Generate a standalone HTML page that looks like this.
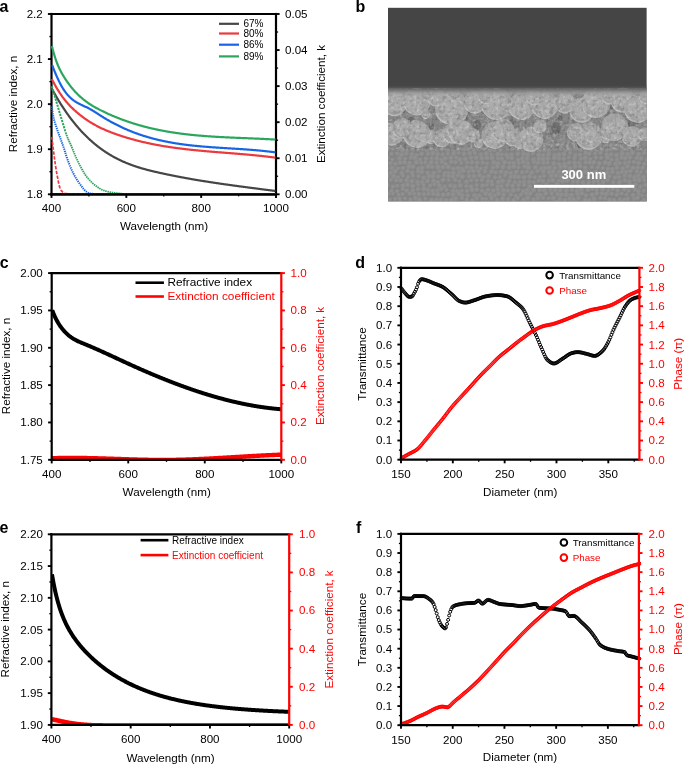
<!DOCTYPE html>
<html><head><meta charset="utf-8"><style>
html,body{margin:0;padding:0;background:#fff;}
svg{display:block;font-family:"Liberation Sans", sans-serif;will-change:transform;}
</style></head><body>
<svg width="685" height="764" viewBox="0 0 685 764">
<rect width="685" height="764" fill="#fff"/>
<line x1="50.4" y1="14" x2="276" y2="14" stroke="#000" stroke-width="2.2"/>
<line x1="50.4" y1="194.3" x2="276" y2="194.3" stroke="#000" stroke-width="2.2"/>
<line x1="51.5" y1="12.9" x2="51.5" y2="195.4" stroke="#000" stroke-width="2.2"/>
<line x1="276" y1="12.9" x2="276" y2="195.4" stroke="#000" stroke-width="2.2"/>
<line x1="51.5" y1="194.3" x2="51.5" y2="197.9" stroke="#000" stroke-width="1.9"/>
<line x1="88.91666666666666" y1="194.3" x2="88.91666666666666" y2="196.4" stroke="#000" stroke-width="1.3"/>
<line x1="126.33333333333333" y1="194.3" x2="126.33333333333333" y2="197.9" stroke="#000" stroke-width="1.9"/>
<line x1="163.75" y1="194.3" x2="163.75" y2="196.4" stroke="#000" stroke-width="1.3"/>
<line x1="201.16666666666666" y1="194.3" x2="201.16666666666666" y2="197.9" stroke="#000" stroke-width="1.9"/>
<line x1="238.58333333333334" y1="194.3" x2="238.58333333333334" y2="196.4" stroke="#000" stroke-width="1.3"/>
<line x1="276.0" y1="194.3" x2="276.0" y2="197.9" stroke="#000" stroke-width="1.9"/>
<line x1="47.9" y1="194.3" x2="51.5" y2="194.3" stroke="#000" stroke-width="1.9"/>
<line x1="49.4" y1="171.7625" x2="51.5" y2="171.7625" stroke="#000" stroke-width="1.3"/>
<line x1="47.9" y1="149.22499999999997" x2="51.5" y2="149.22499999999997" stroke="#000" stroke-width="1.9"/>
<line x1="49.4" y1="126.68749999999994" x2="51.5" y2="126.68749999999994" stroke="#000" stroke-width="1.3"/>
<line x1="47.9" y1="104.15000000000002" x2="51.5" y2="104.15000000000002" stroke="#000" stroke-width="1.9"/>
<line x1="49.4" y1="81.61250000000011" x2="51.5" y2="81.61250000000011" stroke="#000" stroke-width="1.3"/>
<line x1="47.9" y1="59.07499999999999" x2="51.5" y2="59.07499999999999" stroke="#000" stroke-width="1.9"/>
<line x1="49.4" y1="36.53750000000005" x2="51.5" y2="36.53750000000005" stroke="#000" stroke-width="1.3"/>
<line x1="47.9" y1="13.999999999999972" x2="51.5" y2="13.999999999999972" stroke="#000" stroke-width="1.9"/>
<line x1="276" y1="194.3" x2="279.6" y2="194.3" stroke="#000" stroke-width="1.9"/>
<line x1="276" y1="176.27" x2="278.1" y2="176.27" stroke="#000" stroke-width="1.3"/>
<line x1="276" y1="158.24" x2="279.6" y2="158.24" stroke="#000" stroke-width="1.9"/>
<line x1="276" y1="140.21" x2="278.1" y2="140.21" stroke="#000" stroke-width="1.3"/>
<line x1="276" y1="122.18" x2="279.6" y2="122.18" stroke="#000" stroke-width="1.9"/>
<line x1="276" y1="104.15" x2="278.1" y2="104.15" stroke="#000" stroke-width="1.3"/>
<line x1="276" y1="86.12" x2="279.6" y2="86.12" stroke="#000" stroke-width="1.9"/>
<line x1="276" y1="68.08999999999999" x2="278.1" y2="68.08999999999999" stroke="#000" stroke-width="1.3"/>
<line x1="276" y1="50.06" x2="279.6" y2="50.06" stroke="#000" stroke-width="1.9"/>
<line x1="276" y1="32.03000000000003" x2="278.1" y2="32.03000000000003" stroke="#000" stroke-width="1.3"/>
<line x1="276" y1="14.0" x2="279.6" y2="14.0" stroke="#000" stroke-width="1.9"/>
<path d="M51.80,88.62 L52.30,89.54 L52.80,90.46 L53.30,91.36 L53.80,92.26 L54.30,93.15 L54.80,94.03 L55.30,94.91 L55.80,95.77 L56.30,96.63 L56.80,97.49 L57.30,98.33 L57.80,99.17 L58.30,100.00 L58.80,100.83 L59.30,101.64 L59.80,102.45 L60.30,103.25 L60.80,104.05 L61.30,104.84 L61.80,105.62 L62.30,106.40 L62.80,107.16 L63.30,107.93 L63.80,108.68 L64.30,109.43 L64.80,110.17 L65.30,110.90 L65.80,111.63 L66.30,112.35 L66.80,113.07 L67.30,113.78 L67.80,114.48 L68.30,115.17 L68.80,115.86 L69.30,116.55 L69.80,117.22 L70.30,117.90 L70.80,118.56 L71.30,119.22 L71.80,119.87 L72.30,120.52 L72.80,121.16 L73.30,121.79 L73.80,122.42 L74.30,123.04 L74.80,123.66 L75.30,124.27 L75.80,124.87 L76.30,125.47 L76.80,126.07 L77.30,126.65 L77.80,127.24 L78.30,127.81 L78.80,128.39 L79.30,128.95 L79.80,129.51 L80.30,130.07 L80.80,130.62 L81.30,131.16 L81.80,131.70 L82.30,132.23 L82.80,132.76 L83.30,133.28 L83.80,133.80 L84.30,134.32 L84.80,134.82 L85.30,135.33 L85.80,135.83 L86.30,136.32 L86.80,136.81 L87.30,137.29 L87.80,137.77 L88.30,138.24 L88.80,138.71 L89.30,139.18 L89.80,139.64 L90.30,140.09 L90.80,140.54 L91.30,140.99 L91.80,141.43 L92.30,141.87 L92.80,142.30 L93.30,142.73 L93.80,143.16 L94.30,143.58 L94.80,143.99 L95.30,144.40 L95.80,144.81 L96.30,145.22 L96.80,145.62 L97.30,146.01 L97.80,146.40 L98.30,146.79 L98.80,147.17 L99.30,147.55 L99.80,147.93 L100.30,148.30 L100.80,148.67 L101.30,149.03 L101.80,149.39 L102.30,149.75 L102.80,150.10 L103.30,150.45 L103.80,150.79 L104.30,151.13 L104.80,151.47 L105.30,151.80 L105.80,152.13 L106.30,152.46 L106.80,152.78 L107.30,153.10 L107.80,153.42 L108.30,153.73 L108.80,154.04 L109.30,154.35 L109.80,154.65 L110.30,154.95 L110.80,155.24 L111.30,155.54 L111.80,155.83 L112.30,156.11 L112.80,156.40 L113.30,156.68 L113.80,156.95 L114.30,157.23 L114.80,157.50 L115.30,157.76 L115.80,158.03 L116.30,158.29 L116.80,158.55 L117.30,158.80 L117.80,159.06 L118.30,159.30 L118.80,159.55 L119.30,159.80 L119.80,160.04 L120.30,160.28 L120.80,160.51 L121.30,160.74 L121.80,160.97 L122.30,161.20 L122.80,161.43 L123.30,161.65 L123.80,161.87 L124.30,162.09 L124.80,162.30 L125.30,162.51 L125.80,162.72 L126.30,162.93 L126.80,163.14 L127.30,163.34 L127.80,163.54 L128.30,163.74 L128.80,163.93 L129.30,164.13 L129.80,164.32 L130.30,164.51 L130.80,164.70 L131.30,164.88 L131.80,165.06 L132.30,165.24 L132.80,165.42 L133.30,165.60 L133.80,165.78 L134.30,165.95 L134.80,166.12 L135.30,166.29 L135.80,166.46 L136.30,166.62 L136.80,166.78 L137.30,166.95 L137.80,167.11 L138.30,167.26 L138.80,167.42 L139.30,167.58 L139.80,167.73 L140.30,167.88 L140.80,168.03 L141.30,168.18 L141.80,168.33 L142.30,168.47 L142.80,168.61 L143.30,168.76 L143.80,168.90 L144.30,169.04 L144.80,169.18 L145.30,169.31 L145.80,169.45 L146.30,169.58 L146.80,169.72 L147.30,169.85 L147.80,169.98 L148.30,170.11 L148.80,170.24 L149.30,170.37 L149.80,170.49 L150.30,170.62 L150.80,170.74 L151.30,170.87 L151.80,170.99 L152.30,171.11 L152.80,171.23 L153.30,171.35 L153.80,171.47 L154.30,171.59 L154.80,171.71 L155.30,171.82 L155.80,171.94 L156.30,172.05 L156.80,172.17 L157.30,172.28 L157.80,172.40 L158.30,172.51 L158.80,172.62 L159.30,172.73 L159.80,172.84 L160.30,172.96 L160.80,173.07 L161.30,173.18 L161.80,173.29 L162.30,173.39 L162.80,173.50 L163.30,173.61 L163.80,173.72 L164.30,173.83 L164.80,173.93 L165.30,174.04 L165.80,174.15 L166.30,174.25 L166.80,174.36 L167.30,174.46 L167.80,174.57 L168.30,174.67 L168.80,174.77 L169.30,174.88 L169.80,174.98 L170.30,175.08 L170.80,175.18 L171.30,175.29 L171.80,175.39 L172.30,175.49 L172.80,175.59 L173.30,175.69 L173.80,175.79 L174.30,175.89 L174.80,175.98 L175.30,176.08 L175.80,176.18 L176.30,176.28 L176.80,176.38 L177.30,176.47 L177.80,176.57 L178.30,176.67 L178.80,176.76 L179.30,176.86 L179.80,176.95 L180.30,177.05 L180.80,177.14 L181.30,177.24 L181.80,177.33 L182.30,177.42 L182.80,177.52 L183.30,177.61 L183.80,177.70 L184.30,177.79 L184.80,177.88 L185.30,177.97 L185.80,178.07 L186.30,178.16 L186.80,178.25 L187.30,178.34 L187.80,178.43 L188.30,178.52 L188.80,178.60 L189.30,178.69 L189.80,178.78 L190.30,178.87 L190.80,178.96 L191.30,179.04 L191.80,179.13 L192.30,179.22 L192.80,179.30 L193.30,179.39 L193.80,179.48 L194.30,179.56 L194.80,179.65 L195.30,179.73 L195.80,179.82 L196.30,179.90 L196.80,179.98 L197.30,180.07 L197.80,180.15 L198.30,180.23 L198.80,180.32 L199.30,180.40 L199.80,180.48 L200.30,180.56 L200.80,180.65 L201.30,180.73 L201.80,180.81 L202.30,180.89 L202.80,180.97 L203.30,181.05 L203.80,181.13 L204.30,181.21 L204.80,181.29 L205.30,181.37 L205.80,181.45 L206.30,181.53 L206.80,181.61 L207.30,181.68 L207.80,181.76 L208.30,181.84 L208.80,181.92 L209.30,182.00 L209.80,182.07 L210.30,182.15 L210.80,182.23 L211.30,182.30 L211.80,182.38 L212.30,182.46 L212.80,182.53 L213.30,182.61 L213.80,182.68 L214.30,182.76 L214.80,182.83 L215.30,182.91 L215.80,182.98 L216.30,183.06 L216.80,183.13 L217.30,183.20 L217.80,183.28 L218.30,183.35 L218.80,183.42 L219.30,183.50 L219.80,183.57 L220.30,183.64 L220.80,183.72 L221.30,183.79 L221.80,183.86 L222.30,183.93 L222.80,184.00 L223.30,184.08 L223.80,184.15 L224.30,184.22 L224.80,184.29 L225.30,184.36 L225.80,184.43 L226.30,184.50 L226.80,184.57 L227.30,184.64 L227.80,184.71 L228.30,184.78 L228.80,184.85 L229.30,184.92 L229.80,184.99 L230.30,185.06 L230.80,185.13 L231.30,185.20 L231.80,185.27 L232.30,185.34 L232.80,185.41 L233.30,185.47 L233.80,185.54 L234.30,185.61 L234.80,185.68 L235.30,185.75 L235.80,185.82 L236.30,185.88 L236.80,185.95 L237.30,186.02 L237.80,186.09 L238.30,186.15 L238.80,186.22 L239.30,186.29 L239.80,186.35 L240.30,186.42 L240.80,186.49 L241.30,186.56 L241.80,186.62 L242.30,186.69 L242.80,186.75 L243.30,186.82 L243.80,186.89 L244.30,186.95 L244.80,187.02 L245.30,187.09 L245.80,187.15 L246.30,187.22 L246.80,187.28 L247.30,187.35 L247.80,187.41 L248.30,187.48 L248.80,187.54 L249.30,187.61 L249.80,187.68 L250.30,187.74 L250.80,187.81 L251.30,187.87 L251.80,187.94 L252.30,188.00 L252.80,188.07 L253.30,188.13 L253.80,188.20 L254.30,188.26 L254.80,188.33 L255.30,188.39 L255.80,188.46 L256.30,188.52 L256.80,188.58 L257.30,188.65 L257.80,188.71 L258.30,188.78 L258.80,188.84 L259.30,188.91 L259.80,188.97 L260.30,189.04 L260.80,189.10 L261.30,189.17 L261.80,189.23 L262.30,189.29 L262.80,189.36 L263.30,189.42 L263.80,189.49 L264.30,189.55 L264.80,189.62 L265.30,189.68 L265.80,189.74 L266.30,189.81 L266.80,189.87 L267.30,189.94 L267.80,190.00 L268.30,190.07 L268.80,190.13 L269.30,190.20 L269.80,190.26 L270.30,190.32 L270.80,190.39 L271.30,190.45 L271.80,190.52 L272.30,190.58 L272.80,190.65 L273.30,190.71 L273.80,190.78 L274.30,190.84 L274.80,190.91 L275.30,190.97 L275.50,191.00" fill="none" stroke="#464646" stroke-width="2.2" stroke-linejoin="round" stroke-linecap="butt" />
<path d="M51.80,78.89 L52.30,79.90 L52.80,80.89 L53.30,81.87 L53.80,82.82 L54.30,83.76 L54.80,84.68 L55.30,85.59 L55.80,86.47 L56.30,87.35 L56.80,88.20 L57.30,89.04 L57.80,89.86 L58.30,90.67 L58.80,91.46 L59.30,92.24 L59.80,93.00 L60.30,93.75 L60.80,94.49 L61.30,95.21 L61.80,95.92 L62.30,96.61 L62.80,97.29 L63.30,97.96 L63.80,98.62 L64.30,99.26 L64.80,99.90 L65.30,100.52 L65.80,101.13 L66.30,101.73 L66.80,102.32 L67.30,102.89 L67.80,103.46 L68.30,104.02 L68.80,104.57 L69.30,105.11 L69.80,105.64 L70.30,106.16 L70.80,106.67 L71.30,107.18 L71.80,107.67 L72.30,108.16 L72.80,108.65 L73.30,109.12 L73.80,109.59 L74.30,110.05 L74.80,110.51 L75.30,110.95 L75.80,111.40 L76.30,111.84 L76.80,112.27 L77.30,112.70 L77.80,113.12 L78.30,113.54 L78.80,113.95 L79.30,114.36 L79.80,114.76 L80.30,115.16 L80.80,115.55 L81.30,115.94 L81.80,116.33 L82.30,116.71 L82.80,117.08 L83.30,117.45 L83.80,117.82 L84.30,118.18 L84.80,118.53 L85.30,118.89 L85.80,119.24 L86.30,119.58 L86.80,119.92 L87.30,120.26 L87.80,120.59 L88.30,120.91 L88.80,121.24 L89.30,121.56 L89.80,121.87 L90.30,122.19 L90.80,122.49 L91.30,122.80 L91.80,123.10 L92.30,123.40 L92.80,123.69 L93.30,123.98 L93.80,124.26 L94.30,124.55 L94.80,124.83 L95.30,125.10 L95.80,125.37 L96.30,125.64 L96.80,125.91 L97.30,126.17 L97.80,126.43 L98.30,126.69 L98.80,126.94 L99.30,127.19 L99.80,127.44 L100.30,127.68 L100.80,127.93 L101.30,128.16 L101.80,128.40 L102.30,128.63 L102.80,128.86 L103.30,129.09 L103.80,129.32 L104.30,129.54 L104.80,129.76 L105.30,129.98 L105.80,130.20 L106.30,130.41 L106.80,130.62 L107.30,130.83 L107.80,131.03 L108.30,131.24 L108.80,131.44 L109.30,131.64 L109.80,131.84 L110.30,132.04 L110.80,132.23 L111.30,132.42 L111.80,132.61 L112.30,132.80 L112.80,132.99 L113.30,133.18 L113.80,133.36 L114.30,133.54 L114.80,133.72 L115.30,133.90 L115.80,134.08 L116.30,134.26 L116.80,134.43 L117.30,134.60 L117.80,134.78 L118.30,134.95 L118.80,135.12 L119.30,135.29 L119.80,135.45 L120.30,135.62 L120.80,135.79 L121.30,135.95 L121.80,136.11 L122.30,136.27 L122.80,136.43 L123.30,136.59 L123.80,136.75 L124.30,136.91 L124.80,137.07 L125.30,137.22 L125.80,137.37 L126.30,137.53 L126.80,137.68 L127.30,137.83 L127.80,137.98 L128.30,138.12 L128.80,138.27 L129.30,138.42 L129.80,138.56 L130.30,138.70 L130.80,138.85 L131.30,138.99 L131.80,139.13 L132.30,139.27 L132.80,139.41 L133.30,139.54 L133.80,139.68 L134.30,139.81 L134.80,139.95 L135.30,140.08 L135.80,140.21 L136.30,140.34 L136.80,140.47 L137.30,140.60 L137.80,140.73 L138.30,140.86 L138.80,140.98 L139.30,141.11 L139.80,141.23 L140.30,141.35 L140.80,141.48 L141.30,141.60 L141.80,141.72 L142.30,141.84 L142.80,141.95 L143.30,142.07 L143.80,142.19 L144.30,142.30 L144.80,142.42 L145.30,142.53 L145.80,142.64 L146.30,142.76 L146.80,142.87 L147.30,142.98 L147.80,143.08 L148.30,143.19 L148.80,143.30 L149.30,143.41 L149.80,143.51 L150.30,143.62 L150.80,143.72 L151.30,143.82 L151.80,143.92 L152.30,144.03 L152.80,144.13 L153.30,144.23 L153.80,144.32 L154.30,144.42 L154.80,144.52 L155.30,144.62 L155.80,144.71 L156.30,144.81 L156.80,144.90 L157.30,144.99 L157.80,145.08 L158.30,145.18 L158.80,145.27 L159.30,145.36 L159.80,145.45 L160.30,145.53 L160.80,145.62 L161.30,145.71 L161.80,145.80 L162.30,145.88 L162.80,145.97 L163.30,146.05 L163.80,146.13 L164.30,146.22 L164.80,146.30 L165.30,146.38 L165.80,146.46 L166.30,146.54 L166.80,146.62 L167.30,146.70 L167.80,146.78 L168.30,146.85 L168.80,146.93 L169.30,147.01 L169.80,147.08 L170.30,147.16 L170.80,147.23 L171.30,147.30 L171.80,147.38 L172.30,147.45 L172.80,147.52 L173.30,147.59 L173.80,147.66 L174.30,147.73 L174.80,147.80 L175.30,147.87 L175.80,147.94 L176.30,148.00 L176.80,148.07 L177.30,148.14 L177.80,148.20 L178.30,148.27 L178.80,148.33 L179.30,148.40 L179.80,148.46 L180.30,148.52 L180.80,148.59 L181.30,148.65 L181.80,148.71 L182.30,148.77 L182.80,148.83 L183.30,148.89 L183.80,148.95 L184.30,149.01 L184.80,149.07 L185.30,149.13 L185.80,149.19 L186.30,149.24 L186.80,149.30 L187.30,149.36 L187.80,149.41 L188.30,149.47 L188.80,149.52 L189.30,149.58 L189.80,149.63 L190.30,149.69 L190.80,149.74 L191.30,149.79 L191.80,149.85 L192.30,149.90 L192.80,149.95 L193.30,150.00 L193.80,150.05 L194.30,150.10 L194.80,150.15 L195.30,150.20 L195.80,150.25 L196.30,150.30 L196.80,150.35 L197.30,150.40 L197.80,150.45 L198.30,150.50 L198.80,150.55 L199.30,150.59 L199.80,150.64 L200.30,150.69 L200.80,150.73 L201.30,150.78 L201.80,150.83 L202.30,150.87 L202.80,150.92 L203.30,150.96 L203.80,151.01 L204.30,151.05 L204.80,151.10 L205.30,151.14 L205.80,151.18 L206.30,151.23 L206.80,151.27 L207.30,151.32 L207.80,151.36 L208.30,151.40 L208.80,151.44 L209.30,151.49 L209.80,151.53 L210.30,151.57 L210.80,151.61 L211.30,151.66 L211.80,151.70 L212.30,151.74 L212.80,151.78 L213.30,151.82 L213.80,151.86 L214.30,151.90 L214.80,151.94 L215.30,151.99 L215.80,152.03 L216.30,152.07 L216.80,152.11 L217.30,152.15 L217.80,152.19 L218.30,152.23 L218.80,152.27 L219.30,152.31 L219.80,152.35 L220.30,152.39 L220.80,152.43 L221.30,152.47 L221.80,152.51 L222.30,152.55 L222.80,152.58 L223.30,152.62 L223.80,152.66 L224.30,152.70 L224.80,152.74 L225.30,152.78 L225.80,152.82 L226.30,152.86 L226.80,152.90 L227.30,152.94 L227.80,152.98 L228.30,153.02 L228.80,153.06 L229.30,153.10 L229.80,153.14 L230.30,153.18 L230.80,153.22 L231.30,153.26 L231.80,153.30 L232.30,153.34 L232.80,153.38 L233.30,153.42 L233.80,153.46 L234.30,153.50 L234.80,153.54 L235.30,153.58 L235.80,153.62 L236.30,153.66 L236.80,153.70 L237.30,153.74 L237.80,153.78 L238.30,153.82 L238.80,153.86 L239.30,153.90 L239.80,153.95 L240.30,153.99 L240.80,154.03 L241.30,154.07 L241.80,154.11 L242.30,154.16 L242.80,154.20 L243.30,154.24 L243.80,154.29 L244.30,154.33 L244.80,154.37 L245.30,154.42 L245.80,154.46 L246.30,154.50 L246.80,154.55 L247.30,154.59 L247.80,154.64 L248.30,154.68 L248.80,154.73 L249.30,154.77 L249.80,154.82 L250.30,154.87 L250.80,154.91 L251.30,154.96 L251.80,155.01 L252.30,155.05 L252.80,155.10 L253.30,155.15 L253.80,155.20 L254.30,155.24 L254.80,155.29 L255.30,155.34 L255.80,155.39 L256.30,155.44 L256.80,155.49 L257.30,155.54 L257.80,155.59 L258.30,155.65 L258.80,155.70 L259.30,155.75 L259.80,155.80 L260.30,155.85 L260.80,155.91 L261.30,155.96 L261.80,156.01 L262.30,156.07 L262.80,156.12 L263.30,156.18 L263.80,156.23 L264.30,156.29 L264.80,156.35 L265.30,156.40 L265.80,156.46 L266.30,156.52 L266.80,156.58 L267.30,156.64 L267.80,156.70 L268.30,156.76 L268.80,156.82 L269.30,156.88 L269.80,156.94 L270.30,157.00 L270.80,157.06 L271.30,157.12 L271.80,157.19 L272.30,157.25 L272.80,157.32 L273.30,157.38 L273.80,157.45 L274.30,157.51 L274.80,157.58 L275.30,157.65 L275.50,157.67" fill="none" stroke="#ec393e" stroke-width="2.2" stroke-linejoin="round" stroke-linecap="butt" />
<path d="M52.20,65.14 L52.70,66.47 L53.20,67.77 L53.70,69.06 L54.20,70.32 L54.70,71.56 L55.20,72.78 L55.70,73.97 L56.20,75.14 L56.70,76.28 L57.20,77.40 L57.70,78.50 L58.20,79.57 L58.70,80.61 L59.20,81.63 L59.70,82.63 L60.20,83.59 L60.70,84.53 L61.20,85.45 L61.70,86.34 L62.20,87.20 L62.70,88.03 L63.20,88.84 L63.70,89.62 L64.20,90.37 L64.70,91.09 L65.20,91.79 L65.70,92.47 L66.20,93.12 L66.70,93.74 L67.20,94.35 L67.70,94.93 L68.20,95.49 L68.70,96.03 L69.20,96.55 L69.70,97.05 L70.20,97.53 L70.70,97.99 L71.20,98.44 L71.70,98.87 L72.20,99.28 L72.70,99.68 L73.20,100.06 L73.70,100.43 L74.20,100.79 L74.70,101.13 L75.20,101.47 L75.70,101.79 L76.20,102.10 L76.70,102.40 L77.20,102.69 L77.70,102.98 L78.20,103.25 L78.70,103.52 L79.20,103.79 L79.70,104.04 L80.20,104.30 L80.70,104.54 L81.20,104.79 L81.70,105.02 L82.20,105.26 L82.70,105.50 L83.20,105.73 L83.70,105.96 L84.20,106.19 L84.70,106.42 L85.20,106.65 L85.70,106.89 L86.20,107.12 L86.70,107.36 L87.20,107.60 L87.70,107.85 L88.20,108.10 L88.70,108.35 L89.20,108.61 L89.70,108.88 L90.20,109.15 L90.70,109.43 L91.20,109.72 L91.70,110.01 L92.20,110.30 L92.70,110.60 L93.20,110.91 L93.70,111.21 L94.20,111.52 L94.70,111.84 L95.20,112.15 L95.70,112.47 L96.20,112.79 L96.70,113.12 L97.20,113.44 L97.70,113.76 L98.20,114.09 L98.70,114.41 L99.20,114.74 L99.70,115.06 L100.20,115.38 L100.70,115.70 L101.20,116.02 L101.70,116.34 L102.20,116.65 L102.70,116.97 L103.20,117.28 L103.70,117.59 L104.20,117.89 L104.70,118.20 L105.20,118.50 L105.70,118.80 L106.20,119.09 L106.70,119.39 L107.20,119.68 L107.70,119.97 L108.20,120.26 L108.70,120.55 L109.20,120.83 L109.70,121.11 L110.20,121.39 L110.70,121.67 L111.20,121.95 L111.70,122.22 L112.20,122.49 L112.70,122.76 L113.20,123.03 L113.70,123.30 L114.20,123.56 L114.70,123.82 L115.20,124.08 L115.70,124.34 L116.20,124.60 L116.70,124.85 L117.20,125.10 L117.70,125.35 L118.20,125.60 L118.70,125.84 L119.20,126.09 L119.70,126.33 L120.20,126.57 L120.70,126.81 L121.20,127.04 L121.70,127.28 L122.20,127.51 L122.70,127.74 L123.20,127.97 L123.70,128.20 L124.20,128.42 L124.70,128.65 L125.20,128.87 L125.70,129.09 L126.20,129.30 L126.70,129.52 L127.20,129.73 L127.70,129.95 L128.20,130.16 L128.70,130.36 L129.20,130.57 L129.70,130.78 L130.20,130.98 L130.70,131.18 L131.20,131.38 L131.70,131.58 L132.20,131.78 L132.70,131.97 L133.20,132.16 L133.70,132.36 L134.20,132.54 L134.70,132.73 L135.20,132.92 L135.70,133.10 L136.20,133.29 L136.70,133.47 L137.20,133.65 L137.70,133.83 L138.20,134.00 L138.70,134.18 L139.20,134.35 L139.70,134.52 L140.20,134.69 L140.70,134.86 L141.20,135.03 L141.70,135.19 L142.20,135.36 L142.70,135.52 L143.20,135.68 L143.70,135.84 L144.20,136.00 L144.70,136.16 L145.20,136.31 L145.70,136.46 L146.20,136.62 L146.70,136.77 L147.20,136.92 L147.70,137.06 L148.20,137.21 L148.70,137.36 L149.20,137.50 L149.70,137.64 L150.20,137.78 L150.70,137.92 L151.20,138.06 L151.70,138.19 L152.20,138.33 L152.70,138.46 L153.20,138.60 L153.70,138.73 L154.20,138.86 L154.70,138.99 L155.20,139.11 L155.70,139.24 L156.20,139.36 L156.70,139.49 L157.20,139.61 L157.70,139.73 L158.20,139.85 L158.70,139.97 L159.20,140.08 L159.70,140.20 L160.20,140.31 L160.70,140.43 L161.20,140.54 L161.70,140.65 L162.20,140.76 L162.70,140.87 L163.20,140.98 L163.70,141.08 L164.20,141.19 L164.70,141.29 L165.20,141.39 L165.70,141.50 L166.20,141.60 L166.70,141.70 L167.20,141.79 L167.70,141.89 L168.20,141.99 L168.70,142.08 L169.20,142.18 L169.70,142.27 L170.20,142.36 L170.70,142.45 L171.20,142.54 L171.70,142.63 L172.20,142.72 L172.70,142.81 L173.20,142.89 L173.70,142.98 L174.20,143.06 L174.70,143.14 L175.20,143.23 L175.70,143.31 L176.20,143.39 L176.70,143.47 L177.20,143.54 L177.70,143.62 L178.20,143.70 L178.70,143.77 L179.20,143.85 L179.70,143.92 L180.20,144.00 L180.70,144.07 L181.20,144.14 L181.70,144.21 L182.20,144.28 L182.70,144.35 L183.20,144.42 L183.70,144.48 L184.20,144.55 L184.70,144.61 L185.20,144.68 L185.70,144.74 L186.20,144.81 L186.70,144.87 L187.20,144.93 L187.70,144.99 L188.20,145.05 L188.70,145.11 L189.20,145.17 L189.70,145.23 L190.20,145.29 L190.70,145.34 L191.20,145.40 L191.70,145.45 L192.20,145.51 L192.70,145.56 L193.20,145.62 L193.70,145.67 L194.20,145.72 L194.70,145.77 L195.20,145.82 L195.70,145.88 L196.20,145.93 L196.70,145.97 L197.20,146.02 L197.70,146.07 L198.20,146.12 L198.70,146.17 L199.20,146.21 L199.70,146.26 L200.20,146.30 L200.70,146.35 L201.20,146.39 L201.70,146.44 L202.20,146.48 L202.70,146.52 L203.20,146.57 L203.70,146.61 L204.20,146.65 L204.70,146.69 L205.20,146.73 L205.70,146.77 L206.20,146.81 L206.70,146.85 L207.20,146.89 L207.70,146.93 L208.20,146.97 L208.70,147.01 L209.20,147.04 L209.70,147.08 L210.20,147.12 L210.70,147.16 L211.20,147.19 L211.70,147.23 L212.20,147.26 L212.70,147.30 L213.20,147.33 L213.70,147.37 L214.20,147.40 L214.70,147.44 L215.20,147.47 L215.70,147.51 L216.20,147.54 L216.70,147.57 L217.20,147.61 L217.70,147.64 L218.20,147.67 L218.70,147.70 L219.20,147.74 L219.70,147.77 L220.20,147.80 L220.70,147.83 L221.20,147.87 L221.70,147.90 L222.20,147.93 L222.70,147.96 L223.20,147.99 L223.70,148.02 L224.20,148.05 L224.70,148.08 L225.20,148.12 L225.70,148.15 L226.20,148.18 L226.70,148.21 L227.20,148.24 L227.70,148.27 L228.20,148.30 L228.70,148.33 L229.20,148.36 L229.70,148.39 L230.20,148.42 L230.70,148.45 L231.20,148.48 L231.70,148.52 L232.20,148.55 L232.70,148.58 L233.20,148.61 L233.70,148.64 L234.20,148.67 L234.70,148.70 L235.20,148.73 L235.70,148.76 L236.20,148.80 L236.70,148.83 L237.20,148.86 L237.70,148.89 L238.20,148.92 L238.70,148.96 L239.20,148.99 L239.70,149.02 L240.20,149.05 L240.70,149.09 L241.20,149.12 L241.70,149.15 L242.20,149.19 L242.70,149.22 L243.20,149.26 L243.70,149.29 L244.20,149.32 L244.70,149.36 L245.20,149.39 L245.70,149.43 L246.20,149.47 L246.70,149.50 L247.20,149.54 L247.70,149.57 L248.20,149.61 L248.70,149.65 L249.20,149.69 L249.70,149.73 L250.20,149.76 L250.70,149.80 L251.20,149.84 L251.70,149.88 L252.20,149.92 L252.70,149.96 L253.20,150.00 L253.70,150.04 L254.20,150.09 L254.70,150.13 L255.20,150.17 L255.70,150.21 L256.20,150.26 L256.70,150.30 L257.20,150.35 L257.70,150.39 L258.20,150.44 L258.70,150.48 L259.20,150.53 L259.70,150.58 L260.20,150.62 L260.70,150.67 L261.20,150.72 L261.70,150.77 L262.20,150.82 L262.70,150.87 L263.20,150.92 L263.70,150.97 L264.20,151.03 L264.70,151.08 L265.20,151.13 L265.70,151.19 L266.20,151.24 L266.70,151.30 L267.20,151.35 L267.70,151.41 L268.20,151.47 L268.70,151.53 L269.20,151.58 L269.70,151.64 L270.20,151.70 L270.70,151.77 L271.20,151.83 L271.70,151.89 L272.20,151.95 L272.70,152.02 L273.20,152.08 L273.70,152.15 L274.20,152.21 L274.70,152.28 L275.20,152.35 L275.50,152.39" fill="none" stroke="#1765e6" stroke-width="2.2" stroke-linejoin="round" stroke-linecap="butt" />
<path d="M51.90,45.90 L52.40,47.96 L52.90,49.94 L53.40,51.82 L53.90,53.61 L54.40,55.31 L54.90,56.94 L55.40,58.49 L55.90,59.97 L56.40,61.38 L56.90,62.72 L57.40,64.00 L57.90,65.22 L58.40,66.39 L58.90,67.51 L59.40,68.58 L59.90,69.61 L60.40,70.59 L60.90,71.55 L61.40,72.47 L61.90,73.36 L62.40,74.23 L62.90,75.08 L63.40,75.91 L63.90,76.73 L64.40,77.53 L64.90,78.32 L65.40,79.10 L65.90,79.86 L66.40,80.60 L66.90,81.34 L67.40,82.06 L67.90,82.76 L68.40,83.46 L68.90,84.14 L69.40,84.80 L69.90,85.46 L70.40,86.11 L70.90,86.74 L71.40,87.36 L71.90,87.97 L72.40,88.57 L72.90,89.16 L73.40,89.74 L73.90,90.30 L74.40,90.86 L74.90,91.41 L75.40,91.95 L75.90,92.48 L76.40,93.00 L76.90,93.51 L77.40,94.01 L77.90,94.51 L78.40,94.99 L78.90,95.47 L79.40,95.94 L79.90,96.40 L80.40,96.85 L80.90,97.30 L81.40,97.74 L81.90,98.17 L82.40,98.59 L82.90,99.01 L83.40,99.42 L83.90,99.82 L84.40,100.21 L84.90,100.60 L85.40,100.99 L85.90,101.36 L86.40,101.73 L86.90,102.09 L87.40,102.45 L87.90,102.80 L88.40,103.15 L88.90,103.49 L89.40,103.83 L89.90,104.16 L90.40,104.48 L90.90,104.80 L91.40,105.12 L91.90,105.43 L92.40,105.73 L92.90,106.04 L93.40,106.33 L93.90,106.63 L94.40,106.92 L94.90,107.20 L95.40,107.48 L95.90,107.76 L96.40,108.04 L96.90,108.31 L97.40,108.58 L97.90,108.84 L98.40,109.10 L98.90,109.36 L99.40,109.62 L99.90,109.88 L100.40,110.13 L100.90,110.38 L101.40,110.63 L101.90,110.87 L102.40,111.12 L102.90,111.36 L103.40,111.60 L103.90,111.84 L104.40,112.08 L104.90,112.32 L105.40,112.55 L105.90,112.79 L106.40,113.02 L106.90,113.25 L107.40,113.48 L107.90,113.70 L108.40,113.93 L108.90,114.15 L109.40,114.38 L109.90,114.60 L110.40,114.82 L110.90,115.04 L111.40,115.26 L111.90,115.47 L112.40,115.68 L112.90,115.90 L113.40,116.11 L113.90,116.32 L114.40,116.53 L114.90,116.73 L115.40,116.94 L115.90,117.14 L116.40,117.35 L116.90,117.55 L117.40,117.75 L117.90,117.95 L118.40,118.14 L118.90,118.34 L119.40,118.53 L119.90,118.73 L120.40,118.92 L120.90,119.11 L121.40,119.30 L121.90,119.48 L122.40,119.67 L122.90,119.85 L123.40,120.04 L123.90,120.22 L124.40,120.40 L124.90,120.58 L125.40,120.76 L125.90,120.94 L126.40,121.11 L126.90,121.28 L127.40,121.46 L127.90,121.63 L128.40,121.80 L128.90,121.97 L129.40,122.14 L129.90,122.30 L130.40,122.47 L130.90,122.63 L131.40,122.79 L131.90,122.96 L132.40,123.12 L132.90,123.28 L133.40,123.43 L133.90,123.59 L134.40,123.74 L134.90,123.90 L135.40,124.05 L135.90,124.20 L136.40,124.35 L136.90,124.50 L137.40,124.65 L137.90,124.80 L138.40,124.94 L138.90,125.09 L139.40,125.23 L139.90,125.37 L140.40,125.51 L140.90,125.65 L141.40,125.79 L141.90,125.93 L142.40,126.07 L142.90,126.20 L143.40,126.34 L143.90,126.47 L144.40,126.60 L144.90,126.73 L145.40,126.86 L145.90,126.99 L146.40,127.12 L146.90,127.25 L147.40,127.37 L147.90,127.50 L148.40,127.62 L148.90,127.74 L149.40,127.86 L149.90,127.98 L150.40,128.10 L150.90,128.22 L151.40,128.34 L151.90,128.45 L152.40,128.57 L152.90,128.68 L153.40,128.80 L153.90,128.91 L154.40,129.02 L154.90,129.13 L155.40,129.24 L155.90,129.35 L156.40,129.45 L156.90,129.56 L157.40,129.66 L157.90,129.77 L158.40,129.87 L158.90,129.97 L159.40,130.07 L159.90,130.17 L160.40,130.27 L160.90,130.37 L161.40,130.47 L161.90,130.57 L162.40,130.66 L162.90,130.76 L163.40,130.85 L163.90,130.94 L164.40,131.04 L164.90,131.13 L165.40,131.22 L165.90,131.31 L166.40,131.40 L166.90,131.48 L167.40,131.57 L167.90,131.66 L168.40,131.74 L168.90,131.83 L169.40,131.91 L169.90,131.99 L170.40,132.07 L170.90,132.16 L171.40,132.24 L171.90,132.31 L172.40,132.39 L172.90,132.47 L173.40,132.55 L173.90,132.62 L174.40,132.70 L174.90,132.77 L175.40,132.85 L175.90,132.92 L176.40,132.99 L176.90,133.07 L177.40,133.14 L177.90,133.21 L178.40,133.28 L178.90,133.34 L179.40,133.41 L179.90,133.48 L180.40,133.55 L180.90,133.61 L181.40,133.68 L181.90,133.74 L182.40,133.81 L182.90,133.87 L183.40,133.93 L183.90,133.99 L184.40,134.05 L184.90,134.11 L185.40,134.17 L185.90,134.23 L186.40,134.29 L186.90,134.35 L187.40,134.41 L187.90,134.46 L188.40,134.52 L188.90,134.57 L189.40,134.63 L189.90,134.68 L190.40,134.73 L190.90,134.79 L191.40,134.84 L191.90,134.89 L192.40,134.94 L192.90,134.99 L193.40,135.04 L193.90,135.09 L194.40,135.14 L194.90,135.19 L195.40,135.24 L195.90,135.28 L196.40,135.33 L196.90,135.38 L197.40,135.42 L197.90,135.47 L198.40,135.51 L198.90,135.55 L199.40,135.60 L199.90,135.64 L200.40,135.68 L200.90,135.72 L201.40,135.77 L201.90,135.81 L202.40,135.85 L202.90,135.89 L203.40,135.93 L203.90,135.97 L204.40,136.01 L204.90,136.04 L205.40,136.08 L205.90,136.12 L206.40,136.16 L206.90,136.19 L207.40,136.23 L207.90,136.26 L208.40,136.30 L208.90,136.33 L209.40,136.37 L209.90,136.40 L210.40,136.44 L210.90,136.47 L211.40,136.50 L211.90,136.53 L212.40,136.57 L212.90,136.60 L213.40,136.63 L213.90,136.66 L214.40,136.69 L214.90,136.72 L215.40,136.75 L215.90,136.78 L216.40,136.81 L216.90,136.84 L217.40,136.87 L217.90,136.90 L218.40,136.93 L218.90,136.95 L219.40,136.98 L219.90,137.01 L220.40,137.04 L220.90,137.06 L221.40,137.09 L221.90,137.12 L222.40,137.14 L222.90,137.17 L223.40,137.19 L223.90,137.22 L224.40,137.24 L224.90,137.27 L225.40,137.29 L225.90,137.32 L226.40,137.34 L226.90,137.36 L227.40,137.39 L227.90,137.41 L228.40,137.44 L228.90,137.46 L229.40,137.48 L229.90,137.50 L230.40,137.53 L230.90,137.55 L231.40,137.57 L231.90,137.59 L232.40,137.62 L232.90,137.64 L233.40,137.66 L233.90,137.68 L234.40,137.70 L234.90,137.73 L235.40,137.75 L235.90,137.77 L236.40,137.79 L236.90,137.81 L237.40,137.83 L237.90,137.85 L238.40,137.87 L238.90,137.89 L239.40,137.91 L239.90,137.93 L240.40,137.95 L240.90,137.98 L241.40,138.00 L241.90,138.02 L242.40,138.04 L242.90,138.06 L243.40,138.08 L243.90,138.10 L244.40,138.12 L244.90,138.14 L245.40,138.16 L245.90,138.18 L246.40,138.20 L246.90,138.22 L247.40,138.24 L247.90,138.26 L248.40,138.28 L248.90,138.30 L249.40,138.32 L249.90,138.34 L250.40,138.36 L250.90,138.38 L251.40,138.40 L251.90,138.42 L252.40,138.44 L252.90,138.47 L253.40,138.49 L253.90,138.51 L254.40,138.53 L254.90,138.55 L255.40,138.57 L255.90,138.59 L256.40,138.61 L256.90,138.64 L257.40,138.66 L257.90,138.68 L258.40,138.70 L258.90,138.72 L259.40,138.75 L259.90,138.77 L260.40,138.79 L260.90,138.82 L261.40,138.84 L261.90,138.86 L262.40,138.89 L262.90,138.91 L263.40,138.93 L263.90,138.96 L264.40,138.98 L264.90,139.01 L265.40,139.03 L265.90,139.06 L266.40,139.08 L266.90,139.11 L267.40,139.13 L267.90,139.16 L268.40,139.18 L268.90,139.21 L269.40,139.24 L269.90,139.26 L270.40,139.29 L270.90,139.32 L271.40,139.35 L271.90,139.37 L272.40,139.40 L272.90,139.43 L273.40,139.46 L273.90,139.49 L274.40,139.52 L274.90,139.55 L275.40,139.58 L275.50,139.59" fill="none" stroke="#2aa75e" stroke-width="2.2" stroke-linejoin="round" stroke-linecap="butt" />
<path d="M51.80,136.80 L52.30,141.27 L52.80,145.41 L53.30,149.26 L53.80,153.15 L54.30,157.00 L54.80,160.67 L55.30,164.20 L55.80,167.50 L56.30,170.54 L56.80,173.40 L57.30,176.12 L57.80,178.76 L58.30,181.47 L58.80,183.97 L59.30,185.90 L59.80,187.35 L60.30,188.63 L60.80,189.72 L61.30,190.59 L61.80,191.21 L62.30,191.72 L62.80,192.18 L63.30,192.59 L63.80,192.94 L64.30,193.21 L64.80,193.41 L65.30,193.52 L65.80,193.59 L66.30,193.65 L66.80,193.71 L67.30,193.77 L67.80,193.81 L68.30,193.85 L68.80,193.87 L69.30,193.89 L69.80,193.90 L70.30,193.90 L70.80,193.90 L71.30,193.90 L71.80,193.90 L72.30,193.90 L72.80,193.90 L73.30,193.90 L73.80,193.90 L74.30,193.90 L74.80,193.90 L75.30,193.90 L75.80,193.90 L76.30,193.90 L76.80,193.90 L77.30,193.90 L77.80,193.90 L78.30,193.90 L78.80,193.90 L79.30,193.90 L79.80,193.90 L80.30,193.90 L80.80,193.90 L81.30,193.90 L81.80,193.90 L82.30,193.90 L82.80,193.90 L83.30,193.90 L83.80,193.90 L84.30,193.90 L84.80,193.90 L85.30,193.90 L85.80,193.90 L86.30,193.90 L86.80,193.90 L87.30,193.90 L87.80,193.90 L88.30,193.90 L88.80,193.90 L89.30,193.90 L89.80,193.90 L90.30,193.90 L90.80,193.90 L91.30,193.90 L91.80,193.90 L92.30,193.90 L92.80,193.90 L93.30,193.90 L93.80,193.90 L94.30,193.90 L94.80,193.90 L95.30,193.90 L95.80,193.90 L96.30,193.90 L96.80,193.90 L97.30,193.90 L97.80,193.90 L98.30,193.90 L98.80,193.90 L99.30,193.90 L99.80,193.90 L100.30,193.90 L100.80,193.90 L101.30,193.90 L101.80,193.90 L102.30,193.90 L102.80,193.90 L103.30,193.90 L103.80,193.90 L104.30,193.90 L104.80,193.90 L105.30,193.90 L105.80,193.90 L106.30,193.90 L106.80,193.90 L107.30,193.90 L107.80,193.90 L108.30,193.90 L108.80,193.90 L109.30,193.90 L109.80,193.90 L110.30,193.90 L110.80,193.90 L111.30,193.90 L111.80,193.90 L112.30,193.90 L112.80,193.90 L113.30,193.90 L113.80,193.90 L114.30,193.90 L114.80,193.90 L115.30,193.90 L115.80,193.90 L116.30,193.90 L116.80,193.90 L117.30,193.90 L117.80,193.90 L118.30,193.90 L118.80,193.90 L119.30,193.90 L119.80,193.90 L120.30,193.90 L120.80,193.90 L121.30,193.90 L121.80,193.90 L122.30,193.90 L122.80,193.90 L123.30,193.90 L123.80,193.90 L124.30,193.90 L124.80,193.90 L125.30,193.90 L125.80,193.90 L126.30,193.90 L126.80,193.90 L127.30,193.90 L127.80,193.90 L128.30,193.90 L128.80,193.90 L129.30,193.90 L129.80,193.90 L130.30,193.90 L130.80,193.90 L131.30,193.90 L131.80,193.90 L132.30,193.90 L132.80,193.90 L133.30,193.90 L133.80,193.90 L134.30,193.90 L134.80,193.90 L135.30,193.90 L135.80,193.90 L136.30,193.90 L136.80,193.90 L137.30,193.90 L137.80,193.90 L138.30,193.90 L138.80,193.90 L139.30,193.90 L139.80,193.90 L140.30,193.90 L140.80,193.90 L141.30,193.90 L141.80,193.90 L142.30,193.90 L142.80,193.90 L143.30,193.90 L143.80,193.90 L144.30,193.90 L144.80,193.90 L145.30,193.90 L145.80,193.90 L146.30,193.90 L146.80,193.90 L147.30,193.90 L147.80,193.90 L148.30,193.90 L148.80,193.90 L149.30,193.90 L149.80,193.90 L150.30,193.90 L150.80,193.90 L151.30,193.90 L151.80,193.90 L152.30,193.90 L152.80,193.90 L153.30,193.90 L153.80,193.90 L154.30,193.90 L154.80,193.90 L155.30,193.90 L155.80,193.90 L156.30,193.90 L156.80,193.90 L157.30,193.90 L157.80,193.90 L158.30,193.90 L158.80,193.90 L159.30,193.90 L159.80,193.90 L160.30,193.90 L160.80,193.90 L161.30,193.90 L161.80,193.90 L162.30,193.90 L162.80,193.90 L163.30,193.90 L163.80,193.90 L164.30,193.90 L164.80,193.90 L165.30,193.90 L165.80,193.90 L166.30,193.90 L166.80,193.90 L167.30,193.90 L167.80,193.90 L168.30,193.90 L168.80,193.90 L169.30,193.90 L169.80,193.90 L170.30,193.90 L170.80,193.90 L171.30,193.90 L171.80,193.90 L172.30,193.90 L172.80,193.90 L173.30,193.90 L173.80,193.90 L174.30,193.90 L174.80,193.90 L175.30,193.90 L175.80,193.90 L176.30,193.90 L176.80,193.90 L177.30,193.90 L177.80,193.90 L178.30,193.90 L178.80,193.90 L179.30,193.90 L179.80,193.90 L180.30,193.90 L180.80,193.90 L181.30,193.90 L181.80,193.90 L182.30,193.90 L182.80,193.90 L183.30,193.90 L183.80,193.90 L184.30,193.90 L184.80,193.90 L185.30,193.90 L185.80,193.90 L186.30,193.90 L186.80,193.90 L187.30,193.90 L187.80,193.90 L188.30,193.90 L188.80,193.90 L189.30,193.90 L189.80,193.90 L190.30,193.90 L190.80,193.90 L191.30,193.90 L191.80,193.90 L192.30,193.90 L192.80,193.90 L193.30,193.90 L193.80,193.90 L194.30,193.90 L194.80,193.90 L195.30,193.90 L195.80,193.90 L196.30,193.90 L196.80,193.90 L197.30,193.90 L197.80,193.90 L198.30,193.90 L198.80,193.90 L199.30,193.90 L199.80,193.90 L200.30,193.90 L200.80,193.90 L201.30,193.90 L201.80,193.90 L202.30,193.90 L202.80,193.90 L203.30,193.90 L203.80,193.90 L204.30,193.90 L204.80,193.90 L205.30,193.90 L205.80,193.90 L206.30,193.90 L206.80,193.90 L207.30,193.90 L207.80,193.90 L208.30,193.90 L208.80,193.90 L209.30,193.90 L209.80,193.90 L210.30,193.90 L210.80,193.90 L211.30,193.90 L211.80,193.90 L212.30,193.90 L212.80,193.90 L213.30,193.90 L213.80,193.90 L214.30,193.90 L214.80,193.90 L215.30,193.90 L215.80,193.90 L216.30,193.90 L216.80,193.90 L217.30,193.90 L217.80,193.90 L218.30,193.90 L218.80,193.90 L219.30,193.90 L219.80,193.90 L220.30,193.90 L220.80,193.90 L221.30,193.90 L221.80,193.90 L222.30,193.90 L222.80,193.90 L223.30,193.90 L223.80,193.90 L224.30,193.90 L224.80,193.90 L225.30,193.90 L225.80,193.90 L226.30,193.90 L226.80,193.90 L227.30,193.90 L227.80,193.90 L228.30,193.90 L228.80,193.90 L229.30,193.90 L229.80,193.90 L230.30,193.90 L230.80,193.90 L231.30,193.90 L231.80,193.90 L232.30,193.90 L232.80,193.90 L233.30,193.90 L233.80,193.90 L234.30,193.90 L234.80,193.90 L235.30,193.90 L235.80,193.90 L236.30,193.90 L236.80,193.90 L237.30,193.90 L237.80,193.90 L238.30,193.90 L238.80,193.90 L239.30,193.90 L239.80,193.90 L240.30,193.90 L240.80,193.90 L241.30,193.90 L241.80,193.90 L242.30,193.90 L242.80,193.90 L243.30,193.90 L243.80,193.90 L244.30,193.90 L244.80,193.90 L245.30,193.90 L245.80,193.90 L246.30,193.90 L246.80,193.90 L247.30,193.90 L247.80,193.90 L248.30,193.90 L248.80,193.90 L249.30,193.90 L249.80,193.90 L250.30,193.90 L250.80,193.90 L251.30,193.90 L251.80,193.90 L252.30,193.90 L252.80,193.90 L253.30,193.90 L253.80,193.90 L254.30,193.90 L254.80,193.90 L255.30,193.90 L255.80,193.90 L256.30,193.90 L256.80,193.90 L257.30,193.90 L257.80,193.90 L258.30,193.90 L258.80,193.90 L259.30,193.90 L259.80,193.90 L260.30,193.90 L260.80,193.90 L261.30,193.90 L261.80,193.90 L262.30,193.90 L262.80,193.90 L263.30,193.90 L263.80,193.90 L264.30,193.90 L264.80,193.90 L265.30,193.90 L265.80,193.90 L266.30,193.90 L266.80,193.90 L267.30,193.90 L267.80,193.90 L268.30,193.90 L268.80,193.90 L269.30,193.90 L269.80,193.90 L270.30,193.90 L270.80,193.90 L271.30,193.90 L271.80,193.90 L272.30,193.90 L272.80,193.90 L273.30,193.90 L273.80,193.90 L274.30,193.90 L274.80,193.90 L275.30,193.90 L275.80,193.90 L276.00,193.90" fill="none" stroke="#ec393e" stroke-width="1.7" stroke-linejoin="round" stroke-linecap="butt" stroke-dasharray="3.4,1.5"/>
<path d="M51.80,106.50 L52.30,110.24 L52.80,113.64 L53.30,116.53 L53.80,118.79 L54.30,120.69 L54.80,122.36 L55.30,123.88 L55.80,125.38 L56.30,126.92 L56.80,128.45 L57.30,129.93 L57.80,131.37 L58.30,132.79 L58.80,134.20 L59.30,135.58 L59.80,136.92 L60.30,138.25 L60.80,139.58 L61.30,140.93 L61.80,142.30 L62.30,143.67 L62.80,145.05 L63.30,146.46 L63.80,147.91 L64.30,149.42 L64.80,151.04 L65.30,152.70 L65.80,154.34 L66.30,155.90 L66.80,157.37 L67.30,158.80 L67.80,160.22 L68.30,161.60 L68.80,162.95 L69.30,164.26 L69.80,165.53 L70.30,166.76 L70.80,167.94 L71.30,169.07 L71.80,170.17 L72.30,171.24 L72.80,172.28 L73.30,173.28 L73.80,174.26 L74.30,175.21 L74.80,176.12 L75.30,177.01 L75.80,177.87 L76.30,178.70 L76.80,179.50 L77.30,180.27 L77.80,181.03 L78.30,181.76 L78.80,182.48 L79.30,183.18 L79.80,183.88 L80.30,184.56 L80.80,185.25 L81.30,185.95 L81.80,186.66 L82.30,187.35 L82.80,188.03 L83.30,188.68 L83.80,189.28 L84.30,189.83 L84.80,190.32 L85.30,190.76 L85.80,191.18 L86.30,191.60 L86.80,192.01 L87.30,192.38 L87.80,192.72 L88.30,193.01 L88.80,193.25 L89.30,193.42 L89.80,193.51 L90.30,193.58 L90.80,193.64 L91.30,193.69 L91.80,193.74 L92.30,193.79 L92.80,193.82 L93.30,193.85 L93.80,193.88 L94.30,193.89 L94.80,193.90 L95.30,193.90 L95.80,193.90 L96.30,193.90 L96.80,193.90 L97.30,193.90 L97.80,193.90 L98.30,193.90 L98.80,193.90 L99.30,193.90 L99.80,193.90 L100.30,193.90 L100.80,193.90 L101.30,193.90 L101.80,193.90 L102.30,193.90 L102.80,193.90 L103.30,193.90 L103.80,193.90 L104.30,193.90 L104.80,193.90 L105.30,193.90 L105.80,193.90 L106.30,193.90 L106.80,193.90 L107.30,193.90 L107.80,193.90 L108.30,193.90 L108.80,193.90 L109.30,193.90 L109.80,193.90 L110.30,193.90 L110.80,193.90 L111.30,193.90 L111.80,193.90 L112.30,193.90 L112.80,193.90 L113.30,193.90 L113.80,193.90 L114.30,193.90 L114.80,193.90 L115.30,193.90 L115.80,193.90 L116.30,193.90 L116.80,193.90 L117.30,193.90 L117.80,193.90 L118.30,193.90 L118.80,193.90 L119.30,193.90 L119.80,193.90 L120.30,193.90 L120.80,193.90 L121.30,193.90 L121.80,193.90 L122.30,193.90 L122.80,193.90 L123.30,193.90 L123.80,193.90 L124.30,193.90 L124.80,193.90 L125.30,193.90 L125.80,193.90 L126.30,193.90 L126.80,193.90 L127.30,193.90 L127.80,193.90 L128.30,193.90 L128.80,193.90 L129.30,193.90 L129.80,193.90 L130.30,193.90 L130.80,193.90 L131.30,193.90 L131.80,193.90 L132.30,193.90 L132.80,193.90 L133.30,193.90 L133.80,193.90 L134.30,193.90 L134.80,193.90 L135.30,193.90 L135.80,193.90 L136.30,193.90 L136.80,193.90 L137.30,193.90 L137.80,193.90 L138.30,193.90 L138.80,193.90 L139.30,193.90 L139.80,193.90 L140.30,193.90 L140.80,193.90 L141.30,193.90 L141.80,193.90 L142.30,193.90 L142.80,193.90 L143.30,193.90 L143.80,193.90 L144.30,193.90 L144.80,193.90 L145.30,193.90 L145.80,193.90 L146.30,193.90 L146.80,193.90 L147.30,193.90 L147.80,193.90 L148.30,193.90 L148.80,193.90 L149.30,193.90 L149.80,193.90 L150.30,193.90 L150.80,193.90 L151.30,193.90 L151.80,193.90 L152.30,193.90 L152.80,193.90 L153.30,193.90 L153.80,193.90 L154.30,193.90 L154.80,193.90 L155.30,193.90 L155.80,193.90 L156.30,193.90 L156.80,193.90 L157.30,193.90 L157.80,193.90 L158.30,193.90 L158.80,193.90 L159.30,193.90 L159.80,193.90 L160.30,193.90 L160.80,193.90 L161.30,193.90 L161.80,193.90 L162.30,193.90 L162.80,193.90 L163.30,193.90 L163.80,193.90 L164.30,193.90 L164.80,193.90 L165.30,193.90 L165.80,193.90 L166.30,193.90 L166.80,193.90 L167.30,193.90 L167.80,193.90 L168.30,193.90 L168.80,193.90 L169.30,193.90 L169.80,193.90 L170.30,193.90 L170.80,193.90 L171.30,193.90 L171.80,193.90 L172.30,193.90 L172.80,193.90 L173.30,193.90 L173.80,193.90 L174.30,193.90 L174.80,193.90 L175.30,193.90 L175.80,193.90 L176.30,193.90 L176.80,193.90 L177.30,193.90 L177.80,193.90 L178.30,193.90 L178.80,193.90 L179.30,193.90 L179.80,193.90 L180.30,193.90 L180.80,193.90 L181.30,193.90 L181.80,193.90 L182.30,193.90 L182.80,193.90 L183.30,193.90 L183.80,193.90 L184.30,193.90 L184.80,193.90 L185.30,193.90 L185.80,193.90 L186.30,193.90 L186.80,193.90 L187.30,193.90 L187.80,193.90 L188.30,193.90 L188.80,193.90 L189.30,193.90 L189.80,193.90 L190.30,193.90 L190.80,193.90 L191.30,193.90 L191.80,193.90 L192.30,193.90 L192.80,193.90 L193.30,193.90 L193.80,193.90 L194.30,193.90 L194.80,193.90 L195.30,193.90 L195.80,193.90 L196.30,193.90 L196.80,193.90 L197.30,193.90 L197.80,193.90 L198.30,193.90 L198.80,193.90 L199.30,193.90 L199.80,193.90 L200.30,193.90 L200.80,193.90 L201.30,193.90 L201.80,193.90 L202.30,193.90 L202.80,193.90 L203.30,193.90 L203.80,193.90 L204.30,193.90 L204.80,193.90 L205.30,193.90 L205.80,193.90 L206.30,193.90 L206.80,193.90 L207.30,193.90 L207.80,193.90 L208.30,193.90 L208.80,193.90 L209.30,193.90 L209.80,193.90 L210.30,193.90 L210.80,193.90 L211.30,193.90 L211.80,193.90 L212.30,193.90 L212.80,193.90 L213.30,193.90 L213.80,193.90 L214.30,193.90 L214.80,193.90 L215.30,193.90 L215.80,193.90 L216.30,193.90 L216.80,193.90 L217.30,193.90 L217.80,193.90 L218.30,193.90 L218.80,193.90 L219.30,193.90 L219.80,193.90 L220.30,193.90 L220.80,193.90 L221.30,193.90 L221.80,193.90 L222.30,193.90 L222.80,193.90 L223.30,193.90 L223.80,193.90 L224.30,193.90 L224.80,193.90 L225.30,193.90 L225.80,193.90 L226.30,193.90 L226.80,193.90 L227.30,193.90 L227.80,193.90 L228.30,193.90 L228.80,193.90 L229.30,193.90 L229.80,193.90 L230.30,193.90 L230.80,193.90 L231.30,193.90 L231.80,193.90 L232.30,193.90 L232.80,193.90 L233.30,193.90 L233.80,193.90 L234.30,193.90 L234.80,193.90 L235.30,193.90 L235.80,193.90 L236.30,193.90 L236.80,193.90 L237.30,193.90 L237.80,193.90 L238.30,193.90 L238.80,193.90 L239.30,193.90 L239.80,193.90 L240.30,193.90 L240.80,193.90 L241.30,193.90 L241.80,193.90 L242.30,193.90 L242.80,193.90 L243.30,193.90 L243.80,193.90 L244.30,193.90 L244.80,193.90 L245.30,193.90 L245.80,193.90 L246.30,193.90 L246.80,193.90 L247.30,193.90 L247.80,193.90 L248.30,193.90 L248.80,193.90 L249.30,193.90 L249.80,193.90 L250.30,193.90 L250.80,193.90 L251.30,193.90 L251.80,193.90 L252.30,193.90 L252.80,193.90 L253.30,193.90 L253.80,193.90 L254.30,193.90 L254.80,193.90 L255.30,193.90 L255.80,193.90 L256.30,193.90 L256.80,193.90 L257.30,193.90 L257.80,193.90 L258.30,193.90 L258.80,193.90 L259.30,193.90 L259.80,193.90 L260.30,193.90 L260.80,193.90 L261.30,193.90 L261.80,193.90 L262.30,193.90 L262.80,193.90 L263.30,193.90 L263.80,193.90 L264.30,193.90 L264.80,193.90 L265.30,193.90 L265.80,193.90 L266.30,193.90 L266.80,193.90 L267.30,193.90 L267.80,193.90 L268.30,193.90 L268.80,193.90 L269.30,193.90 L269.80,193.90 L270.30,193.90 L270.80,193.90 L271.30,193.90 L271.80,193.90 L272.30,193.90 L272.80,193.90 L273.30,193.90 L273.80,193.90 L274.30,193.90 L274.80,193.90 L275.30,193.90 L275.80,193.90 L276.00,193.90" fill="none" stroke="#1765e6" stroke-width="2.0" stroke-linejoin="round" stroke-linecap="butt" stroke-dasharray="1.3,0.9"/>
<path d="M51.80,86.30 L52.30,87.97 L52.80,89.63 L53.30,91.31 L53.80,92.98 L54.30,94.66 L54.80,96.35 L55.30,98.04 L55.80,99.73 L56.30,101.43 L56.80,103.12 L57.30,104.82 L57.80,106.52 L58.30,108.21 L58.80,109.91 L59.30,111.60 L59.80,113.27 L60.30,114.93 L60.80,116.58 L61.30,118.22 L61.80,119.86 L62.30,121.50 L62.80,123.15 L63.30,124.82 L63.80,126.48 L64.30,128.11 L64.80,129.69 L65.30,131.22 L65.80,132.74" fill="none" stroke="#2aa75e" stroke-width="2.0" stroke-dasharray="2.2,1.0"/>
<path d="M65.80,132.74 L66.30,134.22 L66.80,135.64 L67.30,136.99 L67.80,138.24 L68.30,139.39 L68.80,140.49 L69.30,141.54 L69.80,142.59 L70.30,143.65 L70.80,144.74 L71.30,145.90 L71.80,147.11 L72.30,148.35 L72.80,149.61 L73.30,150.88 L73.80,152.14 L74.30,153.39 L74.80,154.61 L75.30,155.79 L75.80,156.92 L76.30,158.02 L76.80,159.11 L77.30,160.18 L77.80,161.23 L78.30,162.26 L78.80,163.28 L79.30,164.28 L79.80,165.25 L80.30,166.21 L80.80,167.14 L81.30,168.04 L81.80,168.93 L82.30,169.81 L82.80,170.68 L83.30,171.54 L83.80,172.38 L84.30,173.20 L84.80,174.01 L85.30,174.78 L85.80,175.53 L86.30,176.25 L86.80,176.93 L87.30,177.58 L87.80,178.19 L88.30,178.78 L88.80,179.35 L89.30,179.91 L89.80,180.45 L90.30,180.98 L90.80,181.49 L91.30,181.98 L91.80,182.46 L92.30,182.92 L92.80,183.37 L93.30,183.80 L93.80,184.22 L94.30,184.62 L94.80,185.02 L95.30,185.41 L95.80,185.79 L96.30,186.17 L96.80,186.55 L97.30,186.92 L97.80,187.27 L98.30,187.62 L98.80,187.96 L99.30,188.28 L99.80,188.59 L100.30,188.88 L100.80,189.16 L101.30,189.42 L101.80,189.66 L102.30,189.88 L102.80,190.08 L103.30,190.27 L103.80,190.45 L104.30,190.63 L104.80,190.79 L105.30,190.96 L105.80,191.11 L106.30,191.26 L106.80,191.40 L107.30,191.54 L107.80,191.66 L108.30,191.79 L108.80,191.90 L109.30,192.02 L109.80,192.12 L110.30,192.22 L110.80,192.32 L111.30,192.41 L111.80,192.50 L112.30,192.58 L112.80,192.66 L113.30,192.74 L113.80,192.82 L114.30,192.89 L114.80,192.96 L115.30,193.02 L115.80,193.08 L116.30,193.14 L116.80,193.20 L117.30,193.26 L117.80,193.31 L118.30,193.36 L118.80,193.42 L119.30,193.48 L119.80,193.53 L120.30,193.59 L120.80,193.64 L121.30,193.69 L121.80,193.74 L122.30,193.78 L122.80,193.82 L123.30,193.85 L123.80,193.87 L124.30,193.89 L124.80,193.90 L125.30,193.90 L125.80,193.90 L126.30,193.90 L126.80,193.90 L127.30,193.90 L127.80,193.90 L128.30,193.90 L128.80,193.90 L129.30,193.90 L129.80,193.90 L130.30,193.90 L130.80,193.90 L131.30,193.90 L131.80,193.90 L132.30,193.90 L132.80,193.90 L133.30,193.90 L133.80,193.90 L134.30,193.90 L134.80,193.90 L135.30,193.90 L135.80,193.90 L136.30,193.90 L136.80,193.90 L137.30,193.90 L137.80,193.90 L138.30,193.90 L138.80,193.90 L139.30,193.90 L139.80,193.90 L140.30,193.90 L140.80,193.90 L141.30,193.90 L141.80,193.90 L142.30,193.90 L142.80,193.90 L143.30,193.90 L143.80,193.90 L144.30,193.90 L144.80,193.90 L145.30,193.90 L145.80,193.90 L146.30,193.90 L146.80,193.90 L147.30,193.90 L147.80,193.90 L148.30,193.90 L148.80,193.90 L149.30,193.90 L149.80,193.90 L150.30,193.90 L150.80,193.90 L151.30,193.90 L151.80,193.90 L152.30,193.90 L152.80,193.90 L153.30,193.90 L153.80,193.90 L154.30,193.90 L154.80,193.90 L155.30,193.90 L155.80,193.90 L156.30,193.90 L156.80,193.90 L157.30,193.90 L157.80,193.90 L158.30,193.90 L158.80,193.90 L159.30,193.90 L159.80,193.90 L160.30,193.90 L160.80,193.90 L161.30,193.90 L161.80,193.90 L162.30,193.90 L162.80,193.90 L163.30,193.90 L163.80,193.90 L164.30,193.90 L164.80,193.90 L165.30,193.90 L165.80,193.90 L166.30,193.90 L166.80,193.90 L167.30,193.90 L167.80,193.90 L168.30,193.90 L168.80,193.90 L169.30,193.90 L169.80,193.90 L170.30,193.90 L170.80,193.90 L171.30,193.90 L171.80,193.90 L172.30,193.90 L172.80,193.90 L173.30,193.90 L173.80,193.90 L174.30,193.90 L174.80,193.90 L175.30,193.90 L175.80,193.90 L176.30,193.90 L176.80,193.90 L177.30,193.90 L177.80,193.90 L178.30,193.90 L178.80,193.90 L179.30,193.90 L179.80,193.90 L180.30,193.90 L180.80,193.90 L181.30,193.90 L181.80,193.90 L182.30,193.90 L182.80,193.90 L183.30,193.90 L183.80,193.90 L184.30,193.90 L184.80,193.90 L185.30,193.90 L185.80,193.90 L186.30,193.90 L186.80,193.90 L187.30,193.90 L187.80,193.90 L188.30,193.90 L188.80,193.90 L189.30,193.90 L189.80,193.90 L190.30,193.90 L190.80,193.90 L191.30,193.90 L191.80,193.90 L192.30,193.90 L192.80,193.90 L193.30,193.90 L193.80,193.90 L194.30,193.90 L194.80,193.90 L195.30,193.90 L195.80,193.90 L196.30,193.90 L196.80,193.90 L197.30,193.90 L197.80,193.90 L198.30,193.90 L198.80,193.90 L199.30,193.90 L199.80,193.90 L200.30,193.90 L200.80,193.90 L201.30,193.90 L201.80,193.90 L202.30,193.90 L202.80,193.90 L203.30,193.90 L203.80,193.90 L204.30,193.90 L204.80,193.90 L205.30,193.90 L205.80,193.90 L206.30,193.90 L206.80,193.90 L207.30,193.90 L207.80,193.90 L208.30,193.90 L208.80,193.90 L209.30,193.90 L209.80,193.90 L210.30,193.90 L210.80,193.90 L211.30,193.90 L211.80,193.90 L212.30,193.90 L212.80,193.90 L213.30,193.90 L213.80,193.90 L214.30,193.90 L214.80,193.90 L215.30,193.90 L215.80,193.90 L216.30,193.90 L216.80,193.90 L217.30,193.90 L217.80,193.90 L218.30,193.90 L218.80,193.90 L219.30,193.90 L219.80,193.90 L220.30,193.90 L220.80,193.90 L221.30,193.90 L221.80,193.90 L222.30,193.90 L222.80,193.90 L223.30,193.90 L223.80,193.90 L224.30,193.90 L224.80,193.90 L225.30,193.90 L225.80,193.90 L226.30,193.90 L226.80,193.90 L227.30,193.90 L227.80,193.90 L228.30,193.90 L228.80,193.90 L229.30,193.90 L229.80,193.90 L230.30,193.90 L230.80,193.90 L231.30,193.90 L231.80,193.90 L232.30,193.90 L232.80,193.90 L233.30,193.90 L233.80,193.90 L234.30,193.90 L234.80,193.90 L235.30,193.90 L235.80,193.90 L236.30,193.90 L236.80,193.90 L237.30,193.90 L237.80,193.90 L238.30,193.90 L238.80,193.90 L239.30,193.90 L239.80,193.90 L240.30,193.90 L240.80,193.90 L241.30,193.90 L241.80,193.90 L242.30,193.90 L242.80,193.90 L243.30,193.90 L243.80,193.90 L244.30,193.90 L244.80,193.90 L245.30,193.90 L245.80,193.90 L246.30,193.90 L246.80,193.90 L247.30,193.90 L247.80,193.90 L248.30,193.90 L248.80,193.90 L249.30,193.90 L249.80,193.90 L250.30,193.90 L250.80,193.90 L251.30,193.90 L251.80,193.90 L252.30,193.90 L252.80,193.90 L253.30,193.90 L253.80,193.90 L254.30,193.90 L254.80,193.90 L255.30,193.90 L255.80,193.90 L256.30,193.90 L256.80,193.90 L257.30,193.90 L257.80,193.90 L258.30,193.90 L258.80,193.90 L259.30,193.90 L259.80,193.90 L260.30,193.90 L260.80,193.90 L261.30,193.90 L261.80,193.90 L262.30,193.90 L262.80,193.90 L263.30,193.90 L263.80,193.90 L264.30,193.90 L264.80,193.90 L265.30,193.90 L265.80,193.90 L266.30,193.90 L266.80,193.90 L267.30,193.90 L267.80,193.90 L268.30,193.90 L268.80,193.90 L269.30,193.90 L269.80,193.90 L270.30,193.90 L270.80,193.90 L271.30,193.90 L271.80,193.90 L272.30,193.90 L272.80,193.90 L273.30,193.90 L273.80,193.90 L274.30,193.90 L274.80,193.90 L275.30,193.90 L275.80,193.90 L276.00,193.90" fill="none" stroke="#2aa75e" stroke-width="1.8" stroke-dasharray="1.5,0.7"/>
<line x1="50.4" y1="194.3" x2="276" y2="194.3" stroke="#000" stroke-width="2.2"/>
<text x="51.5" y="212.3" font-size="11.6" fill="#000" text-anchor="middle" font-weight="normal" >400</text>
<text x="126.3" y="212.3" font-size="11.6" fill="#000" text-anchor="middle" font-weight="normal" >600</text>
<text x="201.2" y="212.3" font-size="11.6" fill="#000" text-anchor="middle" font-weight="normal" >800</text>
<text x="276.0" y="212.3" font-size="11.6" fill="#000" text-anchor="middle" font-weight="normal" >1000</text>
<text x="42.8" y="198.2" font-size="11.6" fill="#000" text-anchor="end" font-weight="normal" >1.8</text>
<text x="42.8" y="153.1" font-size="11.6" fill="#000" text-anchor="end" font-weight="normal" >1.9</text>
<text x="42.8" y="108.1" font-size="11.6" fill="#000" text-anchor="end" font-weight="normal" >2.0</text>
<text x="42.8" y="63.0" font-size="11.6" fill="#000" text-anchor="end" font-weight="normal" >2.1</text>
<text x="42.8" y="17.9" font-size="11.6" fill="#000" text-anchor="end" font-weight="normal" >2.2</text>
<text x="285" y="198.2" font-size="11.6" fill="#000" text-anchor="start" font-weight="normal" >0.00</text>
<text x="285" y="162.1" font-size="11.6" fill="#000" text-anchor="start" font-weight="normal" >0.01</text>
<text x="285" y="126.1" font-size="11.6" fill="#000" text-anchor="start" font-weight="normal" >0.02</text>
<text x="285" y="90.0" font-size="11.6" fill="#000" text-anchor="start" font-weight="normal" >0.03</text>
<text x="285" y="54.0" font-size="11.6" fill="#000" text-anchor="start" font-weight="normal" >0.04</text>
<text x="285" y="17.9" font-size="11.6" fill="#000" text-anchor="start" font-weight="normal" >0.05</text>
<text x="16.8" y="104" font-size="11.65" fill="#000" text-anchor="middle" font-weight="normal" transform="rotate(-90 16.8 104)" >Refractive index, n</text>
<text x="325.1" y="104" font-size="11.65" fill="#000" text-anchor="middle" font-weight="normal" transform="rotate(-90 325.1 104)" >Extinction coefficient, k</text>
<text x="164" y="230" font-size="11.65" fill="#000" text-anchor="middle" font-weight="normal" >Wavelength (nm)</text>
<line x1="219" y1="23.8" x2="239" y2="23.8" stroke="#464646" stroke-width="2.2"/>
<text x="243.5" y="27.4" font-size="10" fill="#000" text-anchor="start" font-weight="normal" >67%</text>
<line x1="219" y1="33.5" x2="239" y2="33.5" stroke="#ec393e" stroke-width="2.2"/>
<text x="243.5" y="37.1" font-size="10" fill="#000" text-anchor="start" font-weight="normal" >80%</text>
<line x1="219" y1="44.7" x2="239" y2="44.7" stroke="#1765e6" stroke-width="2.2"/>
<text x="243.5" y="48.3" font-size="10" fill="#000" text-anchor="start" font-weight="normal" >86%</text>
<line x1="219" y1="56.4" x2="239" y2="56.4" stroke="#2aa75e" stroke-width="2.2"/>
<text x="243.5" y="60.0" font-size="10" fill="#000" text-anchor="start" font-weight="normal" >89%</text>
<text x="-0.5" y="11.7" font-size="16" fill="#000" text-anchor="start" font-weight="bold" >a</text>
<defs><clipPath id="semclip"><rect x="388" y="7.6" width="258.8" height="193.9"/></clipPath><filter id="semblur" x="-5%" y="-5%" width="110%" height="110%"><feGaussianBlur stdDeviation="0.7"/></filter><filter id="semblur2" x="-5%" y="-5%" width="110%" height="110%"><feGaussianBlur stdDeviation="0.6"/></filter><radialGradient id="grain" cx="0.42" cy="0.38" r="0.62"><stop offset="0" stop-color="#939393"/><stop offset="0.7" stop-color="#8a8a8a"/><stop offset="1" stop-color="#7c7c7c"/></radialGradient><radialGradient id="blob" cx="0.5" cy="0.45" r="0.55"><stop offset="0" stop-color="#a6a6a6"/><stop offset="0.85" stop-color="#a0a0a0"/><stop offset="1" stop-color="#b8b8b8"/></radialGradient><radialGradient id="sub" cx="0.4" cy="0.4" r="0.6"><stop offset="0" stop-color="#bcbcbc"/><stop offset="0.6" stop-color="#adadad"/><stop offset="1" stop-color="#9a9a9a" stop-opacity="0.6"/></radialGradient><linearGradient id="haze" x1="0" y1="0" x2="0" y2="1"><stop offset="0" stop-color="#454545" stop-opacity="0"/><stop offset="0.4" stop-color="#6a6a6a" stop-opacity="0.9"/><stop offset="0.75" stop-color="#9c9c9c" stop-opacity="0.7"/><stop offset="1" stop-color="#a0a0a0" stop-opacity="0.0"/></linearGradient></defs>
<g clip-path="url(#semclip)">
<rect x="388" y="7.6" width="258.8" height="193.9" fill="#454545"/>
<g filter="url(#semblur2)">
<rect x="386" y="136" width="262.8" height="70" fill="#858585"/>
<circle cx="386.1" cy="136.4" r="2.8" fill="url(#grain)"/>
<circle cx="390.2" cy="136.5" r="2.8" fill="url(#grain)"/>
<circle cx="395.4" cy="136.0" r="3.0" fill="url(#grain)"/>
<circle cx="400.9" cy="135.4" r="3.0" fill="url(#grain)"/>
<circle cx="406.8" cy="136.8" r="3.1" fill="url(#grain)"/>
<circle cx="411.3" cy="135.4" r="2.4" fill="url(#grain)"/>
<circle cx="415.2" cy="136.4" r="2.6" fill="url(#grain)"/>
<circle cx="421.1" cy="136.8" r="3.0" fill="url(#grain)"/>
<circle cx="426.2" cy="136.0" r="2.9" fill="url(#grain)"/>
<circle cx="432.8" cy="137.0" r="3.1" fill="url(#grain)"/>
<circle cx="436.8" cy="135.5" r="2.6" fill="url(#grain)"/>
<circle cx="443.3" cy="136.2" r="2.7" fill="url(#grain)"/>
<circle cx="447.9" cy="135.8" r="3.0" fill="url(#grain)"/>
<circle cx="455.3" cy="136.3" r="2.7" fill="url(#grain)"/>
<circle cx="459.5" cy="135.9" r="2.8" fill="url(#grain)"/>
<circle cx="464.4" cy="137.1" r="2.6" fill="url(#grain)"/>
<circle cx="467.6" cy="135.4" r="2.6" fill="url(#grain)"/>
<circle cx="474.0" cy="136.4" r="2.5" fill="url(#grain)"/>
<circle cx="478.0" cy="136.8" r="2.9" fill="url(#grain)"/>
<circle cx="482.7" cy="135.9" r="2.7" fill="url(#grain)"/>
<circle cx="488.8" cy="137.4" r="3.0" fill="url(#grain)"/>
<circle cx="494.4" cy="136.8" r="2.7" fill="url(#grain)"/>
<circle cx="498.0" cy="135.9" r="3.1" fill="url(#grain)"/>
<circle cx="503.7" cy="135.5" r="2.6" fill="url(#grain)"/>
<circle cx="508.2" cy="136.7" r="2.8" fill="url(#grain)"/>
<circle cx="514.3" cy="136.5" r="2.7" fill="url(#grain)"/>
<circle cx="518.4" cy="135.7" r="3.0" fill="url(#grain)"/>
<circle cx="524.4" cy="135.8" r="3.0" fill="url(#grain)"/>
<circle cx="529.9" cy="137.6" r="3.1" fill="url(#grain)"/>
<circle cx="536.0" cy="135.5" r="2.8" fill="url(#grain)"/>
<circle cx="540.2" cy="137.0" r="3.1" fill="url(#grain)"/>
<circle cx="545.6" cy="136.0" r="3.0" fill="url(#grain)"/>
<circle cx="549.4" cy="135.8" r="2.9" fill="url(#grain)"/>
<circle cx="555.6" cy="136.0" r="3.0" fill="url(#grain)"/>
<circle cx="560.5" cy="135.9" r="2.5" fill="url(#grain)"/>
<circle cx="565.9" cy="136.2" r="2.4" fill="url(#grain)"/>
<circle cx="571.5" cy="137.4" r="2.5" fill="url(#grain)"/>
<circle cx="578.0" cy="136.7" r="2.9" fill="url(#grain)"/>
<circle cx="581.5" cy="137.5" r="2.4" fill="url(#grain)"/>
<circle cx="587.1" cy="136.8" r="3.1" fill="url(#grain)"/>
<circle cx="592.7" cy="137.7" r="2.9" fill="url(#grain)"/>
<circle cx="597.9" cy="137.5" r="2.8" fill="url(#grain)"/>
<circle cx="603.6" cy="137.5" r="2.9" fill="url(#grain)"/>
<circle cx="608.7" cy="137.4" r="2.9" fill="url(#grain)"/>
<circle cx="613.7" cy="136.7" r="3.0" fill="url(#grain)"/>
<circle cx="618.7" cy="136.8" r="2.7" fill="url(#grain)"/>
<circle cx="623.9" cy="137.4" r="2.8" fill="url(#grain)"/>
<circle cx="629.0" cy="136.7" r="2.7" fill="url(#grain)"/>
<circle cx="633.1" cy="137.1" r="3.0" fill="url(#grain)"/>
<circle cx="638.1" cy="135.9" r="2.8" fill="url(#grain)"/>
<circle cx="643.9" cy="137.5" r="2.7" fill="url(#grain)"/>
<circle cx="648.2" cy="136.9" r="2.4" fill="url(#grain)"/>
<circle cx="388.0" cy="140.9" r="3.0" fill="url(#grain)"/>
<circle cx="393.9" cy="140.3" r="2.6" fill="url(#grain)"/>
<circle cx="399.3" cy="141.9" r="3.0" fill="url(#grain)"/>
<circle cx="403.4" cy="140.1" r="2.8" fill="url(#grain)"/>
<circle cx="409.5" cy="141.5" r="3.0" fill="url(#grain)"/>
<circle cx="414.3" cy="140.9" r="2.6" fill="url(#grain)"/>
<circle cx="419.5" cy="141.3" r="2.5" fill="url(#grain)"/>
<circle cx="425.4" cy="142.2" r="2.6" fill="url(#grain)"/>
<circle cx="429.2" cy="141.9" r="2.5" fill="url(#grain)"/>
<circle cx="434.5" cy="140.5" r="2.9" fill="url(#grain)"/>
<circle cx="439.5" cy="140.9" r="2.4" fill="url(#grain)"/>
<circle cx="444.1" cy="140.1" r="3.0" fill="url(#grain)"/>
<circle cx="448.9" cy="141.3" r="2.8" fill="url(#grain)"/>
<circle cx="455.2" cy="141.4" r="3.0" fill="url(#grain)"/>
<circle cx="458.7" cy="139.8" r="2.7" fill="url(#grain)"/>
<circle cx="463.8" cy="140.5" r="2.9" fill="url(#grain)"/>
<circle cx="469.3" cy="141.3" r="2.9" fill="url(#grain)"/>
<circle cx="475.4" cy="142.0" r="2.7" fill="url(#grain)"/>
<circle cx="479.8" cy="140.1" r="3.1" fill="url(#grain)"/>
<circle cx="485.2" cy="140.7" r="2.8" fill="url(#grain)"/>
<circle cx="490.4" cy="142.1" r="3.0" fill="url(#grain)"/>
<circle cx="494.5" cy="141.5" r="2.9" fill="url(#grain)"/>
<circle cx="501.1" cy="140.3" r="2.8" fill="url(#grain)"/>
<circle cx="507.3" cy="141.1" r="3.1" fill="url(#grain)"/>
<circle cx="512.9" cy="141.9" r="2.6" fill="url(#grain)"/>
<circle cx="517.1" cy="141.1" r="2.5" fill="url(#grain)"/>
<circle cx="522.1" cy="141.7" r="2.7" fill="url(#grain)"/>
<circle cx="526.8" cy="140.6" r="3.0" fill="url(#grain)"/>
<circle cx="532.4" cy="141.0" r="2.5" fill="url(#grain)"/>
<circle cx="538.8" cy="142.1" r="3.0" fill="url(#grain)"/>
<circle cx="543.1" cy="140.3" r="3.1" fill="url(#grain)"/>
<circle cx="549.3" cy="141.3" r="2.6" fill="url(#grain)"/>
<circle cx="554.3" cy="140.5" r="3.0" fill="url(#grain)"/>
<circle cx="559.9" cy="140.3" r="3.0" fill="url(#grain)"/>
<circle cx="565.0" cy="141.2" r="3.1" fill="url(#grain)"/>
<circle cx="569.7" cy="141.3" r="2.8" fill="url(#grain)"/>
<circle cx="574.2" cy="140.8" r="3.1" fill="url(#grain)"/>
<circle cx="579.8" cy="141.5" r="2.8" fill="url(#grain)"/>
<circle cx="584.2" cy="142.1" r="2.8" fill="url(#grain)"/>
<circle cx="590.2" cy="140.1" r="2.6" fill="url(#grain)"/>
<circle cx="595.9" cy="140.9" r="3.0" fill="url(#grain)"/>
<circle cx="600.4" cy="142.0" r="2.5" fill="url(#grain)"/>
<circle cx="604.1" cy="140.3" r="2.9" fill="url(#grain)"/>
<circle cx="609.3" cy="140.7" r="2.9" fill="url(#grain)"/>
<circle cx="615.3" cy="140.1" r="2.5" fill="url(#grain)"/>
<circle cx="619.7" cy="141.1" r="2.6" fill="url(#grain)"/>
<circle cx="625.2" cy="141.1" r="2.7" fill="url(#grain)"/>
<circle cx="630.2" cy="141.3" r="2.5" fill="url(#grain)"/>
<circle cx="635.4" cy="141.9" r="3.0" fill="url(#grain)"/>
<circle cx="640.5" cy="142.0" r="2.9" fill="url(#grain)"/>
<circle cx="645.5" cy="140.3" r="2.6" fill="url(#grain)"/>
<circle cx="385.5" cy="146.0" r="2.5" fill="url(#grain)"/>
<circle cx="391.2" cy="145.3" r="2.5" fill="url(#grain)"/>
<circle cx="396.2" cy="145.9" r="2.5" fill="url(#grain)"/>
<circle cx="401.1" cy="146.5" r="2.5" fill="url(#grain)"/>
<circle cx="406.8" cy="146.1" r="2.5" fill="url(#grain)"/>
<circle cx="411.5" cy="144.5" r="2.9" fill="url(#grain)"/>
<circle cx="416.6" cy="145.5" r="2.4" fill="url(#grain)"/>
<circle cx="421.3" cy="144.8" r="2.5" fill="url(#grain)"/>
<circle cx="428.3" cy="144.5" r="3.1" fill="url(#grain)"/>
<circle cx="432.0" cy="146.1" r="3.1" fill="url(#grain)"/>
<circle cx="437.0" cy="145.3" r="2.7" fill="url(#grain)"/>
<circle cx="442.7" cy="146.3" r="2.4" fill="url(#grain)"/>
<circle cx="447.4" cy="145.3" r="2.7" fill="url(#grain)"/>
<circle cx="451.8" cy="144.3" r="2.5" fill="url(#grain)"/>
<circle cx="457.9" cy="146.4" r="3.0" fill="url(#grain)"/>
<circle cx="463.2" cy="145.5" r="2.7" fill="url(#grain)"/>
<circle cx="468.6" cy="146.5" r="3.0" fill="url(#grain)"/>
<circle cx="475.1" cy="145.3" r="2.9" fill="url(#grain)"/>
<circle cx="480.7" cy="146.1" r="3.0" fill="url(#grain)"/>
<circle cx="486.4" cy="144.5" r="2.7" fill="url(#grain)"/>
<circle cx="490.2" cy="145.2" r="2.7" fill="url(#grain)"/>
<circle cx="496.0" cy="146.6" r="2.8" fill="url(#grain)"/>
<circle cx="502.1" cy="145.7" r="2.6" fill="url(#grain)"/>
<circle cx="507.9" cy="145.8" r="2.7" fill="url(#grain)"/>
<circle cx="513.4" cy="144.4" r="2.9" fill="url(#grain)"/>
<circle cx="517.6" cy="145.3" r="2.9" fill="url(#grain)"/>
<circle cx="522.3" cy="144.5" r="2.5" fill="url(#grain)"/>
<circle cx="527.4" cy="145.5" r="3.0" fill="url(#grain)"/>
<circle cx="534.0" cy="145.8" r="2.8" fill="url(#grain)"/>
<circle cx="539.1" cy="146.1" r="2.5" fill="url(#grain)"/>
<circle cx="542.9" cy="145.4" r="3.1" fill="url(#grain)"/>
<circle cx="548.3" cy="144.4" r="2.7" fill="url(#grain)"/>
<circle cx="554.0" cy="145.7" r="2.7" fill="url(#grain)"/>
<circle cx="559.2" cy="145.6" r="2.6" fill="url(#grain)"/>
<circle cx="563.5" cy="144.3" r="2.9" fill="url(#grain)"/>
<circle cx="568.1" cy="146.1" r="2.4" fill="url(#grain)"/>
<circle cx="574.0" cy="144.4" r="3.0" fill="url(#grain)"/>
<circle cx="578.9" cy="146.5" r="3.1" fill="url(#grain)"/>
<circle cx="585.5" cy="144.9" r="2.7" fill="url(#grain)"/>
<circle cx="590.3" cy="145.4" r="3.1" fill="url(#grain)"/>
<circle cx="596.1" cy="144.6" r="3.0" fill="url(#grain)"/>
<circle cx="600.8" cy="144.4" r="2.7" fill="url(#grain)"/>
<circle cx="606.5" cy="145.9" r="2.5" fill="url(#grain)"/>
<circle cx="611.8" cy="145.3" r="2.6" fill="url(#grain)"/>
<circle cx="618.1" cy="146.6" r="2.8" fill="url(#grain)"/>
<circle cx="622.3" cy="146.4" r="2.6" fill="url(#grain)"/>
<circle cx="628.3" cy="145.0" r="2.8" fill="url(#grain)"/>
<circle cx="634.2" cy="145.8" r="2.8" fill="url(#grain)"/>
<circle cx="639.3" cy="146.7" r="2.5" fill="url(#grain)"/>
<circle cx="644.8" cy="144.4" r="3.0" fill="url(#grain)"/>
<circle cx="650.6" cy="144.5" r="2.7" fill="url(#grain)"/>
<circle cx="388.0" cy="150.1" r="2.5" fill="url(#grain)"/>
<circle cx="393.0" cy="149.3" r="2.7" fill="url(#grain)"/>
<circle cx="398.6" cy="149.0" r="2.9" fill="url(#grain)"/>
<circle cx="402.8" cy="150.6" r="3.0" fill="url(#grain)"/>
<circle cx="407.0" cy="150.7" r="2.7" fill="url(#grain)"/>
<circle cx="413.1" cy="149.6" r="2.9" fill="url(#grain)"/>
<circle cx="418.3" cy="149.8" r="2.9" fill="url(#grain)"/>
<circle cx="423.2" cy="149.0" r="2.5" fill="url(#grain)"/>
<circle cx="427.1" cy="150.4" r="2.8" fill="url(#grain)"/>
<circle cx="431.4" cy="149.3" r="2.9" fill="url(#grain)"/>
<circle cx="437.2" cy="150.5" r="2.5" fill="url(#grain)"/>
<circle cx="442.4" cy="149.7" r="2.6" fill="url(#grain)"/>
<circle cx="448.0" cy="150.5" r="2.7" fill="url(#grain)"/>
<circle cx="454.6" cy="151.0" r="3.0" fill="url(#grain)"/>
<circle cx="458.7" cy="149.6" r="3.0" fill="url(#grain)"/>
<circle cx="464.6" cy="149.4" r="3.1" fill="url(#grain)"/>
<circle cx="468.8" cy="149.7" r="2.7" fill="url(#grain)"/>
<circle cx="474.1" cy="150.7" r="2.5" fill="url(#grain)"/>
<circle cx="479.4" cy="149.2" r="3.0" fill="url(#grain)"/>
<circle cx="484.5" cy="148.9" r="3.0" fill="url(#grain)"/>
<circle cx="490.2" cy="151.1" r="2.8" fill="url(#grain)"/>
<circle cx="494.9" cy="150.1" r="3.0" fill="url(#grain)"/>
<circle cx="500.6" cy="150.6" r="2.5" fill="url(#grain)"/>
<circle cx="507.3" cy="149.1" r="2.5" fill="url(#grain)"/>
<circle cx="512.2" cy="149.3" r="2.9" fill="url(#grain)"/>
<circle cx="518.7" cy="149.7" r="2.8" fill="url(#grain)"/>
<circle cx="523.5" cy="150.0" r="3.1" fill="url(#grain)"/>
<circle cx="528.8" cy="151.0" r="2.9" fill="url(#grain)"/>
<circle cx="533.8" cy="150.8" r="3.0" fill="url(#grain)"/>
<circle cx="539.8" cy="151.1" r="3.0" fill="url(#grain)"/>
<circle cx="545.0" cy="150.7" r="2.8" fill="url(#grain)"/>
<circle cx="549.2" cy="150.6" r="2.7" fill="url(#grain)"/>
<circle cx="555.2" cy="149.3" r="2.7" fill="url(#grain)"/>
<circle cx="561.5" cy="148.9" r="2.6" fill="url(#grain)"/>
<circle cx="565.9" cy="150.7" r="2.5" fill="url(#grain)"/>
<circle cx="570.3" cy="150.2" r="2.4" fill="url(#grain)"/>
<circle cx="575.6" cy="149.2" r="2.4" fill="url(#grain)"/>
<circle cx="581.3" cy="150.2" r="2.6" fill="url(#grain)"/>
<circle cx="585.4" cy="149.2" r="2.5" fill="url(#grain)"/>
<circle cx="591.4" cy="150.8" r="2.6" fill="url(#grain)"/>
<circle cx="597.1" cy="151.0" r="2.6" fill="url(#grain)"/>
<circle cx="602.2" cy="150.0" r="2.8" fill="url(#grain)"/>
<circle cx="606.9" cy="150.7" r="2.4" fill="url(#grain)"/>
<circle cx="611.3" cy="149.5" r="2.8" fill="url(#grain)"/>
<circle cx="616.8" cy="148.8" r="2.9" fill="url(#grain)"/>
<circle cx="622.8" cy="150.5" r="2.7" fill="url(#grain)"/>
<circle cx="627.2" cy="149.6" r="2.5" fill="url(#grain)"/>
<circle cx="632.6" cy="150.3" r="3.0" fill="url(#grain)"/>
<circle cx="638.6" cy="149.2" r="2.6" fill="url(#grain)"/>
<circle cx="644.7" cy="150.8" r="2.4" fill="url(#grain)"/>
<circle cx="649.5" cy="150.5" r="2.5" fill="url(#grain)"/>
<circle cx="386.2" cy="154.7" r="2.7" fill="url(#grain)"/>
<circle cx="391.7" cy="154.3" r="2.6" fill="url(#grain)"/>
<circle cx="397.6" cy="153.8" r="2.5" fill="url(#grain)"/>
<circle cx="401.8" cy="155.3" r="2.8" fill="url(#grain)"/>
<circle cx="406.6" cy="154.0" r="2.6" fill="url(#grain)"/>
<circle cx="412.2" cy="154.9" r="2.9" fill="url(#grain)"/>
<circle cx="416.9" cy="155.6" r="2.7" fill="url(#grain)"/>
<circle cx="422.0" cy="154.2" r="2.9" fill="url(#grain)"/>
<circle cx="428.4" cy="154.4" r="2.6" fill="url(#grain)"/>
<circle cx="433.2" cy="153.8" r="3.1" fill="url(#grain)"/>
<circle cx="437.9" cy="154.6" r="2.6" fill="url(#grain)"/>
<circle cx="442.8" cy="154.9" r="2.6" fill="url(#grain)"/>
<circle cx="448.1" cy="154.1" r="2.5" fill="url(#grain)"/>
<circle cx="454.0" cy="154.1" r="2.8" fill="url(#grain)"/>
<circle cx="458.8" cy="153.5" r="2.5" fill="url(#grain)"/>
<circle cx="464.4" cy="154.3" r="2.9" fill="url(#grain)"/>
<circle cx="470.0" cy="153.8" r="2.8" fill="url(#grain)"/>
<circle cx="475.1" cy="153.5" r="2.5" fill="url(#grain)"/>
<circle cx="481.2" cy="154.9" r="2.7" fill="url(#grain)"/>
<circle cx="486.6" cy="154.1" r="3.0" fill="url(#grain)"/>
<circle cx="491.7" cy="155.0" r="2.4" fill="url(#grain)"/>
<circle cx="498.1" cy="154.8" r="3.0" fill="url(#grain)"/>
<circle cx="502.0" cy="154.9" r="2.6" fill="url(#grain)"/>
<circle cx="506.8" cy="155.2" r="2.7" fill="url(#grain)"/>
<circle cx="512.0" cy="155.1" r="2.8" fill="url(#grain)"/>
<circle cx="518.1" cy="154.5" r="2.8" fill="url(#grain)"/>
<circle cx="523.8" cy="154.5" r="2.9" fill="url(#grain)"/>
<circle cx="528.0" cy="155.6" r="3.0" fill="url(#grain)"/>
<circle cx="533.3" cy="153.9" r="2.5" fill="url(#grain)"/>
<circle cx="539.0" cy="155.5" r="2.9" fill="url(#grain)"/>
<circle cx="543.6" cy="155.6" r="2.7" fill="url(#grain)"/>
<circle cx="548.9" cy="154.6" r="3.0" fill="url(#grain)"/>
<circle cx="554.8" cy="155.7" r="2.6" fill="url(#grain)"/>
<circle cx="559.3" cy="155.3" r="2.8" fill="url(#grain)"/>
<circle cx="564.3" cy="154.7" r="3.0" fill="url(#grain)"/>
<circle cx="570.5" cy="153.5" r="2.5" fill="url(#grain)"/>
<circle cx="575.7" cy="155.6" r="2.5" fill="url(#grain)"/>
<circle cx="580.6" cy="155.1" r="2.6" fill="url(#grain)"/>
<circle cx="585.9" cy="153.3" r="2.8" fill="url(#grain)"/>
<circle cx="589.5" cy="154.2" r="2.7" fill="url(#grain)"/>
<circle cx="595.4" cy="153.9" r="2.5" fill="url(#grain)"/>
<circle cx="600.9" cy="153.4" r="2.6" fill="url(#grain)"/>
<circle cx="606.9" cy="154.7" r="2.5" fill="url(#grain)"/>
<circle cx="611.5" cy="155.0" r="2.7" fill="url(#grain)"/>
<circle cx="616.9" cy="155.7" r="2.9" fill="url(#grain)"/>
<circle cx="622.5" cy="154.3" r="3.0" fill="url(#grain)"/>
<circle cx="628.0" cy="154.6" r="3.0" fill="url(#grain)"/>
<circle cx="632.8" cy="153.4" r="3.0" fill="url(#grain)"/>
<circle cx="639.0" cy="154.7" r="3.0" fill="url(#grain)"/>
<circle cx="644.4" cy="153.5" r="2.6" fill="url(#grain)"/>
<circle cx="648.8" cy="154.3" r="2.7" fill="url(#grain)"/>
<circle cx="387.9" cy="158.5" r="2.8" fill="url(#grain)"/>
<circle cx="392.6" cy="160.0" r="2.6" fill="url(#grain)"/>
<circle cx="399.9" cy="158.8" r="2.9" fill="url(#grain)"/>
<circle cx="405.4" cy="159.2" r="2.6" fill="url(#grain)"/>
<circle cx="411.3" cy="158.1" r="2.5" fill="url(#grain)"/>
<circle cx="415.3" cy="158.4" r="3.1" fill="url(#grain)"/>
<circle cx="420.2" cy="159.9" r="2.6" fill="url(#grain)"/>
<circle cx="426.4" cy="159.2" r="2.7" fill="url(#grain)"/>
<circle cx="431.8" cy="158.5" r="2.4" fill="url(#grain)"/>
<circle cx="437.1" cy="158.9" r="3.1" fill="url(#grain)"/>
<circle cx="441.7" cy="160.0" r="2.6" fill="url(#grain)"/>
<circle cx="445.5" cy="158.9" r="3.0" fill="url(#grain)"/>
<circle cx="451.2" cy="158.3" r="3.0" fill="url(#grain)"/>
<circle cx="456.5" cy="157.9" r="2.5" fill="url(#grain)"/>
<circle cx="460.1" cy="160.0" r="2.9" fill="url(#grain)"/>
<circle cx="465.6" cy="159.5" r="2.9" fill="url(#grain)"/>
<circle cx="471.4" cy="158.3" r="2.7" fill="url(#grain)"/>
<circle cx="476.5" cy="158.2" r="2.9" fill="url(#grain)"/>
<circle cx="482.2" cy="158.7" r="2.9" fill="url(#grain)"/>
<circle cx="487.4" cy="158.3" r="3.0" fill="url(#grain)"/>
<circle cx="492.4" cy="158.5" r="3.0" fill="url(#grain)"/>
<circle cx="498.3" cy="158.9" r="2.5" fill="url(#grain)"/>
<circle cx="502.1" cy="159.2" r="2.8" fill="url(#grain)"/>
<circle cx="508.1" cy="158.0" r="2.6" fill="url(#grain)"/>
<circle cx="512.1" cy="158.5" r="2.9" fill="url(#grain)"/>
<circle cx="518.4" cy="160.2" r="2.5" fill="url(#grain)"/>
<circle cx="522.6" cy="158.7" r="2.7" fill="url(#grain)"/>
<circle cx="527.6" cy="159.1" r="2.7" fill="url(#grain)"/>
<circle cx="533.8" cy="159.7" r="2.7" fill="url(#grain)"/>
<circle cx="539.3" cy="159.4" r="2.8" fill="url(#grain)"/>
<circle cx="543.5" cy="159.7" r="3.1" fill="url(#grain)"/>
<circle cx="548.3" cy="158.9" r="2.8" fill="url(#grain)"/>
<circle cx="554.8" cy="158.4" r="3.0" fill="url(#grain)"/>
<circle cx="559.6" cy="159.0" r="2.6" fill="url(#grain)"/>
<circle cx="564.3" cy="159.2" r="2.8" fill="url(#grain)"/>
<circle cx="569.2" cy="157.8" r="2.5" fill="url(#grain)"/>
<circle cx="574.9" cy="158.4" r="2.7" fill="url(#grain)"/>
<circle cx="581.3" cy="159.2" r="2.5" fill="url(#grain)"/>
<circle cx="585.5" cy="158.2" r="3.0" fill="url(#grain)"/>
<circle cx="590.5" cy="159.3" r="2.4" fill="url(#grain)"/>
<circle cx="596.2" cy="158.0" r="2.6" fill="url(#grain)"/>
<circle cx="601.3" cy="158.2" r="2.5" fill="url(#grain)"/>
<circle cx="607.7" cy="157.9" r="3.0" fill="url(#grain)"/>
<circle cx="611.8" cy="160.1" r="2.7" fill="url(#grain)"/>
<circle cx="617.2" cy="160.2" r="2.7" fill="url(#grain)"/>
<circle cx="621.8" cy="157.9" r="2.7" fill="url(#grain)"/>
<circle cx="625.6" cy="158.7" r="3.0" fill="url(#grain)"/>
<circle cx="630.4" cy="157.9" r="2.7" fill="url(#grain)"/>
<circle cx="637.4" cy="158.4" r="2.9" fill="url(#grain)"/>
<circle cx="641.4" cy="158.9" r="2.8" fill="url(#grain)"/>
<circle cx="647.5" cy="160.2" r="2.7" fill="url(#grain)"/>
<circle cx="385.3" cy="162.4" r="2.7" fill="url(#grain)"/>
<circle cx="390.6" cy="163.7" r="2.9" fill="url(#grain)"/>
<circle cx="395.6" cy="164.3" r="2.7" fill="url(#grain)"/>
<circle cx="400.4" cy="163.1" r="2.9" fill="url(#grain)"/>
<circle cx="405.0" cy="162.8" r="2.8" fill="url(#grain)"/>
<circle cx="409.9" cy="163.4" r="2.7" fill="url(#grain)"/>
<circle cx="416.8" cy="162.8" r="2.9" fill="url(#grain)"/>
<circle cx="421.6" cy="163.2" r="2.5" fill="url(#grain)"/>
<circle cx="425.6" cy="162.9" r="2.4" fill="url(#grain)"/>
<circle cx="431.5" cy="162.9" r="3.0" fill="url(#grain)"/>
<circle cx="436.8" cy="163.2" r="2.5" fill="url(#grain)"/>
<circle cx="442.4" cy="162.3" r="2.9" fill="url(#grain)"/>
<circle cx="446.0" cy="164.4" r="2.7" fill="url(#grain)"/>
<circle cx="451.6" cy="162.4" r="2.9" fill="url(#grain)"/>
<circle cx="455.9" cy="162.7" r="2.6" fill="url(#grain)"/>
<circle cx="461.6" cy="163.3" r="2.4" fill="url(#grain)"/>
<circle cx="467.5" cy="162.9" r="2.5" fill="url(#grain)"/>
<circle cx="472.2" cy="162.8" r="2.9" fill="url(#grain)"/>
<circle cx="477.5" cy="163.2" r="2.9" fill="url(#grain)"/>
<circle cx="483.1" cy="163.1" r="2.6" fill="url(#grain)"/>
<circle cx="487.4" cy="163.8" r="2.4" fill="url(#grain)"/>
<circle cx="494.2" cy="163.0" r="3.0" fill="url(#grain)"/>
<circle cx="498.5" cy="164.0" r="3.0" fill="url(#grain)"/>
<circle cx="505.0" cy="162.9" r="3.1" fill="url(#grain)"/>
<circle cx="509.7" cy="163.2" r="2.5" fill="url(#grain)"/>
<circle cx="514.0" cy="163.5" r="2.7" fill="url(#grain)"/>
<circle cx="519.0" cy="163.4" r="2.5" fill="url(#grain)"/>
<circle cx="523.4" cy="162.5" r="2.9" fill="url(#grain)"/>
<circle cx="528.2" cy="163.7" r="2.7" fill="url(#grain)"/>
<circle cx="534.6" cy="162.4" r="2.8" fill="url(#grain)"/>
<circle cx="538.6" cy="163.3" r="2.7" fill="url(#grain)"/>
<circle cx="543.9" cy="163.4" r="2.7" fill="url(#grain)"/>
<circle cx="548.0" cy="163.1" r="2.6" fill="url(#grain)"/>
<circle cx="554.2" cy="163.9" r="2.8" fill="url(#grain)"/>
<circle cx="559.4" cy="164.6" r="2.7" fill="url(#grain)"/>
<circle cx="564.9" cy="164.2" r="2.8" fill="url(#grain)"/>
<circle cx="569.5" cy="163.3" r="2.8" fill="url(#grain)"/>
<circle cx="575.1" cy="163.2" r="3.0" fill="url(#grain)"/>
<circle cx="579.7" cy="163.5" r="2.4" fill="url(#grain)"/>
<circle cx="586.0" cy="162.7" r="2.7" fill="url(#grain)"/>
<circle cx="590.2" cy="162.9" r="2.6" fill="url(#grain)"/>
<circle cx="594.2" cy="162.9" r="2.8" fill="url(#grain)"/>
<circle cx="599.6" cy="163.8" r="2.9" fill="url(#grain)"/>
<circle cx="605.6" cy="163.1" r="3.0" fill="url(#grain)"/>
<circle cx="609.5" cy="164.0" r="3.0" fill="url(#grain)"/>
<circle cx="616.0" cy="164.3" r="2.9" fill="url(#grain)"/>
<circle cx="619.9" cy="163.7" r="2.8" fill="url(#grain)"/>
<circle cx="625.3" cy="163.6" r="2.6" fill="url(#grain)"/>
<circle cx="629.4" cy="162.7" r="2.6" fill="url(#grain)"/>
<circle cx="634.2" cy="162.5" r="2.5" fill="url(#grain)"/>
<circle cx="638.9" cy="163.4" r="2.9" fill="url(#grain)"/>
<circle cx="644.6" cy="164.4" r="2.7" fill="url(#grain)"/>
<circle cx="387.7" cy="168.7" r="2.6" fill="url(#grain)"/>
<circle cx="392.3" cy="168.5" r="2.9" fill="url(#grain)"/>
<circle cx="398.0" cy="168.8" r="2.6" fill="url(#grain)"/>
<circle cx="403.2" cy="168.5" r="2.8" fill="url(#grain)"/>
<circle cx="409.2" cy="167.1" r="3.0" fill="url(#grain)"/>
<circle cx="413.3" cy="167.2" r="2.9" fill="url(#grain)"/>
<circle cx="418.9" cy="169.1" r="2.8" fill="url(#grain)"/>
<circle cx="422.6" cy="168.3" r="2.9" fill="url(#grain)"/>
<circle cx="428.6" cy="166.9" r="3.1" fill="url(#grain)"/>
<circle cx="432.6" cy="167.5" r="2.5" fill="url(#grain)"/>
<circle cx="438.3" cy="167.6" r="3.1" fill="url(#grain)"/>
<circle cx="443.3" cy="167.7" r="2.8" fill="url(#grain)"/>
<circle cx="448.8" cy="167.5" r="3.0" fill="url(#grain)"/>
<circle cx="453.7" cy="169.2" r="2.8" fill="url(#grain)"/>
<circle cx="458.4" cy="168.7" r="2.9" fill="url(#grain)"/>
<circle cx="462.3" cy="169.0" r="2.5" fill="url(#grain)"/>
<circle cx="467.1" cy="167.6" r="2.7" fill="url(#grain)"/>
<circle cx="471.6" cy="168.3" r="2.8" fill="url(#grain)"/>
<circle cx="477.0" cy="167.7" r="2.6" fill="url(#grain)"/>
<circle cx="481.1" cy="168.9" r="2.4" fill="url(#grain)"/>
<circle cx="486.2" cy="168.0" r="2.5" fill="url(#grain)"/>
<circle cx="493.3" cy="168.0" r="2.5" fill="url(#grain)"/>
<circle cx="497.6" cy="166.9" r="3.0" fill="url(#grain)"/>
<circle cx="503.3" cy="167.5" r="2.9" fill="url(#grain)"/>
<circle cx="509.7" cy="167.9" r="3.0" fill="url(#grain)"/>
<circle cx="514.2" cy="166.9" r="2.9" fill="url(#grain)"/>
<circle cx="518.7" cy="167.7" r="2.5" fill="url(#grain)"/>
<circle cx="525.0" cy="166.8" r="2.6" fill="url(#grain)"/>
<circle cx="528.9" cy="168.1" r="3.1" fill="url(#grain)"/>
<circle cx="535.8" cy="167.8" r="3.0" fill="url(#grain)"/>
<circle cx="541.5" cy="169.2" r="3.0" fill="url(#grain)"/>
<circle cx="545.5" cy="168.5" r="3.1" fill="url(#grain)"/>
<circle cx="549.7" cy="168.2" r="3.0" fill="url(#grain)"/>
<circle cx="555.0" cy="168.4" r="2.7" fill="url(#grain)"/>
<circle cx="561.1" cy="167.6" r="2.7" fill="url(#grain)"/>
<circle cx="565.5" cy="167.0" r="3.0" fill="url(#grain)"/>
<circle cx="570.2" cy="168.6" r="2.9" fill="url(#grain)"/>
<circle cx="575.4" cy="167.1" r="2.9" fill="url(#grain)"/>
<circle cx="580.5" cy="166.8" r="2.6" fill="url(#grain)"/>
<circle cx="585.5" cy="168.1" r="2.7" fill="url(#grain)"/>
<circle cx="592.3" cy="167.6" r="2.5" fill="url(#grain)"/>
<circle cx="598.1" cy="167.8" r="2.5" fill="url(#grain)"/>
<circle cx="603.1" cy="168.5" r="2.6" fill="url(#grain)"/>
<circle cx="608.2" cy="169.1" r="2.6" fill="url(#grain)"/>
<circle cx="612.6" cy="169.2" r="2.5" fill="url(#grain)"/>
<circle cx="617.3" cy="168.3" r="2.8" fill="url(#grain)"/>
<circle cx="622.9" cy="168.9" r="2.8" fill="url(#grain)"/>
<circle cx="627.8" cy="167.1" r="2.8" fill="url(#grain)"/>
<circle cx="633.3" cy="168.4" r="2.9" fill="url(#grain)"/>
<circle cx="638.0" cy="168.2" r="2.7" fill="url(#grain)"/>
<circle cx="643.0" cy="168.3" r="2.8" fill="url(#grain)"/>
<circle cx="649.0" cy="169.0" r="2.8" fill="url(#grain)"/>
<circle cx="385.8" cy="172.1" r="3.1" fill="url(#grain)"/>
<circle cx="390.9" cy="173.4" r="3.1" fill="url(#grain)"/>
<circle cx="395.6" cy="171.9" r="3.1" fill="url(#grain)"/>
<circle cx="402.1" cy="173.3" r="2.9" fill="url(#grain)"/>
<circle cx="407.9" cy="171.5" r="2.8" fill="url(#grain)"/>
<circle cx="412.5" cy="173.2" r="2.9" fill="url(#grain)"/>
<circle cx="418.6" cy="171.8" r="2.8" fill="url(#grain)"/>
<circle cx="422.2" cy="172.6" r="2.9" fill="url(#grain)"/>
<circle cx="428.1" cy="173.2" r="2.7" fill="url(#grain)"/>
<circle cx="434.3" cy="173.5" r="2.9" fill="url(#grain)"/>
<circle cx="439.7" cy="171.5" r="2.5" fill="url(#grain)"/>
<circle cx="445.0" cy="173.3" r="2.6" fill="url(#grain)"/>
<circle cx="448.8" cy="173.3" r="2.5" fill="url(#grain)"/>
<circle cx="453.7" cy="173.7" r="3.0" fill="url(#grain)"/>
<circle cx="459.7" cy="173.0" r="2.8" fill="url(#grain)"/>
<circle cx="463.7" cy="171.3" r="2.9" fill="url(#grain)"/>
<circle cx="469.0" cy="172.0" r="2.6" fill="url(#grain)"/>
<circle cx="473.6" cy="171.6" r="2.9" fill="url(#grain)"/>
<circle cx="479.0" cy="171.6" r="2.7" fill="url(#grain)"/>
<circle cx="485.3" cy="171.8" r="2.8" fill="url(#grain)"/>
<circle cx="491.9" cy="172.2" r="2.9" fill="url(#grain)"/>
<circle cx="495.9" cy="172.8" r="2.7" fill="url(#grain)"/>
<circle cx="501.4" cy="172.4" r="3.0" fill="url(#grain)"/>
<circle cx="506.5" cy="173.0" r="3.1" fill="url(#grain)"/>
<circle cx="511.2" cy="173.4" r="2.8" fill="url(#grain)"/>
<circle cx="516.6" cy="172.4" r="3.0" fill="url(#grain)"/>
<circle cx="522.6" cy="172.7" r="2.7" fill="url(#grain)"/>
<circle cx="527.2" cy="172.0" r="2.4" fill="url(#grain)"/>
<circle cx="532.1" cy="173.0" r="3.1" fill="url(#grain)"/>
<circle cx="537.8" cy="171.6" r="2.6" fill="url(#grain)"/>
<circle cx="543.7" cy="172.1" r="2.6" fill="url(#grain)"/>
<circle cx="549.6" cy="172.6" r="3.0" fill="url(#grain)"/>
<circle cx="553.4" cy="172.2" r="3.0" fill="url(#grain)"/>
<circle cx="559.3" cy="172.1" r="2.9" fill="url(#grain)"/>
<circle cx="564.1" cy="172.8" r="3.1" fill="url(#grain)"/>
<circle cx="570.0" cy="172.1" r="2.7" fill="url(#grain)"/>
<circle cx="576.3" cy="173.6" r="2.8" fill="url(#grain)"/>
<circle cx="582.0" cy="172.9" r="2.7" fill="url(#grain)"/>
<circle cx="586.3" cy="172.4" r="3.1" fill="url(#grain)"/>
<circle cx="591.6" cy="173.7" r="2.9" fill="url(#grain)"/>
<circle cx="596.2" cy="172.2" r="2.7" fill="url(#grain)"/>
<circle cx="601.9" cy="172.9" r="2.5" fill="url(#grain)"/>
<circle cx="607.4" cy="173.2" r="2.9" fill="url(#grain)"/>
<circle cx="612.7" cy="172.4" r="2.9" fill="url(#grain)"/>
<circle cx="618.5" cy="173.4" r="3.0" fill="url(#grain)"/>
<circle cx="622.3" cy="172.6" r="2.6" fill="url(#grain)"/>
<circle cx="626.5" cy="172.5" r="3.0" fill="url(#grain)"/>
<circle cx="630.8" cy="171.5" r="2.8" fill="url(#grain)"/>
<circle cx="637.1" cy="171.9" r="2.6" fill="url(#grain)"/>
<circle cx="641.2" cy="172.4" r="2.4" fill="url(#grain)"/>
<circle cx="647.5" cy="171.6" r="2.7" fill="url(#grain)"/>
<circle cx="387.8" cy="176.8" r="3.1" fill="url(#grain)"/>
<circle cx="393.9" cy="176.8" r="3.0" fill="url(#grain)"/>
<circle cx="398.1" cy="177.6" r="2.5" fill="url(#grain)"/>
<circle cx="403.1" cy="175.9" r="2.5" fill="url(#grain)"/>
<circle cx="408.4" cy="177.3" r="2.6" fill="url(#grain)"/>
<circle cx="413.3" cy="176.0" r="2.4" fill="url(#grain)"/>
<circle cx="418.9" cy="176.6" r="2.5" fill="url(#grain)"/>
<circle cx="424.0" cy="178.1" r="2.9" fill="url(#grain)"/>
<circle cx="429.4" cy="176.7" r="2.8" fill="url(#grain)"/>
<circle cx="433.2" cy="176.7" r="2.9" fill="url(#grain)"/>
<circle cx="438.5" cy="176.8" r="2.7" fill="url(#grain)"/>
<circle cx="444.4" cy="175.9" r="2.4" fill="url(#grain)"/>
<circle cx="448.9" cy="176.3" r="2.8" fill="url(#grain)"/>
<circle cx="453.3" cy="177.0" r="2.7" fill="url(#grain)"/>
<circle cx="458.4" cy="175.8" r="2.9" fill="url(#grain)"/>
<circle cx="462.7" cy="177.2" r="3.1" fill="url(#grain)"/>
<circle cx="469.5" cy="176.7" r="2.7" fill="url(#grain)"/>
<circle cx="474.4" cy="176.6" r="2.8" fill="url(#grain)"/>
<circle cx="479.9" cy="175.9" r="2.8" fill="url(#grain)"/>
<circle cx="483.6" cy="177.7" r="2.6" fill="url(#grain)"/>
<circle cx="488.9" cy="176.5" r="3.0" fill="url(#grain)"/>
<circle cx="495.3" cy="177.8" r="2.5" fill="url(#grain)"/>
<circle cx="500.0" cy="177.7" r="2.6" fill="url(#grain)"/>
<circle cx="505.3" cy="175.9" r="2.4" fill="url(#grain)"/>
<circle cx="511.0" cy="177.3" r="2.8" fill="url(#grain)"/>
<circle cx="515.2" cy="177.2" r="3.1" fill="url(#grain)"/>
<circle cx="519.0" cy="177.4" r="2.9" fill="url(#grain)"/>
<circle cx="524.5" cy="177.7" r="3.0" fill="url(#grain)"/>
<circle cx="530.1" cy="176.9" r="2.9" fill="url(#grain)"/>
<circle cx="535.1" cy="177.6" r="2.5" fill="url(#grain)"/>
<circle cx="540.4" cy="177.4" r="2.5" fill="url(#grain)"/>
<circle cx="544.5" cy="176.5" r="2.5" fill="url(#grain)"/>
<circle cx="551.7" cy="176.3" r="2.8" fill="url(#grain)"/>
<circle cx="556.7" cy="176.1" r="2.8" fill="url(#grain)"/>
<circle cx="561.2" cy="176.8" r="2.7" fill="url(#grain)"/>
<circle cx="567.6" cy="177.0" r="2.9" fill="url(#grain)"/>
<circle cx="572.9" cy="176.1" r="2.7" fill="url(#grain)"/>
<circle cx="578.2" cy="176.3" r="2.5" fill="url(#grain)"/>
<circle cx="582.7" cy="177.2" r="2.5" fill="url(#grain)"/>
<circle cx="588.3" cy="177.8" r="2.7" fill="url(#grain)"/>
<circle cx="593.2" cy="178.2" r="2.8" fill="url(#grain)"/>
<circle cx="597.7" cy="176.4" r="2.9" fill="url(#grain)"/>
<circle cx="603.3" cy="176.0" r="2.8" fill="url(#grain)"/>
<circle cx="609.7" cy="176.8" r="2.7" fill="url(#grain)"/>
<circle cx="615.5" cy="178.0" r="2.8" fill="url(#grain)"/>
<circle cx="619.5" cy="177.6" r="2.7" fill="url(#grain)"/>
<circle cx="625.0" cy="175.9" r="2.6" fill="url(#grain)"/>
<circle cx="630.1" cy="176.6" r="2.8" fill="url(#grain)"/>
<circle cx="635.1" cy="177.7" r="3.1" fill="url(#grain)"/>
<circle cx="638.7" cy="176.3" r="2.9" fill="url(#grain)"/>
<circle cx="643.8" cy="177.6" r="2.8" fill="url(#grain)"/>
<circle cx="650.5" cy="177.5" r="3.0" fill="url(#grain)"/>
<circle cx="385.6" cy="182.4" r="2.9" fill="url(#grain)"/>
<circle cx="391.1" cy="180.3" r="2.6" fill="url(#grain)"/>
<circle cx="396.4" cy="180.9" r="2.6" fill="url(#grain)"/>
<circle cx="401.0" cy="181.0" r="2.7" fill="url(#grain)"/>
<circle cx="406.8" cy="180.7" r="2.8" fill="url(#grain)"/>
<circle cx="412.2" cy="181.6" r="3.0" fill="url(#grain)"/>
<circle cx="417.8" cy="182.5" r="2.8" fill="url(#grain)"/>
<circle cx="422.5" cy="182.5" r="2.6" fill="url(#grain)"/>
<circle cx="427.8" cy="181.4" r="3.0" fill="url(#grain)"/>
<circle cx="433.9" cy="181.5" r="2.9" fill="url(#grain)"/>
<circle cx="438.1" cy="182.6" r="2.6" fill="url(#grain)"/>
<circle cx="443.3" cy="180.5" r="3.1" fill="url(#grain)"/>
<circle cx="449.0" cy="180.6" r="2.5" fill="url(#grain)"/>
<circle cx="455.5" cy="180.4" r="2.6" fill="url(#grain)"/>
<circle cx="459.6" cy="181.7" r="2.4" fill="url(#grain)"/>
<circle cx="466.9" cy="182.2" r="2.9" fill="url(#grain)"/>
<circle cx="471.6" cy="180.7" r="2.5" fill="url(#grain)"/>
<circle cx="476.8" cy="180.8" r="2.6" fill="url(#grain)"/>
<circle cx="482.3" cy="180.5" r="2.7" fill="url(#grain)"/>
<circle cx="488.3" cy="181.6" r="2.8" fill="url(#grain)"/>
<circle cx="491.9" cy="182.0" r="2.6" fill="url(#grain)"/>
<circle cx="498.8" cy="182.5" r="3.1" fill="url(#grain)"/>
<circle cx="503.0" cy="181.5" r="3.1" fill="url(#grain)"/>
<circle cx="509.3" cy="181.8" r="2.9" fill="url(#grain)"/>
<circle cx="515.1" cy="182.6" r="2.5" fill="url(#grain)"/>
<circle cx="520.1" cy="182.6" r="2.5" fill="url(#grain)"/>
<circle cx="524.5" cy="182.0" r="2.4" fill="url(#grain)"/>
<circle cx="529.6" cy="182.2" r="2.8" fill="url(#grain)"/>
<circle cx="534.0" cy="182.6" r="2.4" fill="url(#grain)"/>
<circle cx="539.0" cy="181.1" r="2.7" fill="url(#grain)"/>
<circle cx="543.3" cy="181.7" r="2.9" fill="url(#grain)"/>
<circle cx="549.3" cy="181.4" r="2.6" fill="url(#grain)"/>
<circle cx="553.2" cy="180.7" r="3.0" fill="url(#grain)"/>
<circle cx="559.0" cy="181.1" r="2.7" fill="url(#grain)"/>
<circle cx="563.0" cy="181.6" r="2.9" fill="url(#grain)"/>
<circle cx="567.6" cy="180.9" r="3.0" fill="url(#grain)"/>
<circle cx="573.4" cy="181.9" r="2.6" fill="url(#grain)"/>
<circle cx="578.0" cy="182.1" r="2.8" fill="url(#grain)"/>
<circle cx="583.3" cy="182.7" r="2.6" fill="url(#grain)"/>
<circle cx="589.1" cy="182.7" r="2.6" fill="url(#grain)"/>
<circle cx="594.0" cy="182.2" r="2.5" fill="url(#grain)"/>
<circle cx="598.2" cy="181.0" r="3.0" fill="url(#grain)"/>
<circle cx="603.7" cy="182.3" r="2.9" fill="url(#grain)"/>
<circle cx="608.0" cy="180.5" r="2.7" fill="url(#grain)"/>
<circle cx="613.6" cy="182.4" r="2.5" fill="url(#grain)"/>
<circle cx="619.8" cy="182.5" r="3.1" fill="url(#grain)"/>
<circle cx="625.3" cy="180.8" r="2.9" fill="url(#grain)"/>
<circle cx="629.9" cy="182.0" r="2.9" fill="url(#grain)"/>
<circle cx="635.0" cy="180.6" r="2.7" fill="url(#grain)"/>
<circle cx="639.3" cy="180.7" r="3.1" fill="url(#grain)"/>
<circle cx="644.7" cy="180.7" r="2.4" fill="url(#grain)"/>
<circle cx="649.6" cy="181.7" r="2.8" fill="url(#grain)"/>
<circle cx="387.5" cy="185.3" r="3.1" fill="url(#grain)"/>
<circle cx="393.1" cy="187.0" r="2.6" fill="url(#grain)"/>
<circle cx="397.6" cy="186.2" r="2.5" fill="url(#grain)"/>
<circle cx="403.5" cy="185.9" r="3.0" fill="url(#grain)"/>
<circle cx="408.0" cy="185.3" r="3.0" fill="url(#grain)"/>
<circle cx="413.2" cy="186.6" r="3.1" fill="url(#grain)"/>
<circle cx="418.5" cy="185.2" r="2.4" fill="url(#grain)"/>
<circle cx="423.9" cy="185.3" r="2.5" fill="url(#grain)"/>
<circle cx="430.5" cy="185.9" r="2.7" fill="url(#grain)"/>
<circle cx="434.7" cy="184.9" r="2.4" fill="url(#grain)"/>
<circle cx="439.6" cy="185.9" r="2.8" fill="url(#grain)"/>
<circle cx="445.0" cy="186.9" r="2.6" fill="url(#grain)"/>
<circle cx="450.6" cy="185.9" r="2.7" fill="url(#grain)"/>
<circle cx="455.0" cy="187.0" r="3.0" fill="url(#grain)"/>
<circle cx="460.7" cy="186.0" r="3.0" fill="url(#grain)"/>
<circle cx="466.7" cy="186.5" r="2.6" fill="url(#grain)"/>
<circle cx="471.4" cy="187.1" r="2.8" fill="url(#grain)"/>
<circle cx="477.1" cy="185.6" r="2.5" fill="url(#grain)"/>
<circle cx="482.8" cy="186.0" r="2.7" fill="url(#grain)"/>
<circle cx="487.1" cy="185.4" r="2.4" fill="url(#grain)"/>
<circle cx="492.4" cy="185.0" r="2.8" fill="url(#grain)"/>
<circle cx="497.9" cy="187.1" r="2.7" fill="url(#grain)"/>
<circle cx="501.8" cy="186.7" r="2.7" fill="url(#grain)"/>
<circle cx="507.8" cy="185.4" r="3.0" fill="url(#grain)"/>
<circle cx="513.0" cy="186.1" r="2.8" fill="url(#grain)"/>
<circle cx="519.0" cy="185.5" r="2.7" fill="url(#grain)"/>
<circle cx="524.5" cy="185.3" r="2.8" fill="url(#grain)"/>
<circle cx="530.0" cy="187.1" r="3.0" fill="url(#grain)"/>
<circle cx="535.9" cy="186.5" r="2.9" fill="url(#grain)"/>
<circle cx="540.6" cy="186.8" r="3.0" fill="url(#grain)"/>
<circle cx="546.6" cy="184.9" r="2.6" fill="url(#grain)"/>
<circle cx="551.7" cy="186.3" r="2.6" fill="url(#grain)"/>
<circle cx="557.3" cy="185.0" r="3.1" fill="url(#grain)"/>
<circle cx="563.3" cy="186.9" r="2.5" fill="url(#grain)"/>
<circle cx="567.7" cy="186.6" r="2.5" fill="url(#grain)"/>
<circle cx="572.8" cy="186.5" r="2.8" fill="url(#grain)"/>
<circle cx="578.3" cy="186.7" r="3.0" fill="url(#grain)"/>
<circle cx="584.4" cy="186.3" r="2.8" fill="url(#grain)"/>
<circle cx="588.6" cy="184.9" r="2.7" fill="url(#grain)"/>
<circle cx="593.1" cy="186.4" r="3.0" fill="url(#grain)"/>
<circle cx="599.2" cy="185.6" r="2.9" fill="url(#grain)"/>
<circle cx="604.2" cy="186.4" r="2.5" fill="url(#grain)"/>
<circle cx="610.6" cy="187.0" r="2.6" fill="url(#grain)"/>
<circle cx="615.0" cy="187.1" r="3.1" fill="url(#grain)"/>
<circle cx="620.1" cy="186.1" r="2.6" fill="url(#grain)"/>
<circle cx="626.2" cy="186.1" r="2.4" fill="url(#grain)"/>
<circle cx="630.4" cy="185.3" r="2.9" fill="url(#grain)"/>
<circle cx="635.8" cy="185.0" r="2.6" fill="url(#grain)"/>
<circle cx="640.6" cy="187.1" r="2.6" fill="url(#grain)"/>
<circle cx="645.8" cy="185.4" r="2.7" fill="url(#grain)"/>
<circle cx="385.9" cy="190.9" r="2.5" fill="url(#grain)"/>
<circle cx="391.8" cy="191.6" r="2.8" fill="url(#grain)"/>
<circle cx="397.5" cy="191.7" r="2.6" fill="url(#grain)"/>
<circle cx="403.1" cy="189.4" r="2.5" fill="url(#grain)"/>
<circle cx="406.9" cy="191.0" r="2.8" fill="url(#grain)"/>
<circle cx="413.3" cy="190.9" r="2.6" fill="url(#grain)"/>
<circle cx="418.3" cy="189.6" r="2.7" fill="url(#grain)"/>
<circle cx="424.2" cy="189.4" r="3.1" fill="url(#grain)"/>
<circle cx="428.4" cy="190.4" r="2.6" fill="url(#grain)"/>
<circle cx="432.8" cy="191.1" r="2.7" fill="url(#grain)"/>
<circle cx="438.0" cy="190.8" r="2.9" fill="url(#grain)"/>
<circle cx="441.6" cy="189.4" r="2.9" fill="url(#grain)"/>
<circle cx="446.7" cy="190.2" r="2.4" fill="url(#grain)"/>
<circle cx="453.2" cy="191.3" r="2.5" fill="url(#grain)"/>
<circle cx="457.4" cy="191.7" r="2.8" fill="url(#grain)"/>
<circle cx="461.8" cy="191.4" r="2.6" fill="url(#grain)"/>
<circle cx="467.3" cy="191.4" r="2.7" fill="url(#grain)"/>
<circle cx="472.6" cy="190.4" r="3.0" fill="url(#grain)"/>
<circle cx="477.2" cy="190.1" r="2.7" fill="url(#grain)"/>
<circle cx="482.4" cy="191.2" r="2.7" fill="url(#grain)"/>
<circle cx="488.4" cy="190.4" r="2.7" fill="url(#grain)"/>
<circle cx="493.6" cy="191.2" r="3.0" fill="url(#grain)"/>
<circle cx="498.2" cy="190.0" r="2.9" fill="url(#grain)"/>
<circle cx="503.7" cy="190.9" r="3.1" fill="url(#grain)"/>
<circle cx="508.1" cy="191.1" r="2.9" fill="url(#grain)"/>
<circle cx="513.5" cy="191.0" r="3.1" fill="url(#grain)"/>
<circle cx="518.6" cy="189.9" r="2.7" fill="url(#grain)"/>
<circle cx="523.4" cy="191.7" r="2.6" fill="url(#grain)"/>
<circle cx="527.6" cy="190.7" r="3.0" fill="url(#grain)"/>
<circle cx="533.8" cy="190.7" r="3.0" fill="url(#grain)"/>
<circle cx="539.9" cy="190.7" r="2.9" fill="url(#grain)"/>
<circle cx="544.5" cy="190.6" r="2.9" fill="url(#grain)"/>
<circle cx="550.8" cy="190.1" r="2.5" fill="url(#grain)"/>
<circle cx="555.5" cy="190.7" r="3.1" fill="url(#grain)"/>
<circle cx="560.6" cy="190.8" r="2.7" fill="url(#grain)"/>
<circle cx="566.6" cy="191.2" r="2.9" fill="url(#grain)"/>
<circle cx="572.2" cy="190.4" r="2.5" fill="url(#grain)"/>
<circle cx="577.4" cy="191.6" r="3.1" fill="url(#grain)"/>
<circle cx="581.6" cy="190.0" r="2.9" fill="url(#grain)"/>
<circle cx="588.3" cy="190.2" r="2.9" fill="url(#grain)"/>
<circle cx="592.7" cy="189.4" r="2.7" fill="url(#grain)"/>
<circle cx="597.0" cy="190.0" r="2.9" fill="url(#grain)"/>
<circle cx="603.0" cy="189.7" r="3.1" fill="url(#grain)"/>
<circle cx="608.5" cy="191.1" r="2.5" fill="url(#grain)"/>
<circle cx="613.1" cy="189.4" r="2.7" fill="url(#grain)"/>
<circle cx="618.1" cy="191.0" r="3.0" fill="url(#grain)"/>
<circle cx="624.6" cy="189.8" r="2.6" fill="url(#grain)"/>
<circle cx="629.1" cy="191.2" r="2.6" fill="url(#grain)"/>
<circle cx="635.3" cy="189.8" r="2.8" fill="url(#grain)"/>
<circle cx="638.7" cy="191.6" r="2.8" fill="url(#grain)"/>
<circle cx="644.1" cy="191.3" r="2.7" fill="url(#grain)"/>
<circle cx="649.5" cy="190.2" r="2.9" fill="url(#grain)"/>
<circle cx="388.4" cy="194.3" r="3.0" fill="url(#grain)"/>
<circle cx="393.1" cy="193.9" r="2.6" fill="url(#grain)"/>
<circle cx="398.9" cy="195.1" r="2.4" fill="url(#grain)"/>
<circle cx="402.9" cy="194.6" r="2.5" fill="url(#grain)"/>
<circle cx="410.2" cy="194.0" r="2.8" fill="url(#grain)"/>
<circle cx="414.5" cy="194.2" r="2.4" fill="url(#grain)"/>
<circle cx="419.3" cy="194.6" r="2.9" fill="url(#grain)"/>
<circle cx="424.3" cy="194.7" r="2.6" fill="url(#grain)"/>
<circle cx="428.8" cy="194.4" r="2.6" fill="url(#grain)"/>
<circle cx="433.7" cy="194.4" r="2.6" fill="url(#grain)"/>
<circle cx="438.1" cy="195.0" r="3.0" fill="url(#grain)"/>
<circle cx="443.5" cy="195.3" r="3.0" fill="url(#grain)"/>
<circle cx="448.5" cy="194.8" r="2.9" fill="url(#grain)"/>
<circle cx="453.5" cy="195.1" r="2.8" fill="url(#grain)"/>
<circle cx="459.4" cy="194.3" r="3.0" fill="url(#grain)"/>
<circle cx="462.5" cy="195.7" r="2.6" fill="url(#grain)"/>
<circle cx="468.1" cy="195.9" r="2.6" fill="url(#grain)"/>
<circle cx="474.7" cy="195.6" r="2.9" fill="url(#grain)"/>
<circle cx="479.6" cy="195.9" r="2.7" fill="url(#grain)"/>
<circle cx="486.0" cy="194.0" r="3.0" fill="url(#grain)"/>
<circle cx="490.3" cy="195.0" r="3.1" fill="url(#grain)"/>
<circle cx="495.2" cy="196.2" r="3.0" fill="url(#grain)"/>
<circle cx="498.9" cy="194.2" r="3.1" fill="url(#grain)"/>
<circle cx="504.1" cy="195.1" r="2.8" fill="url(#grain)"/>
<circle cx="511.0" cy="195.2" r="2.7" fill="url(#grain)"/>
<circle cx="515.9" cy="196.0" r="2.5" fill="url(#grain)"/>
<circle cx="521.3" cy="195.1" r="2.6" fill="url(#grain)"/>
<circle cx="526.6" cy="193.8" r="2.8" fill="url(#grain)"/>
<circle cx="530.6" cy="194.0" r="2.9" fill="url(#grain)"/>
<circle cx="537.5" cy="195.1" r="2.6" fill="url(#grain)"/>
<circle cx="540.9" cy="195.8" r="2.8" fill="url(#grain)"/>
<circle cx="546.1" cy="193.9" r="2.9" fill="url(#grain)"/>
<circle cx="552.0" cy="193.9" r="2.5" fill="url(#grain)"/>
<circle cx="557.9" cy="194.6" r="2.7" fill="url(#grain)"/>
<circle cx="561.5" cy="195.3" r="3.0" fill="url(#grain)"/>
<circle cx="566.6" cy="195.2" r="3.1" fill="url(#grain)"/>
<circle cx="572.0" cy="195.5" r="3.0" fill="url(#grain)"/>
<circle cx="577.8" cy="194.4" r="2.7" fill="url(#grain)"/>
<circle cx="582.2" cy="194.0" r="3.0" fill="url(#grain)"/>
<circle cx="586.3" cy="195.8" r="2.6" fill="url(#grain)"/>
<circle cx="592.4" cy="195.3" r="3.1" fill="url(#grain)"/>
<circle cx="597.2" cy="193.9" r="2.9" fill="url(#grain)"/>
<circle cx="602.4" cy="193.9" r="2.7" fill="url(#grain)"/>
<circle cx="606.6" cy="194.6" r="3.1" fill="url(#grain)"/>
<circle cx="612.1" cy="194.2" r="2.8" fill="url(#grain)"/>
<circle cx="617.1" cy="195.2" r="2.7" fill="url(#grain)"/>
<circle cx="621.8" cy="194.0" r="2.5" fill="url(#grain)"/>
<circle cx="626.7" cy="194.9" r="2.4" fill="url(#grain)"/>
<circle cx="633.3" cy="195.6" r="2.8" fill="url(#grain)"/>
<circle cx="639.0" cy="194.2" r="2.4" fill="url(#grain)"/>
<circle cx="642.4" cy="195.9" r="2.4" fill="url(#grain)"/>
<circle cx="647.5" cy="195.8" r="2.5" fill="url(#grain)"/>
<circle cx="385.3" cy="199.0" r="2.4" fill="url(#grain)"/>
<circle cx="390.1" cy="199.8" r="2.5" fill="url(#grain)"/>
<circle cx="395.3" cy="199.2" r="2.5" fill="url(#grain)"/>
<circle cx="399.9" cy="199.2" r="2.8" fill="url(#grain)"/>
<circle cx="405.3" cy="198.8" r="2.4" fill="url(#grain)"/>
<circle cx="410.6" cy="199.7" r="2.4" fill="url(#grain)"/>
<circle cx="415.8" cy="198.6" r="2.8" fill="url(#grain)"/>
<circle cx="419.9" cy="200.0" r="2.9" fill="url(#grain)"/>
<circle cx="425.6" cy="199.0" r="2.4" fill="url(#grain)"/>
<circle cx="431.8" cy="200.5" r="2.9" fill="url(#grain)"/>
<circle cx="436.8" cy="200.1" r="2.7" fill="url(#grain)"/>
<circle cx="441.2" cy="200.4" r="3.1" fill="url(#grain)"/>
<circle cx="446.5" cy="200.5" r="2.8" fill="url(#grain)"/>
<circle cx="451.9" cy="200.3" r="3.0" fill="url(#grain)"/>
<circle cx="456.0" cy="199.3" r="3.1" fill="url(#grain)"/>
<circle cx="462.3" cy="198.4" r="2.5" fill="url(#grain)"/>
<circle cx="467.0" cy="199.8" r="2.6" fill="url(#grain)"/>
<circle cx="472.5" cy="200.7" r="2.7" fill="url(#grain)"/>
<circle cx="477.1" cy="198.8" r="2.7" fill="url(#grain)"/>
<circle cx="482.6" cy="199.1" r="2.5" fill="url(#grain)"/>
<circle cx="486.1" cy="199.1" r="2.4" fill="url(#grain)"/>
<circle cx="492.0" cy="198.5" r="3.1" fill="url(#grain)"/>
<circle cx="497.3" cy="200.0" r="2.6" fill="url(#grain)"/>
<circle cx="503.0" cy="199.1" r="3.1" fill="url(#grain)"/>
<circle cx="508.5" cy="199.4" r="2.6" fill="url(#grain)"/>
<circle cx="514.1" cy="200.6" r="2.5" fill="url(#grain)"/>
<circle cx="517.8" cy="198.4" r="2.8" fill="url(#grain)"/>
<circle cx="523.8" cy="199.7" r="2.5" fill="url(#grain)"/>
<circle cx="528.2" cy="198.5" r="3.1" fill="url(#grain)"/>
<circle cx="533.9" cy="199.9" r="2.7" fill="url(#grain)"/>
<circle cx="538.4" cy="198.6" r="3.0" fill="url(#grain)"/>
<circle cx="543.6" cy="198.4" r="2.4" fill="url(#grain)"/>
<circle cx="548.8" cy="198.6" r="2.4" fill="url(#grain)"/>
<circle cx="553.8" cy="198.6" r="3.0" fill="url(#grain)"/>
<circle cx="560.2" cy="199.6" r="2.9" fill="url(#grain)"/>
<circle cx="565.2" cy="200.6" r="3.0" fill="url(#grain)"/>
<circle cx="570.0" cy="199.4" r="2.9" fill="url(#grain)"/>
<circle cx="573.8" cy="199.7" r="2.7" fill="url(#grain)"/>
<circle cx="578.7" cy="198.6" r="2.8" fill="url(#grain)"/>
<circle cx="585.5" cy="200.2" r="2.9" fill="url(#grain)"/>
<circle cx="589.6" cy="200.2" r="2.7" fill="url(#grain)"/>
<circle cx="594.6" cy="199.3" r="3.0" fill="url(#grain)"/>
<circle cx="600.6" cy="198.4" r="2.7" fill="url(#grain)"/>
<circle cx="605.1" cy="198.7" r="2.5" fill="url(#grain)"/>
<circle cx="609.7" cy="200.1" r="2.7" fill="url(#grain)"/>
<circle cx="614.4" cy="200.4" r="2.6" fill="url(#grain)"/>
<circle cx="620.0" cy="199.5" r="2.4" fill="url(#grain)"/>
<circle cx="624.6" cy="200.1" r="2.5" fill="url(#grain)"/>
<circle cx="628.0" cy="199.4" r="2.9" fill="url(#grain)"/>
<circle cx="634.5" cy="199.1" r="2.4" fill="url(#grain)"/>
<circle cx="637.8" cy="198.4" r="2.9" fill="url(#grain)"/>
<circle cx="644.5" cy="200.2" r="2.7" fill="url(#grain)"/>
<circle cx="648.8" cy="199.4" r="2.4" fill="url(#grain)"/>
<circle cx="388.7" cy="203.0" r="2.5" fill="url(#grain)"/>
<circle cx="394.6" cy="203.6" r="3.1" fill="url(#grain)"/>
<circle cx="400.4" cy="202.9" r="3.0" fill="url(#grain)"/>
<circle cx="405.2" cy="205.1" r="2.5" fill="url(#grain)"/>
<circle cx="411.0" cy="203.6" r="2.6" fill="url(#grain)"/>
<circle cx="416.0" cy="203.6" r="2.9" fill="url(#grain)"/>
<circle cx="421.0" cy="203.9" r="2.9" fill="url(#grain)"/>
<circle cx="424.7" cy="204.8" r="2.5" fill="url(#grain)"/>
<circle cx="430.3" cy="203.7" r="2.9" fill="url(#grain)"/>
<circle cx="435.3" cy="203.1" r="3.1" fill="url(#grain)"/>
<circle cx="440.9" cy="204.6" r="2.8" fill="url(#grain)"/>
<circle cx="446.8" cy="203.8" r="3.0" fill="url(#grain)"/>
<circle cx="451.3" cy="203.7" r="2.7" fill="url(#grain)"/>
<circle cx="456.7" cy="204.8" r="2.6" fill="url(#grain)"/>
<circle cx="463.2" cy="203.7" r="2.9" fill="url(#grain)"/>
<circle cx="467.7" cy="203.0" r="2.6" fill="url(#grain)"/>
<circle cx="473.4" cy="203.7" r="3.0" fill="url(#grain)"/>
<circle cx="478.5" cy="204.9" r="2.5" fill="url(#grain)"/>
<circle cx="483.2" cy="203.3" r="2.6" fill="url(#grain)"/>
<circle cx="488.6" cy="203.3" r="2.6" fill="url(#grain)"/>
<circle cx="493.1" cy="204.5" r="2.7" fill="url(#grain)"/>
<circle cx="498.4" cy="203.6" r="2.8" fill="url(#grain)"/>
<circle cx="502.0" cy="204.7" r="2.5" fill="url(#grain)"/>
<circle cx="507.9" cy="204.2" r="2.4" fill="url(#grain)"/>
<circle cx="512.8" cy="203.6" r="2.4" fill="url(#grain)"/>
<circle cx="519.6" cy="204.9" r="2.7" fill="url(#grain)"/>
<circle cx="524.7" cy="203.0" r="2.5" fill="url(#grain)"/>
<circle cx="528.8" cy="203.8" r="2.5" fill="url(#grain)"/>
<circle cx="534.3" cy="205.0" r="3.1" fill="url(#grain)"/>
<circle cx="540.3" cy="203.9" r="2.9" fill="url(#grain)"/>
<circle cx="545.2" cy="204.1" r="2.9" fill="url(#grain)"/>
<circle cx="551.1" cy="204.5" r="2.8" fill="url(#grain)"/>
<circle cx="556.6" cy="203.0" r="3.0" fill="url(#grain)"/>
<circle cx="560.2" cy="205.1" r="2.4" fill="url(#grain)"/>
<circle cx="565.6" cy="204.2" r="2.7" fill="url(#grain)"/>
<circle cx="570.2" cy="204.8" r="2.9" fill="url(#grain)"/>
<circle cx="576.2" cy="203.0" r="2.4" fill="url(#grain)"/>
<circle cx="581.6" cy="204.6" r="2.4" fill="url(#grain)"/>
<circle cx="587.2" cy="204.0" r="2.9" fill="url(#grain)"/>
<circle cx="591.6" cy="204.4" r="2.7" fill="url(#grain)"/>
<circle cx="596.1" cy="204.1" r="2.5" fill="url(#grain)"/>
<circle cx="602.7" cy="204.8" r="2.4" fill="url(#grain)"/>
<circle cx="607.5" cy="205.1" r="2.5" fill="url(#grain)"/>
<circle cx="612.1" cy="205.0" r="2.9" fill="url(#grain)"/>
<circle cx="615.8" cy="203.4" r="2.5" fill="url(#grain)"/>
<circle cx="622.2" cy="203.1" r="3.0" fill="url(#grain)"/>
<circle cx="627.4" cy="204.5" r="2.6" fill="url(#grain)"/>
<circle cx="632.7" cy="203.9" r="2.7" fill="url(#grain)"/>
<circle cx="638.1" cy="204.5" r="2.7" fill="url(#grain)"/>
<circle cx="642.2" cy="202.9" r="2.8" fill="url(#grain)"/>
<circle cx="647.0" cy="203.0" r="2.7" fill="url(#grain)"/>
</g>
<g filter="url(#semblur)">
<polygon points="388,88.5 648,88.5 648,145 625,142 600,141 590,145 575,140 560,139 546,141 540,149 515,149 470,147.5 440,147 410,147.5 388,147" fill="#858585"/>
<ellipse cx="403" cy="110" rx="2.4" ry="3.0" fill="#6c6c6c"/>
<ellipse cx="411" cy="121" rx="3.2" ry="4.0" fill="#6c6c6c"/>
<ellipse cx="431" cy="126" rx="2.8" ry="3.5" fill="#6c6c6c"/>
<ellipse cx="466" cy="118" rx="2.4" ry="3.0" fill="#6c6c6c"/>
<ellipse cx="477" cy="125" rx="4.0" ry="5.0" fill="#6c6c6c"/>
<ellipse cx="512" cy="122" rx="2.4" ry="3.0" fill="#6c6c6c"/>
<ellipse cx="556" cy="128" rx="4.8" ry="6.0" fill="#6c6c6c"/>
<ellipse cx="632" cy="123" rx="4.0" ry="5.0" fill="#6c6c6c"/>
<ellipse cx="611" cy="107" rx="2.0" ry="2.5" fill="#6c6c6c"/>
<ellipse cx="560" cy="118" rx="2.4" ry="3.0" fill="#6c6c6c"/>
<ellipse cx="486" cy="113" rx="2.4" ry="3.0" fill="#6c6c6c"/>
<ellipse cx="440" cy="145" rx="2.4" ry="3.0" fill="#6c6c6c"/>
<ellipse cx="580" cy="144" rx="3.2" ry="4.0" fill="#6c6c6c"/>
<circle cx="394.5" cy="103.5" r="12.3" fill="url(#blob)"/>
<circle cx="402.0" cy="100.6" r="3.1" fill="#adadad" opacity="0.7"/>
<circle cx="392.2" cy="108.7" r="3.7" fill="#adadad" opacity="0.7"/>
<circle cx="399.0" cy="108.8" r="4.6" fill="#adadad" opacity="0.7"/>
<circle cx="391.2" cy="106.5" r="3.3" fill="#adadad" opacity="0.7"/>
<circle cx="402.2" cy="104.2" r="3.5" fill="#adadad" opacity="0.7"/>
<circle cx="393.2" cy="95.8" r="3.2" fill="#adadad" opacity="0.7"/>
<circle cx="396.5" cy="108.5" r="4.5" fill="#adadad" opacity="0.7"/>
<circle cx="394.1" cy="98.2" r="3.9" fill="#adadad" opacity="0.7"/>
<path d="M382.8,107.2 A12.3,12.3 0 0 0 398.2,115.2" fill="none" stroke="#c8c8c8" stroke-width="1.1" opacity="0.7"/>
<circle cx="417" cy="101.5" r="13.4" fill="url(#blob)"/>
<circle cx="412.8" cy="106.9" r="5.0" fill="#adadad" opacity="0.7"/>
<circle cx="416.4" cy="110.1" r="5.2" fill="#adadad" opacity="0.7"/>
<circle cx="409.5" cy="96.0" r="5.3" fill="#adadad" opacity="0.7"/>
<circle cx="421.5" cy="109.8" r="3.8" fill="#adadad" opacity="0.7"/>
<circle cx="418.5" cy="97.4" r="4.0" fill="#adadad" opacity="0.7"/>
<circle cx="408.8" cy="104.6" r="4.7" fill="#adadad" opacity="0.7"/>
<circle cx="419.6" cy="110.2" r="5.1" fill="#adadad" opacity="0.7"/>
<circle cx="413.4" cy="101.3" r="3.9" fill="#adadad" opacity="0.7"/>
<circle cx="415.3" cy="107.8" r="5.3" fill="#adadad" opacity="0.7"/>
<path d="M404.2,105.5 A13.4,13.4 0 0 0 421.0,114.3" fill="none" stroke="#c8c8c8" stroke-width="1.1" opacity="0.7"/>
<circle cx="452" cy="108" r="16.8" fill="url(#blob)"/>
<circle cx="443.0" cy="101.9" r="4.4" fill="#adadad" opacity="0.7"/>
<circle cx="452.3" cy="118.3" r="5.1" fill="#adadad" opacity="0.7"/>
<circle cx="452.7" cy="112.7" r="4.3" fill="#adadad" opacity="0.7"/>
<circle cx="444.2" cy="112.8" r="5.2" fill="#adadad" opacity="0.7"/>
<circle cx="445.4" cy="105.2" r="4.2" fill="#adadad" opacity="0.7"/>
<circle cx="448.6" cy="101.3" r="5.4" fill="#adadad" opacity="0.7"/>
<circle cx="447.0" cy="112.8" r="4.3" fill="#adadad" opacity="0.7"/>
<circle cx="449.9" cy="114.9" r="4.5" fill="#adadad" opacity="0.7"/>
<circle cx="460.5" cy="109.6" r="4.2" fill="#adadad" opacity="0.7"/>
<circle cx="457.6" cy="102.7" r="5.3" fill="#adadad" opacity="0.7"/>
<circle cx="447.9" cy="107.3" r="4.5" fill="#adadad" opacity="0.7"/>
<path d="M436.0,113.0 A16.8,16.8 0 0 0 457.0,124.0" fill="none" stroke="#c8c8c8" stroke-width="1.1" opacity="0.7"/>
<circle cx="475" cy="102" r="11.2" fill="url(#blob)"/>
<circle cx="476.4" cy="96.0" r="3.6" fill="#adadad" opacity="0.7"/>
<circle cx="471.1" cy="107.8" r="3.6" fill="#adadad" opacity="0.7"/>
<circle cx="476.9" cy="94.9" r="4.3" fill="#adadad" opacity="0.7"/>
<circle cx="474.0" cy="95.4" r="3.6" fill="#adadad" opacity="0.7"/>
<circle cx="468.9" cy="100.7" r="3.7" fill="#adadad" opacity="0.7"/>
<circle cx="478.1" cy="95.3" r="2.9" fill="#adadad" opacity="0.7"/>
<circle cx="475.1" cy="95.6" r="3.8" fill="#adadad" opacity="0.7"/>
<path d="M464.4,105.4 A11.2,11.2 0 0 0 478.4,112.6" fill="none" stroke="#c8c8c8" stroke-width="1.1" opacity="0.7"/>
<circle cx="497" cy="104" r="15.7" fill="url(#blob)"/>
<circle cx="500.5" cy="101.7" r="5.0" fill="#adadad" opacity="0.7"/>
<circle cx="489.3" cy="111.6" r="4.3" fill="#adadad" opacity="0.7"/>
<circle cx="492.1" cy="101.9" r="5.7" fill="#adadad" opacity="0.7"/>
<circle cx="487.3" cy="104.7" r="4.6" fill="#adadad" opacity="0.7"/>
<circle cx="499.7" cy="101.6" r="4.4" fill="#adadad" opacity="0.7"/>
<circle cx="495.9" cy="93.6" r="5.7" fill="#adadad" opacity="0.7"/>
<circle cx="496.3" cy="108.6" r="5.6" fill="#adadad" opacity="0.7"/>
<circle cx="496.5" cy="99.7" r="6.1" fill="#adadad" opacity="0.7"/>
<circle cx="493.1" cy="103.3" r="5.0" fill="#adadad" opacity="0.7"/>
<circle cx="494.4" cy="108.2" r="6.0" fill="#adadad" opacity="0.7"/>
<path d="M482.1,108.7 A15.7,15.7 0 0 0 501.7,118.9" fill="none" stroke="#c8c8c8" stroke-width="1.1" opacity="0.7"/>
<circle cx="522" cy="106" r="13.4" fill="url(#blob)"/>
<circle cx="526.0" cy="104.3" r="4.3" fill="#adadad" opacity="0.7"/>
<circle cx="520.8" cy="113.9" r="3.6" fill="#adadad" opacity="0.7"/>
<circle cx="518.7" cy="111.6" r="4.3" fill="#adadad" opacity="0.7"/>
<circle cx="515.0" cy="109.0" r="5.3" fill="#adadad" opacity="0.7"/>
<circle cx="530.3" cy="102.2" r="5.0" fill="#adadad" opacity="0.7"/>
<circle cx="522.7" cy="111.3" r="4.3" fill="#adadad" opacity="0.7"/>
<circle cx="517.3" cy="100.0" r="4.1" fill="#adadad" opacity="0.7"/>
<circle cx="527.9" cy="105.7" r="3.4" fill="#adadad" opacity="0.7"/>
<circle cx="526.3" cy="108.8" r="4.8" fill="#adadad" opacity="0.7"/>
<path d="M509.2,110.0 A13.4,13.4 0 0 0 526.0,118.8" fill="none" stroke="#c8c8c8" stroke-width="1.1" opacity="0.7"/>
<circle cx="545" cy="105" r="13.4" fill="url(#blob)"/>
<circle cx="546.9" cy="102.0" r="3.8" fill="#adadad" opacity="0.7"/>
<circle cx="545.4" cy="113.5" r="5.2" fill="#adadad" opacity="0.7"/>
<circle cx="544.7" cy="109.2" r="5.3" fill="#adadad" opacity="0.7"/>
<circle cx="553.1" cy="103.5" r="4.3" fill="#adadad" opacity="0.7"/>
<circle cx="544.8" cy="96.6" r="4.4" fill="#adadad" opacity="0.7"/>
<circle cx="544.0" cy="112.1" r="4.7" fill="#adadad" opacity="0.7"/>
<circle cx="541.5" cy="112.0" r="3.7" fill="#adadad" opacity="0.7"/>
<circle cx="550.0" cy="104.1" r="3.8" fill="#adadad" opacity="0.7"/>
<circle cx="554.0" cy="102.7" r="5.2" fill="#adadad" opacity="0.7"/>
<path d="M532.2,109.0 A13.4,13.4 0 0 0 549.0,117.8" fill="none" stroke="#c8c8c8" stroke-width="1.1" opacity="0.7"/>
<circle cx="565" cy="103" r="10.1" fill="url(#blob)"/>
<circle cx="568.6" cy="97.4" r="3.8" fill="#adadad" opacity="0.7"/>
<circle cx="562.3" cy="101.8" r="3.6" fill="#adadad" opacity="0.7"/>
<circle cx="568.4" cy="97.3" r="2.6" fill="#adadad" opacity="0.7"/>
<circle cx="570.7" cy="105.3" r="3.3" fill="#adadad" opacity="0.7"/>
<circle cx="570.6" cy="98.6" r="3.2" fill="#adadad" opacity="0.7"/>
<circle cx="562.3" cy="97.7" r="3.6" fill="#adadad" opacity="0.7"/>
<circle cx="561.1" cy="107.3" r="2.6" fill="#adadad" opacity="0.7"/>
<path d="M555.4,106.0 A10.1,10.1 0 0 0 568.0,112.6" fill="none" stroke="#c8c8c8" stroke-width="1.1" opacity="0.7"/>
<circle cx="582" cy="110" r="12.3" fill="url(#blob)"/>
<circle cx="588.1" cy="105.6" r="4.6" fill="#adadad" opacity="0.7"/>
<circle cx="577.5" cy="111.1" r="3.9" fill="#adadad" opacity="0.7"/>
<circle cx="579.2" cy="103.9" r="3.3" fill="#adadad" opacity="0.7"/>
<circle cx="587.9" cy="110.1" r="3.5" fill="#adadad" opacity="0.7"/>
<circle cx="582.7" cy="114.7" r="3.8" fill="#adadad" opacity="0.7"/>
<circle cx="579.2" cy="102.1" r="4.3" fill="#adadad" opacity="0.7"/>
<circle cx="590.1" cy="111.1" r="4.2" fill="#adadad" opacity="0.7"/>
<circle cx="581.2" cy="103.0" r="3.7" fill="#adadad" opacity="0.7"/>
<path d="M570.3,113.7 A12.3,12.3 0 0 0 585.7,121.7" fill="none" stroke="#c8c8c8" stroke-width="1.1" opacity="0.7"/>
<circle cx="596" cy="103" r="14.6" fill="url(#blob)"/>
<circle cx="593.8" cy="106.5" r="5.1" fill="#adadad" opacity="0.7"/>
<circle cx="604.2" cy="105.9" r="5.6" fill="#adadad" opacity="0.7"/>
<circle cx="591.9" cy="95.8" r="5.4" fill="#adadad" opacity="0.7"/>
<circle cx="605.1" cy="100.6" r="5.8" fill="#adadad" opacity="0.7"/>
<circle cx="592.6" cy="103.9" r="5.0" fill="#adadad" opacity="0.7"/>
<circle cx="589.8" cy="95.6" r="5.0" fill="#adadad" opacity="0.7"/>
<circle cx="593.8" cy="105.5" r="5.5" fill="#adadad" opacity="0.7"/>
<circle cx="588.8" cy="95.8" r="4.9" fill="#adadad" opacity="0.7"/>
<circle cx="601.5" cy="95.7" r="5.8" fill="#adadad" opacity="0.7"/>
<circle cx="586.5" cy="105.3" r="4.5" fill="#adadad" opacity="0.7"/>
<path d="M582.2,107.4 A14.6,14.6 0 0 0 600.4,116.8" fill="none" stroke="#c8c8c8" stroke-width="1.1" opacity="0.7"/>
<circle cx="623" cy="100" r="12.3" fill="url(#blob)"/>
<circle cx="628.4" cy="100.4" r="3.7" fill="#adadad" opacity="0.7"/>
<circle cx="628.9" cy="99.7" r="3.6" fill="#adadad" opacity="0.7"/>
<circle cx="621.6" cy="96.5" r="3.6" fill="#adadad" opacity="0.7"/>
<circle cx="619.8" cy="102.5" r="4.2" fill="#adadad" opacity="0.7"/>
<circle cx="616.0" cy="103.7" r="3.7" fill="#adadad" opacity="0.7"/>
<circle cx="627.5" cy="99.3" r="4.1" fill="#adadad" opacity="0.7"/>
<circle cx="623.4" cy="102.9" r="3.6" fill="#adadad" opacity="0.7"/>
<circle cx="627.2" cy="96.8" r="4.0" fill="#adadad" opacity="0.7"/>
<path d="M611.3,103.7 A12.3,12.3 0 0 0 626.7,111.7" fill="none" stroke="#c8c8c8" stroke-width="1.1" opacity="0.7"/>
<circle cx="638" cy="109" r="13.4" fill="url(#blob)"/>
<circle cx="632.5" cy="108.2" r="4.4" fill="#adadad" opacity="0.7"/>
<circle cx="643.6" cy="111.4" r="3.9" fill="#adadad" opacity="0.7"/>
<circle cx="641.4" cy="101.2" r="4.8" fill="#adadad" opacity="0.7"/>
<circle cx="630.6" cy="104.0" r="4.9" fill="#adadad" opacity="0.7"/>
<circle cx="642.2" cy="110.5" r="4.9" fill="#adadad" opacity="0.7"/>
<circle cx="643.1" cy="101.0" r="4.9" fill="#adadad" opacity="0.7"/>
<circle cx="642.1" cy="115.2" r="4.6" fill="#adadad" opacity="0.7"/>
<circle cx="634.5" cy="106.3" r="5.3" fill="#adadad" opacity="0.7"/>
<circle cx="632.5" cy="108.6" r="5.3" fill="#adadad" opacity="0.7"/>
<path d="M625.2,113.0 A13.4,13.4 0 0 0 642.0,121.8" fill="none" stroke="#c8c8c8" stroke-width="1.1" opacity="0.7"/>
<circle cx="436" cy="97" r="9.0" fill="url(#blob)"/>
<circle cx="434.1" cy="98.7" r="3.1" fill="#adadad" opacity="0.7"/>
<circle cx="435.8" cy="100.4" r="2.6" fill="#adadad" opacity="0.7"/>
<circle cx="432.9" cy="94.5" r="3.1" fill="#adadad" opacity="0.7"/>
<circle cx="441.2" cy="93.5" r="3.4" fill="#adadad" opacity="0.7"/>
<circle cx="439.2" cy="95.3" r="3.3" fill="#adadad" opacity="0.7"/>
<circle cx="440.2" cy="99.7" r="2.3" fill="#adadad" opacity="0.7"/>
<path d="M427.5,99.7 A9.0,9.0 0 0 0 438.7,105.5" fill="none" stroke="#c8c8c8" stroke-width="1.1" opacity="0.7"/>
<circle cx="486" cy="96" r="7.8" fill="url(#blob)"/>
<circle cx="490.4" cy="99.2" r="2.1" fill="#adadad" opacity="0.7"/>
<circle cx="485.1" cy="91.9" r="2.0" fill="#adadad" opacity="0.7"/>
<circle cx="486.6" cy="93.9" r="3.0" fill="#adadad" opacity="0.7"/>
<circle cx="487.7" cy="92.3" r="2.5" fill="#adadad" opacity="0.7"/>
<circle cx="490.7" cy="96.8" r="2.0" fill="#adadad" opacity="0.7"/>
<path d="M478.6,98.4 A7.8,7.8 0 0 0 488.4,103.4" fill="none" stroke="#c8c8c8" stroke-width="1.1" opacity="0.7"/>
<circle cx="534" cy="97" r="7.8" fill="url(#blob)"/>
<circle cx="528.7" cy="96.1" r="2.8" fill="#adadad" opacity="0.7"/>
<circle cx="537.6" cy="100.2" r="2.8" fill="#adadad" opacity="0.7"/>
<circle cx="531.6" cy="101.3" r="2.6" fill="#adadad" opacity="0.7"/>
<circle cx="530.4" cy="99.2" r="2.3" fill="#adadad" opacity="0.7"/>
<circle cx="532.8" cy="102.1" r="2.4" fill="#adadad" opacity="0.7"/>
<path d="M526.6,99.4 A7.8,7.8 0 0 0 536.4,104.4" fill="none" stroke="#c8c8c8" stroke-width="1.1" opacity="0.7"/>
<circle cx="609" cy="96" r="7.8" fill="url(#blob)"/>
<circle cx="609.5" cy="92.4" r="2.2" fill="#adadad" opacity="0.7"/>
<circle cx="614.5" cy="96.0" r="2.8" fill="#adadad" opacity="0.7"/>
<circle cx="613.4" cy="95.5" r="2.0" fill="#adadad" opacity="0.7"/>
<circle cx="610.1" cy="97.8" r="2.7" fill="#adadad" opacity="0.7"/>
<circle cx="605.1" cy="92.2" r="2.3" fill="#adadad" opacity="0.7"/>
<path d="M601.6,98.4 A7.8,7.8 0 0 0 611.4,103.4" fill="none" stroke="#c8c8c8" stroke-width="1.1" opacity="0.7"/>
<circle cx="646" cy="97" r="6.7" fill="url(#blob)"/>
<circle cx="646.3" cy="99.6" r="1.8" fill="#adadad" opacity="0.7"/>
<circle cx="649.4" cy="97.6" r="2.1" fill="#adadad" opacity="0.7"/>
<circle cx="642.9" cy="100.4" r="2.0" fill="#adadad" opacity="0.7"/>
<circle cx="647.7" cy="93.8" r="1.8" fill="#adadad" opacity="0.7"/>
<path d="M639.6,99.0 A6.7,6.7 0 0 0 648.0,103.4" fill="none" stroke="#c8c8c8" stroke-width="1.1" opacity="0.7"/>
<circle cx="392" cy="134" r="11.2" fill="url(#blob)"/>
<circle cx="398.3" cy="135.2" r="4.3" fill="#adadad" opacity="0.7"/>
<circle cx="398.4" cy="136.1" r="3.2" fill="#adadad" opacity="0.7"/>
<circle cx="389.2" cy="127.3" r="4.0" fill="#adadad" opacity="0.7"/>
<circle cx="392.1" cy="137.9" r="4.4" fill="#adadad" opacity="0.7"/>
<circle cx="398.6" cy="130.1" r="3.7" fill="#adadad" opacity="0.7"/>
<circle cx="396.9" cy="135.6" r="4.3" fill="#adadad" opacity="0.7"/>
<circle cx="396.4" cy="136.0" r="2.9" fill="#adadad" opacity="0.7"/>
<path d="M381.4,137.4 A11.2,11.2 0 0 0 395.4,144.6" fill="none" stroke="#c8c8c8" stroke-width="1.1" opacity="0.7"/>
<circle cx="402.5" cy="128" r="10.1" fill="url(#blob)"/>
<circle cx="405.9" cy="124.9" r="2.6" fill="#adadad" opacity="0.7"/>
<circle cx="400.2" cy="131.0" r="3.2" fill="#adadad" opacity="0.7"/>
<circle cx="398.1" cy="124.0" r="2.7" fill="#adadad" opacity="0.7"/>
<circle cx="399.8" cy="127.4" r="3.2" fill="#adadad" opacity="0.7"/>
<circle cx="404.0" cy="124.1" r="3.8" fill="#adadad" opacity="0.7"/>
<circle cx="402.7" cy="132.8" r="3.7" fill="#adadad" opacity="0.7"/>
<circle cx="408.0" cy="128.1" r="3.3" fill="#adadad" opacity="0.7"/>
<path d="M392.9,131.0 A10.1,10.1 0 0 0 405.5,137.6" fill="none" stroke="#c8c8c8" stroke-width="1.1" opacity="0.7"/>
<circle cx="417" cy="134" r="13.4" fill="url(#blob)"/>
<circle cx="415.0" cy="124.9" r="4.8" fill="#adadad" opacity="0.7"/>
<circle cx="417.8" cy="139.0" r="4.3" fill="#adadad" opacity="0.7"/>
<circle cx="415.6" cy="141.2" r="3.5" fill="#adadad" opacity="0.7"/>
<circle cx="414.7" cy="127.9" r="3.5" fill="#adadad" opacity="0.7"/>
<circle cx="423.7" cy="140.3" r="5.1" fill="#adadad" opacity="0.7"/>
<circle cx="421.7" cy="129.7" r="5.3" fill="#adadad" opacity="0.7"/>
<circle cx="421.0" cy="141.2" r="5.3" fill="#adadad" opacity="0.7"/>
<circle cx="417.8" cy="137.0" r="3.6" fill="#adadad" opacity="0.7"/>
<circle cx="424.5" cy="138.3" r="4.6" fill="#adadad" opacity="0.7"/>
<path d="M404.2,138.0 A13.4,13.4 0 0 0 421.0,146.8" fill="none" stroke="#c8c8c8" stroke-width="1.1" opacity="0.7"/>
<circle cx="426" cy="114" r="4.5" fill="url(#blob)"/>
<circle cx="424.6" cy="114.2" r="1.6" fill="#adadad" opacity="0.7"/>
<circle cx="427.0" cy="115.1" r="1.5" fill="#adadad" opacity="0.7"/>
<circle cx="424.2" cy="111.7" r="1.7" fill="#adadad" opacity="0.7"/>
<circle cx="427.3" cy="115.5" r="1.2" fill="#adadad" opacity="0.7"/>
<path d="M421.7,115.3 A4.5,4.5 0 0 0 427.3,118.3" fill="none" stroke="#c8c8c8" stroke-width="1.1" opacity="0.7"/>
<circle cx="431.5" cy="137" r="6.7" fill="url(#blob)"/>
<circle cx="429.8" cy="137.1" r="2.6" fill="#adadad" opacity="0.7"/>
<circle cx="429.7" cy="133.1" r="2.2" fill="#adadad" opacity="0.7"/>
<circle cx="435.2" cy="134.7" r="2.5" fill="#adadad" opacity="0.7"/>
<circle cx="432.4" cy="134.6" r="2.0" fill="#adadad" opacity="0.7"/>
<path d="M425.1,139.0 A6.7,6.7 0 0 0 433.5,143.4" fill="none" stroke="#c8c8c8" stroke-width="1.1" opacity="0.7"/>
<circle cx="442" cy="138" r="9.0" fill="url(#blob)"/>
<circle cx="447.3" cy="139.9" r="2.9" fill="#adadad" opacity="0.7"/>
<circle cx="445.8" cy="137.7" r="2.8" fill="#adadad" opacity="0.7"/>
<circle cx="446.2" cy="133.4" r="3.3" fill="#adadad" opacity="0.7"/>
<circle cx="446.5" cy="133.9" r="2.6" fill="#adadad" opacity="0.7"/>
<circle cx="440.1" cy="136.3" r="3.1" fill="#adadad" opacity="0.7"/>
<circle cx="446.5" cy="136.6" r="2.4" fill="#adadad" opacity="0.7"/>
<path d="M433.5,140.7 A9.0,9.0 0 0 0 444.7,146.5" fill="none" stroke="#c8c8c8" stroke-width="1.1" opacity="0.7"/>
<circle cx="453" cy="133" r="10.1" fill="url(#blob)"/>
<circle cx="450.4" cy="131.8" r="3.2" fill="#adadad" opacity="0.7"/>
<circle cx="457.3" cy="135.4" r="3.8" fill="#adadad" opacity="0.7"/>
<circle cx="452.6" cy="126.4" r="3.2" fill="#adadad" opacity="0.7"/>
<circle cx="450.4" cy="134.0" r="3.7" fill="#adadad" opacity="0.7"/>
<circle cx="448.6" cy="130.9" r="2.7" fill="#adadad" opacity="0.7"/>
<circle cx="450.3" cy="133.7" r="2.7" fill="#adadad" opacity="0.7"/>
<circle cx="457.3" cy="135.4" r="2.7" fill="#adadad" opacity="0.7"/>
<path d="M443.4,136.0 A10.1,10.1 0 0 0 456.0,142.6" fill="none" stroke="#c8c8c8" stroke-width="1.1" opacity="0.7"/>
<circle cx="461" cy="132" r="12.3" fill="url(#blob)"/>
<circle cx="464.3" cy="125.8" r="4.7" fill="#adadad" opacity="0.7"/>
<circle cx="456.9" cy="130.6" r="3.6" fill="#adadad" opacity="0.7"/>
<circle cx="464.7" cy="126.2" r="4.3" fill="#adadad" opacity="0.7"/>
<circle cx="458.8" cy="129.6" r="3.4" fill="#adadad" opacity="0.7"/>
<circle cx="453.7" cy="135.4" r="4.8" fill="#adadad" opacity="0.7"/>
<circle cx="456.8" cy="129.3" r="3.2" fill="#adadad" opacity="0.7"/>
<circle cx="455.4" cy="129.8" r="4.8" fill="#adadad" opacity="0.7"/>
<circle cx="462.3" cy="136.5" r="3.1" fill="#adadad" opacity="0.7"/>
<path d="M449.3,135.7 A12.3,12.3 0 0 0 464.7,143.7" fill="none" stroke="#c8c8c8" stroke-width="1.1" opacity="0.7"/>
<circle cx="473" cy="135" r="6.7" fill="url(#blob)"/>
<circle cx="477.3" cy="135.8" r="2.6" fill="#adadad" opacity="0.7"/>
<circle cx="473.9" cy="136.3" r="2.3" fill="#adadad" opacity="0.7"/>
<circle cx="473.1" cy="138.8" r="2.6" fill="#adadad" opacity="0.7"/>
<circle cx="472.9" cy="132.2" r="2.3" fill="#adadad" opacity="0.7"/>
<path d="M466.6,137.0 A6.7,6.7 0 0 0 475.0,141.4" fill="none" stroke="#c8c8c8" stroke-width="1.1" opacity="0.7"/>
<circle cx="478.5" cy="143" r="4.5" fill="url(#blob)"/>
<circle cx="477.8" cy="145.7" r="1.3" fill="#adadad" opacity="0.7"/>
<circle cx="480.3" cy="141.0" r="1.7" fill="#adadad" opacity="0.7"/>
<circle cx="476.7" cy="145.6" r="1.5" fill="#adadad" opacity="0.7"/>
<circle cx="478.4" cy="145.6" r="1.3" fill="#adadad" opacity="0.7"/>
<path d="M474.2,144.3 A4.5,4.5 0 0 0 479.8,147.3" fill="none" stroke="#c8c8c8" stroke-width="1.1" opacity="0.7"/>
<circle cx="495" cy="135" r="13.4" fill="url(#blob)"/>
<circle cx="497.7" cy="137.3" r="4.6" fill="#adadad" opacity="0.7"/>
<circle cx="495.2" cy="139.1" r="4.9" fill="#adadad" opacity="0.7"/>
<circle cx="500.3" cy="141.5" r="3.9" fill="#adadad" opacity="0.7"/>
<circle cx="489.0" cy="142.0" r="5.0" fill="#adadad" opacity="0.7"/>
<circle cx="499.8" cy="126.9" r="4.6" fill="#adadad" opacity="0.7"/>
<circle cx="502.1" cy="131.9" r="4.5" fill="#adadad" opacity="0.7"/>
<circle cx="492.2" cy="140.6" r="4.5" fill="#adadad" opacity="0.7"/>
<circle cx="495.1" cy="142.8" r="5.1" fill="#adadad" opacity="0.7"/>
<circle cx="494.0" cy="129.9" r="3.4" fill="#adadad" opacity="0.7"/>
<path d="M482.2,139.0 A13.4,13.4 0 0 0 499.0,147.8" fill="none" stroke="#c8c8c8" stroke-width="1.1" opacity="0.7"/>
<circle cx="503" cy="130" r="11.2" fill="url(#blob)"/>
<circle cx="499.3" cy="134.1" r="4.2" fill="#adadad" opacity="0.7"/>
<circle cx="497.3" cy="128.3" r="3.8" fill="#adadad" opacity="0.7"/>
<circle cx="496.7" cy="127.8" r="3.7" fill="#adadad" opacity="0.7"/>
<circle cx="498.8" cy="128.6" r="3.0" fill="#adadad" opacity="0.7"/>
<circle cx="496.0" cy="132.8" r="4.4" fill="#adadad" opacity="0.7"/>
<circle cx="501.3" cy="136.0" r="3.7" fill="#adadad" opacity="0.7"/>
<circle cx="499.1" cy="131.2" r="4.1" fill="#adadad" opacity="0.7"/>
<path d="M492.4,133.4 A11.2,11.2 0 0 0 506.4,140.6" fill="none" stroke="#c8c8c8" stroke-width="1.1" opacity="0.7"/>
<circle cx="513" cy="137" r="9.0" fill="url(#blob)"/>
<circle cx="516.0" cy="138.8" r="2.6" fill="#adadad" opacity="0.7"/>
<circle cx="514.0" cy="140.2" r="2.3" fill="#adadad" opacity="0.7"/>
<circle cx="509.8" cy="136.5" r="3.1" fill="#adadad" opacity="0.7"/>
<circle cx="508.8" cy="134.0" r="2.9" fill="#adadad" opacity="0.7"/>
<circle cx="510.1" cy="134.5" r="2.9" fill="#adadad" opacity="0.7"/>
<circle cx="511.7" cy="133.8" r="3.2" fill="#adadad" opacity="0.7"/>
<path d="M504.5,139.7 A9.0,9.0 0 0 0 515.7,145.5" fill="none" stroke="#c8c8c8" stroke-width="1.1" opacity="0.7"/>
<circle cx="531" cy="139" r="12.3" fill="url(#blob)"/>
<circle cx="523.6" cy="134.6" r="4.2" fill="#adadad" opacity="0.7"/>
<circle cx="523.6" cy="136.7" r="3.6" fill="#adadad" opacity="0.7"/>
<circle cx="526.8" cy="143.4" r="4.4" fill="#adadad" opacity="0.7"/>
<circle cx="530.1" cy="134.6" r="4.8" fill="#adadad" opacity="0.7"/>
<circle cx="537.4" cy="138.3" r="4.9" fill="#adadad" opacity="0.7"/>
<circle cx="526.8" cy="135.0" r="3.2" fill="#adadad" opacity="0.7"/>
<circle cx="537.9" cy="139.8" r="4.4" fill="#adadad" opacity="0.7"/>
<circle cx="525.2" cy="133.8" r="3.9" fill="#adadad" opacity="0.7"/>
<path d="M519.3,142.7 A12.3,12.3 0 0 0 534.7,150.7" fill="none" stroke="#c8c8c8" stroke-width="1.1" opacity="0.7"/>
<circle cx="540" cy="126" r="6.7" fill="url(#blob)"/>
<circle cx="539.8" cy="122.2" r="2.3" fill="#adadad" opacity="0.7"/>
<circle cx="536.2" cy="124.8" r="2.2" fill="#adadad" opacity="0.7"/>
<circle cx="543.4" cy="128.2" r="2.4" fill="#adadad" opacity="0.7"/>
<circle cx="535.8" cy="128.1" r="2.2" fill="#adadad" opacity="0.7"/>
<path d="M533.6,128.0 A6.7,6.7 0 0 0 542.0,132.4" fill="none" stroke="#c8c8c8" stroke-width="1.1" opacity="0.7"/>
<circle cx="576" cy="132" r="9.0" fill="url(#blob)"/>
<circle cx="578.4" cy="136.1" r="2.7" fill="#adadad" opacity="0.7"/>
<circle cx="579.0" cy="137.2" r="2.5" fill="#adadad" opacity="0.7"/>
<circle cx="575.3" cy="128.9" r="2.9" fill="#adadad" opacity="0.7"/>
<circle cx="578.7" cy="131.9" r="3.4" fill="#adadad" opacity="0.7"/>
<circle cx="582.3" cy="132.2" r="3.5" fill="#adadad" opacity="0.7"/>
<circle cx="571.1" cy="133.7" r="2.9" fill="#adadad" opacity="0.7"/>
<path d="M567.5,134.7 A9.0,9.0 0 0 0 578.7,140.5" fill="none" stroke="#c8c8c8" stroke-width="1.1" opacity="0.7"/>
<circle cx="589" cy="136" r="13.4" fill="url(#blob)"/>
<circle cx="592.2" cy="141.3" r="4.2" fill="#adadad" opacity="0.7"/>
<circle cx="591.9" cy="132.9" r="4.4" fill="#adadad" opacity="0.7"/>
<circle cx="581.8" cy="137.3" r="5.0" fill="#adadad" opacity="0.7"/>
<circle cx="584.2" cy="132.5" r="5.3" fill="#adadad" opacity="0.7"/>
<circle cx="584.5" cy="132.8" r="4.5" fill="#adadad" opacity="0.7"/>
<circle cx="591.4" cy="133.4" r="4.7" fill="#adadad" opacity="0.7"/>
<circle cx="583.3" cy="136.4" r="3.7" fill="#adadad" opacity="0.7"/>
<circle cx="589.8" cy="142.6" r="4.2" fill="#adadad" opacity="0.7"/>
<circle cx="584.5" cy="132.7" r="4.6" fill="#adadad" opacity="0.7"/>
<path d="M576.2,140.0 A13.4,13.4 0 0 0 593.0,148.8" fill="none" stroke="#c8c8c8" stroke-width="1.1" opacity="0.7"/>
<circle cx="614.5" cy="127" r="13.4" fill="url(#blob)"/>
<circle cx="606.0" cy="128.4" r="5.0" fill="#adadad" opacity="0.7"/>
<circle cx="615.3" cy="136.4" r="4.5" fill="#adadad" opacity="0.7"/>
<circle cx="611.7" cy="131.7" r="4.8" fill="#adadad" opacity="0.7"/>
<circle cx="607.1" cy="130.1" r="3.9" fill="#adadad" opacity="0.7"/>
<circle cx="618.0" cy="122.7" r="5.1" fill="#adadad" opacity="0.7"/>
<circle cx="608.5" cy="129.4" r="4.5" fill="#adadad" opacity="0.7"/>
<circle cx="607.3" cy="126.0" r="4.5" fill="#adadad" opacity="0.7"/>
<circle cx="622.4" cy="124.4" r="3.5" fill="#adadad" opacity="0.7"/>
<circle cx="617.7" cy="126.8" r="3.5" fill="#adadad" opacity="0.7"/>
<path d="M601.7,131.0 A13.4,13.4 0 0 0 618.5,139.8" fill="none" stroke="#c8c8c8" stroke-width="1.1" opacity="0.7"/>
<circle cx="632" cy="136" r="10.1" fill="url(#blob)"/>
<circle cx="633.8" cy="132.2" r="2.6" fill="#adadad" opacity="0.7"/>
<circle cx="634.4" cy="140.7" r="3.8" fill="#adadad" opacity="0.7"/>
<circle cx="635.5" cy="136.4" r="2.5" fill="#adadad" opacity="0.7"/>
<circle cx="636.2" cy="137.5" r="3.3" fill="#adadad" opacity="0.7"/>
<circle cx="637.8" cy="134.8" r="3.8" fill="#adadad" opacity="0.7"/>
<circle cx="626.2" cy="132.3" r="3.5" fill="#adadad" opacity="0.7"/>
<circle cx="632.3" cy="140.7" r="3.2" fill="#adadad" opacity="0.7"/>
<path d="M622.4,139.0 A10.1,10.1 0 0 0 635.0,145.6" fill="none" stroke="#c8c8c8" stroke-width="1.1" opacity="0.7"/>
<circle cx="606" cy="137" r="5.6" fill="url(#blob)"/>
<circle cx="608.9" cy="139.4" r="1.8" fill="#adadad" opacity="0.7"/>
<circle cx="606.9" cy="139.8" r="2.1" fill="#adadad" opacity="0.7"/>
<circle cx="605.5" cy="140.1" r="1.5" fill="#adadad" opacity="0.7"/>
<circle cx="606.1" cy="139.0" r="1.8" fill="#adadad" opacity="0.7"/>
<path d="M600.7,138.7 A5.6,5.6 0 0 0 607.7,142.3" fill="none" stroke="#c8c8c8" stroke-width="1.1" opacity="0.7"/>
<circle cx="645" cy="134" r="6.7" fill="url(#blob)"/>
<circle cx="644.0" cy="131.6" r="2.4" fill="#adadad" opacity="0.7"/>
<circle cx="641.4" cy="131.8" r="2.7" fill="#adadad" opacity="0.7"/>
<circle cx="642.6" cy="138.1" r="2.1" fill="#adadad" opacity="0.7"/>
<circle cx="642.6" cy="133.9" r="1.8" fill="#adadad" opacity="0.7"/>
<path d="M638.6,136.0 A6.7,6.7 0 0 0 647.0,140.4" fill="none" stroke="#c8c8c8" stroke-width="1.1" opacity="0.7"/>
<circle cx="520" cy="143" r="5.6" fill="url(#blob)"/>
<circle cx="518.9" cy="141.6" r="1.4" fill="#adadad" opacity="0.7"/>
<circle cx="522.6" cy="144.5" r="1.6" fill="#adadad" opacity="0.7"/>
<circle cx="519.7" cy="146.5" r="1.8" fill="#adadad" opacity="0.7"/>
<circle cx="522.0" cy="145.7" r="2.2" fill="#adadad" opacity="0.7"/>
<path d="M514.7,144.7 A5.6,5.6 0 0 0 521.7,148.3" fill="none" stroke="#c8c8c8" stroke-width="1.1" opacity="0.7"/>
</g>
<filter id="noiseW" x="0" y="0" width="100%" height="100%"><feTurbulence type="fractalNoise" baseFrequency="0.3" numOctaves="2" seed="4"/><feColorMatrix type="matrix" values="0 0 0 0 1  0 0 0 0 1  0 0 0 0 1  2.0 0 0 0 -0.95"/><feGaussianBlur stdDeviation="0.6"/></filter>
<filter id="noiseK" x="0" y="0" width="100%" height="100%"><feTurbulence type="fractalNoise" baseFrequency="0.28" numOctaves="2" seed="9"/><feColorMatrix type="matrix" values="0 0 0 0 0  0 0 0 0 0  0 0 0 0 0  0 2.0 0 0 -1.0"/><feGaussianBlur stdDeviation="0.6"/></filter>
<rect x="388" y="88" width="258.8" height="62" filter="url(#noiseW)" opacity="0.4"/>
<rect x="388" y="88" width="258.8" height="62" filter="url(#noiseK)" opacity="0.25"/>
<rect x="388" y="84.5" width="258.8" height="12" fill="url(#haze)"/>
<rect x="534" y="184.9" width="100.3" height="2.9" fill="#fff"/>
<text x="583.8" y="179" font-size="13" fill="#fff" text-anchor="middle" font-weight="bold" >300 nm</text>
</g>
<text x="355.6" y="12.4" font-size="16" fill="#000" text-anchor="start" font-weight="bold" >b</text>
<clipPath id="clipc"><rect x="51.7" y="273.1" width="229.60000000000002" height="186.7"/></clipPath>
<g clip-path="url(#clipc)">
<path d="M52.20,310.29 L52.70,311.57 L53.20,312.80 L53.70,313.99 L54.20,315.13 L54.70,316.23 L55.20,317.30 L55.70,318.32 L56.20,319.31 L56.70,320.26 L57.20,321.18 L57.70,322.07 L58.20,322.92 L58.70,323.74 L59.20,324.53 L59.70,325.29 L60.20,326.03 L60.70,326.74 L61.20,327.43 L61.70,328.09 L62.20,328.73 L62.70,329.35 L63.20,329.95 L63.70,330.53 L64.20,331.10 L64.70,331.65 L65.20,332.17 L65.70,332.69 L66.20,333.18 L66.70,333.66 L67.20,334.13 L67.70,334.58 L68.20,335.01 L68.70,335.43 L69.20,335.84 L69.70,336.23 L70.20,336.61 L70.70,336.98 L71.20,337.34 L71.70,337.68 L72.20,338.02 L72.70,338.34 L73.20,338.66 L73.70,338.96 L74.20,339.25 L74.70,339.54 L75.20,339.82 L75.70,340.09 L76.20,340.35 L76.70,340.60 L77.20,340.85 L77.70,341.09 L78.20,341.33 L78.70,341.56 L79.20,341.79 L79.70,342.01 L80.20,342.23 L80.70,342.44 L81.20,342.66 L81.70,342.87 L82.20,343.07 L82.70,343.28 L83.20,343.48 L83.70,343.69 L84.20,343.89 L84.70,344.09 L85.20,344.30 L85.70,344.50 L86.20,344.71 L86.70,344.92 L87.20,345.12 L87.70,345.33 L88.20,345.54 L88.70,345.75 L89.20,345.96 L89.70,346.18 L90.20,346.39 L90.70,346.60 L91.20,346.81 L91.70,347.03 L92.20,347.24 L92.70,347.46 L93.20,347.68 L93.70,347.89 L94.20,348.11 L94.70,348.33 L95.20,348.55 L95.70,348.77 L96.20,348.99 L96.70,349.21 L97.20,349.43 L97.70,349.65 L98.20,349.88 L98.70,350.10 L99.20,350.32 L99.70,350.55 L100.20,350.77 L100.70,351.00 L101.20,351.22 L101.70,351.45 L102.20,351.67 L102.70,351.90 L103.20,352.13 L103.70,352.36 L104.20,352.58 L104.70,352.81 L105.20,353.04 L105.70,353.27 L106.20,353.50 L106.70,353.73 L107.20,353.96 L107.70,354.19 L108.20,354.42 L108.70,354.65 L109.20,354.88 L109.70,355.11 L110.20,355.34 L110.70,355.57 L111.20,355.80 L111.70,356.03 L112.20,356.26 L112.70,356.50 L113.20,356.73 L113.70,356.96 L114.20,357.19 L114.70,357.42 L115.20,357.66 L115.70,357.89 L116.20,358.12 L116.70,358.35 L117.20,358.59 L117.70,358.82 L118.20,359.05 L118.70,359.28 L119.20,359.51 L119.70,359.75 L120.20,359.98 L120.70,360.21 L121.20,360.44 L121.70,360.67 L122.20,360.90 L122.70,361.13 L123.20,361.37 L123.70,361.60 L124.20,361.83 L124.70,362.06 L125.20,362.29 L125.70,362.52 L126.20,362.75 L126.70,362.98 L127.20,363.21 L127.70,363.44 L128.20,363.66 L128.70,363.89 L129.20,364.12 L129.70,364.35 L130.20,364.57 L130.70,364.80 L131.20,365.03 L131.70,365.25 L132.20,365.48 L132.70,365.71 L133.20,365.93 L133.70,366.16 L134.20,366.38 L134.70,366.61 L135.20,366.83 L135.70,367.05 L136.20,367.28 L136.70,367.50 L137.20,367.72 L137.70,367.94 L138.20,368.17 L138.70,368.39 L139.20,368.61 L139.70,368.83 L140.20,369.05 L140.70,369.27 L141.20,369.49 L141.70,369.71 L142.20,369.93 L142.70,370.15 L143.20,370.36 L143.70,370.58 L144.20,370.80 L144.70,371.02 L145.20,371.23 L145.70,371.45 L146.20,371.66 L146.70,371.88 L147.20,372.09 L147.70,372.31 L148.20,372.52 L148.70,372.74 L149.20,372.95 L149.70,373.16 L150.20,373.38 L150.70,373.59 L151.20,373.80 L151.70,374.01 L152.20,374.22 L152.70,374.43 L153.20,374.64 L153.70,374.85 L154.20,375.06 L154.70,375.27 L155.20,375.48 L155.70,375.69 L156.20,375.90 L156.70,376.10 L157.20,376.31 L157.70,376.52 L158.20,376.72 L158.70,376.93 L159.20,377.13 L159.70,377.34 L160.20,377.54 L160.70,377.75 L161.20,377.95 L161.70,378.15 L162.20,378.35 L162.70,378.56 L163.20,378.76 L163.70,378.96 L164.20,379.16 L164.70,379.36 L165.20,379.56 L165.70,379.76 L166.20,379.96 L166.70,380.16 L167.20,380.35 L167.70,380.55 L168.20,380.75 L168.70,380.94 L169.20,381.14 L169.70,381.34 L170.20,381.53 L170.70,381.72 L171.20,381.92 L171.70,382.11 L172.20,382.30 L172.70,382.50 L173.20,382.69 L173.70,382.88 L174.20,383.07 L174.70,383.26 L175.20,383.45 L175.70,383.64 L176.20,383.83 L176.70,384.02 L177.20,384.21 L177.70,384.39 L178.20,384.58 L178.70,384.77 L179.20,384.95 L179.70,385.14 L180.20,385.32 L180.70,385.51 L181.20,385.69 L181.70,385.88 L182.20,386.06 L182.70,386.24 L183.20,386.42 L183.70,386.60 L184.20,386.78 L184.70,386.96 L185.20,387.14 L185.70,387.32 L186.20,387.50 L186.70,387.68 L187.20,387.86 L187.70,388.03 L188.20,388.21 L188.70,388.39 L189.20,388.56 L189.70,388.74 L190.20,388.91 L190.70,389.08 L191.20,389.26 L191.70,389.43 L192.20,389.60 L192.70,389.77 L193.20,389.94 L193.70,390.11 L194.20,390.28 L194.70,390.45 L195.20,390.62 L195.70,390.79 L196.20,390.95 L196.70,391.12 L197.20,391.29 L197.70,391.45 L198.20,391.62 L198.70,391.78 L199.20,391.94 L199.70,392.11 L200.20,392.27 L200.70,392.43 L201.20,392.59 L201.70,392.75 L202.20,392.91 L202.70,393.07 L203.20,393.23 L203.70,393.39 L204.20,393.55 L204.70,393.70 L205.20,393.86 L205.70,394.02 L206.20,394.17 L206.70,394.33 L207.20,394.48 L207.70,394.63 L208.20,394.79 L208.70,394.94 L209.20,395.09 L209.70,395.24 L210.20,395.39 L210.70,395.54 L211.20,395.69 L211.70,395.84 L212.20,395.98 L212.70,396.13 L213.20,396.28 L213.70,396.42 L214.20,396.57 L214.70,396.71 L215.20,396.85 L215.70,397.00 L216.20,397.14 L216.70,397.28 L217.20,397.42 L217.70,397.56 L218.20,397.70 L218.70,397.84 L219.20,397.98 L219.70,398.12 L220.20,398.25 L220.70,398.39 L221.20,398.53 L221.70,398.66 L222.20,398.79 L222.70,398.93 L223.20,399.06 L223.70,399.19 L224.20,399.32 L224.70,399.45 L225.20,399.58 L225.70,399.71 L226.20,399.84 L226.70,399.97 L227.20,400.10 L227.70,400.22 L228.20,400.35 L228.70,400.48 L229.20,400.60 L229.70,400.72 L230.20,400.85 L230.70,400.97 L231.20,401.09 L231.70,401.21 L232.20,401.33 L232.70,401.45 L233.20,401.57 L233.70,401.69 L234.20,401.80 L234.70,401.92 L235.20,402.04 L235.70,402.15 L236.20,402.26 L236.70,402.38 L237.20,402.49 L237.70,402.60 L238.20,402.71 L238.70,402.82 L239.20,402.93 L239.70,403.04 L240.20,403.15 L240.70,403.26 L241.20,403.37 L241.70,403.47 L242.20,403.58 L242.70,403.68 L243.20,403.78 L243.70,403.89 L244.20,403.99 L244.70,404.09 L245.20,404.19 L245.70,404.29 L246.20,404.39 L246.70,404.49 L247.20,404.59 L247.70,404.68 L248.20,404.78 L248.70,404.87 L249.20,404.97 L249.70,405.06 L250.20,405.15 L250.70,405.25 L251.20,405.34 L251.70,405.43 L252.20,405.52 L252.70,405.60 L253.20,405.69 L253.70,405.78 L254.20,405.87 L254.70,405.95 L255.20,406.04 L255.70,406.12 L256.20,406.20 L256.70,406.28 L257.20,406.37 L257.70,406.45 L258.20,406.53 L258.70,406.61 L259.20,406.68 L259.70,406.76 L260.20,406.84 L260.70,406.91 L261.20,406.99 L261.70,407.06 L262.20,407.13 L262.70,407.21 L263.20,407.28 L263.70,407.35 L264.20,407.42 L264.70,407.49 L265.20,407.55 L265.70,407.62 L266.20,407.69 L266.70,407.75 L267.20,407.82 L267.70,407.88 L268.20,407.94 L268.70,408.01 L269.20,408.07 L269.70,408.13 L270.20,408.19 L270.70,408.24 L271.20,408.30 L271.70,408.36 L272.20,408.41 L272.70,408.47 L273.20,408.52 L273.70,408.58 L274.20,408.63 L274.70,408.68 L275.20,408.73 L275.70,408.78 L276.20,408.83 L276.70,408.88 L277.20,408.92 L277.70,408.97 L278.20,409.01 L278.70,409.06 L279.20,409.10 L279.70,409.14 L280.20,409.19 L280.70,409.23 L281.20,409.27 L281.30,409.27" fill="none" stroke="#000" stroke-width="4.0" stroke-linejoin="round" stroke-linecap="butt" />
<path d="M52.00,458.25 L52.50,458.24 L53.00,458.22 L53.50,458.20 L54.00,458.19 L54.50,458.17 L55.00,458.15 L55.50,458.14 L56.00,458.13 L56.50,458.11 L57.00,458.10 L57.50,458.09 L58.00,458.07 L58.50,458.06 L59.00,458.05 L59.50,458.04 L60.00,458.03 L60.50,458.02 L61.00,458.01 L61.50,458.00 L62.00,457.99 L62.50,457.99 L63.00,457.98 L63.50,457.97 L64.00,457.96 L64.50,457.96 L65.00,457.95 L65.50,457.95 L66.00,457.94 L66.50,457.94 L67.00,457.93 L67.50,457.93 L68.00,457.93 L68.50,457.92 L69.00,457.92 L69.50,457.92 L70.00,457.92 L70.50,457.92 L71.00,457.92 L71.50,457.92 L72.00,457.92 L72.50,457.92 L73.00,457.92 L73.50,457.92 L74.00,457.92 L74.50,457.92 L75.00,457.92 L75.50,457.92 L76.00,457.93 L76.50,457.93 L77.00,457.93 L77.50,457.94 L78.00,457.94 L78.50,457.95 L79.00,457.95 L79.50,457.96 L80.00,457.96 L80.50,457.97 L81.00,457.97 L81.50,457.98 L82.00,457.99 L82.50,457.99 L83.00,458.00 L83.50,458.01 L84.00,458.02 L84.50,458.02 L85.00,458.03 L85.50,458.04 L86.00,458.05 L86.50,458.06 L87.00,458.07 L87.50,458.08 L88.00,458.09 L88.50,458.10 L89.00,458.11 L89.50,458.12 L90.00,458.13 L90.50,458.14 L91.00,458.15 L91.50,458.16 L92.00,458.17 L92.50,458.19 L93.00,458.20 L93.50,458.21 L94.00,458.22 L94.50,458.23 L95.00,458.25 L95.50,458.26 L96.00,458.27 L96.50,458.29 L97.00,458.30 L97.50,458.31 L98.00,458.33 L98.50,458.34 L99.00,458.36 L99.50,458.37 L100.00,458.39 L100.50,458.40 L101.00,458.41 L101.50,458.43 L102.00,458.44 L102.50,458.46 L103.00,458.47 L103.50,458.49 L104.00,458.51 L104.50,458.52 L105.00,458.54 L105.50,458.55 L106.00,458.57 L106.50,458.58 L107.00,458.60 L107.50,458.62 L108.00,458.63 L108.50,458.65 L109.00,458.67 L109.50,458.68 L110.00,458.70 L110.50,458.71 L111.00,458.73 L111.50,458.75 L112.00,458.76 L112.50,458.78 L113.00,458.80 L113.50,458.82 L114.00,458.83 L114.50,458.85 L115.00,458.87 L115.50,458.88 L116.00,458.90 L116.50,458.92 L117.00,458.93 L117.50,458.95 L118.00,458.97 L118.50,458.98 L119.00,459.00 L119.50,459.02 L120.00,459.04 L120.50,459.05 L121.00,459.07 L121.50,459.09 L122.00,459.10 L122.50,459.12 L123.00,459.14 L123.50,459.15 L124.00,459.17 L124.50,459.19 L125.00,459.20 L125.50,459.22 L126.00,459.23 L126.50,459.25 L127.00,459.27 L127.50,459.28 L128.00,459.30 L128.50,459.32 L129.00,459.33 L129.50,459.35 L130.00,459.36 L130.50,459.38 L131.00,459.39 L131.50,459.41 L132.00,459.42 L132.50,459.44 L133.00,459.45 L133.50,459.47 L134.00,459.48 L134.50,459.50 L135.00,459.51 L135.50,459.53 L136.00,459.54 L136.50,459.55 L137.00,459.57 L137.50,459.58 L138.00,459.60 L138.50,459.61 L139.00,459.62 L139.50,459.64 L140.00,459.65 L140.50,459.66 L141.00,459.67 L141.50,459.69 L142.00,459.70 L142.50,459.71 L143.00,459.72 L143.50,459.73 L144.00,459.74 L144.50,459.75 L145.00,459.76 L145.50,459.77 L146.00,459.79 L146.50,459.80 L147.00,459.80 L147.50,459.81 L148.00,459.82 L148.50,459.83 L149.00,459.84 L149.50,459.85 L150.00,459.86 L150.50,459.87 L151.00,459.87 L151.50,459.88 L152.00,459.89 L152.50,459.89 L153.00,459.90 L153.50,459.91 L154.00,459.91 L154.50,459.92 L155.00,459.92 L155.50,459.93 L156.00,459.93 L156.50,459.94 L157.00,459.94 L157.50,459.95 L158.00,459.95 L158.50,459.95 L159.00,459.96 L159.50,459.96 L160.00,459.96 L160.50,459.96 L161.00,459.96 L161.50,459.96 L162.00,459.96 L162.50,459.96 L163.00,459.96 L163.50,459.96 L164.00,459.96 L164.50,459.96 L165.00,459.96 L165.50,459.96 L166.00,459.95 L166.50,459.95 L167.00,459.95 L167.50,459.94 L168.00,459.94 L168.50,459.94 L169.00,459.93 L169.50,459.93 L170.00,459.92 L170.50,459.92 L171.00,459.91 L171.50,459.90 L172.00,459.90 L172.50,459.89 L173.00,459.88 L173.50,459.87 L174.00,459.86 L174.50,459.85 L175.00,459.85 L175.50,459.84 L176.00,459.83 L176.50,459.82 L177.00,459.81 L177.50,459.80 L178.00,459.78 L178.50,459.77 L179.00,459.76 L179.50,459.75 L180.00,459.74 L180.50,459.72 L181.00,459.71 L181.50,459.70 L182.00,459.68 L182.50,459.67 L183.00,459.66 L183.50,459.64 L184.00,459.63 L184.50,459.61 L185.00,459.60 L185.50,459.58 L186.00,459.57 L186.50,459.55 L187.00,459.53 L187.50,459.52 L188.00,459.50 L188.50,459.48 L189.00,459.46 L189.50,459.45 L190.00,459.43 L190.50,459.41 L191.00,459.39 L191.50,459.37 L192.00,459.35 L192.50,459.33 L193.00,459.31 L193.50,459.29 L194.00,459.27 L194.50,459.25 L195.00,459.23 L195.50,459.21 L196.00,459.19 L196.50,459.17 L197.00,459.15 L197.50,459.13 L198.00,459.11 L198.50,459.08 L199.00,459.06 L199.50,459.04 L200.00,459.02 L200.50,458.99 L201.00,458.97 L201.50,458.95 L202.00,458.92 L202.50,458.90 L203.00,458.88 L203.50,458.85 L204.00,458.83 L204.50,458.80 L205.00,458.78 L205.50,458.76 L206.00,458.73 L206.50,458.71 L207.00,458.68 L207.50,458.66 L208.00,458.63 L208.50,458.60 L209.00,458.58 L209.50,458.55 L210.00,458.53 L210.50,458.50 L211.00,458.47 L211.50,458.45 L212.00,458.42 L212.50,458.39 L213.00,458.37 L213.50,458.34 L214.00,458.31 L214.50,458.29 L215.00,458.26 L215.50,458.23 L216.00,458.20 L216.50,458.17 L217.00,458.15 L217.50,458.12 L218.00,458.09 L218.50,458.06 L219.00,458.03 L219.50,458.01 L220.00,457.98 L220.50,457.95 L221.00,457.92 L221.50,457.89 L222.00,457.86 L222.50,457.83 L223.00,457.80 L223.50,457.78 L224.00,457.75 L224.50,457.72 L225.00,457.69 L225.50,457.66 L226.00,457.63 L226.50,457.60 L227.00,457.57 L227.50,457.54 L228.00,457.51 L228.50,457.48 L229.00,457.45 L229.50,457.42 L230.00,457.39 L230.50,457.36 L231.00,457.33 L231.50,457.30 L232.00,457.27 L232.50,457.24 L233.00,457.21 L233.50,457.18 L234.00,457.15 L234.50,457.12 L235.00,457.09 L235.50,457.06 L236.00,457.03 L236.50,457.00 L237.00,456.97 L237.50,456.95 L238.00,456.92 L238.50,456.89 L239.00,456.86 L239.50,456.83 L240.00,456.80 L240.50,456.77 L241.00,456.74 L241.50,456.71 L242.00,456.68 L242.50,456.65 L243.00,456.62 L243.50,456.59 L244.00,456.56 L244.50,456.53 L245.00,456.50 L245.50,456.47 L246.00,456.44 L246.50,456.41 L247.00,456.38 L247.50,456.35 L248.00,456.32 L248.50,456.29 L249.00,456.26 L249.50,456.24 L250.00,456.21 L250.50,456.18 L251.00,456.15 L251.50,456.12 L252.00,456.09 L252.50,456.06 L253.00,456.04 L253.50,456.01 L254.00,455.98 L254.50,455.95 L255.00,455.92 L255.50,455.89 L256.00,455.87 L256.50,455.84 L257.00,455.81 L257.50,455.78 L258.00,455.76 L258.50,455.73 L259.00,455.70 L259.50,455.68 L260.00,455.65 L260.50,455.62 L261.00,455.60 L261.50,455.57 L262.00,455.54 L262.50,455.52 L263.00,455.49 L263.50,455.47 L264.00,455.44 L264.50,455.41 L265.00,455.39 L265.50,455.36 L266.00,455.34 L266.50,455.31 L267.00,455.29 L267.50,455.26 L268.00,455.24 L268.50,455.22 L269.00,455.19 L269.50,455.17 L270.00,455.15 L270.50,455.12 L271.00,455.10 L271.50,455.08 L272.00,455.05 L272.50,455.03 L273.00,455.01 L273.50,454.99 L274.00,454.96 L274.50,454.94 L275.00,454.92 L275.50,454.90 L276.00,454.88 L276.50,454.86 L277.00,454.84 L277.50,454.82 L278.00,454.80 L278.50,454.78 L279.00,454.76 L279.50,454.74 L280.00,454.72 L280.50,454.70 L281.00,454.68 L281.30,454.67" fill="none" stroke="#ff0000" stroke-width="4.4" stroke-linejoin="round" stroke-linecap="butt" />
</g>
<line x1="50.6" y1="273.1" x2="281.3" y2="273.1" stroke="#000" stroke-width="2.2"/>
<line x1="50.6" y1="459.8" x2="281.3" y2="459.8" stroke="#000" stroke-width="2.2"/>
<line x1="51.7" y1="272.0" x2="51.7" y2="460.90000000000003" stroke="#000" stroke-width="2.2"/>
<line x1="281.3" y1="272.0" x2="281.3" y2="460.90000000000003" stroke="#ff0000" stroke-width="2.2"/>
<line x1="51.7" y1="459.8" x2="51.7" y2="463.40000000000003" stroke="#000" stroke-width="1.9"/>
<line x1="89.96666666666667" y1="459.8" x2="89.96666666666667" y2="461.90000000000003" stroke="#000" stroke-width="1.3"/>
<line x1="128.23333333333335" y1="459.8" x2="128.23333333333335" y2="463.40000000000003" stroke="#000" stroke-width="1.9"/>
<line x1="166.5" y1="459.8" x2="166.5" y2="461.90000000000003" stroke="#000" stroke-width="1.3"/>
<line x1="204.76666666666665" y1="459.8" x2="204.76666666666665" y2="463.40000000000003" stroke="#000" stroke-width="1.9"/>
<line x1="243.03333333333336" y1="459.8" x2="243.03333333333336" y2="461.90000000000003" stroke="#000" stroke-width="1.3"/>
<line x1="281.3" y1="459.8" x2="281.3" y2="463.40000000000003" stroke="#000" stroke-width="1.9"/>
<line x1="48.1" y1="459.8" x2="51.7" y2="459.8" stroke="#000" stroke-width="1.9"/>
<line x1="49.6" y1="441.13000000000005" x2="51.7" y2="441.13000000000005" stroke="#000" stroke-width="1.3"/>
<line x1="48.1" y1="422.46" x2="51.7" y2="422.46" stroke="#000" stroke-width="1.9"/>
<line x1="49.6" y1="403.7900000000001" x2="51.7" y2="403.7900000000001" stroke="#000" stroke-width="1.3"/>
<line x1="48.1" y1="385.11999999999995" x2="51.7" y2="385.11999999999995" stroke="#000" stroke-width="1.9"/>
<line x1="49.6" y1="366.45000000000005" x2="51.7" y2="366.45000000000005" stroke="#000" stroke-width="1.3"/>
<line x1="48.1" y1="347.7800000000001" x2="51.7" y2="347.7800000000001" stroke="#000" stroke-width="1.9"/>
<line x1="49.6" y1="329.11" x2="51.7" y2="329.11" stroke="#000" stroke-width="1.3"/>
<line x1="48.1" y1="310.44000000000005" x2="51.7" y2="310.44000000000005" stroke="#000" stroke-width="1.9"/>
<line x1="49.6" y1="291.77" x2="51.7" y2="291.77" stroke="#000" stroke-width="1.3"/>
<line x1="48.1" y1="273.1" x2="51.7" y2="273.1" stroke="#000" stroke-width="1.9"/>
<line x1="281.3" y1="459.8" x2="284.90000000000003" y2="459.8" stroke="#ff0000" stroke-width="1.9"/>
<line x1="281.3" y1="441.13" x2="283.40000000000003" y2="441.13" stroke="#ff0000" stroke-width="1.3"/>
<line x1="281.3" y1="422.46000000000004" x2="284.90000000000003" y2="422.46000000000004" stroke="#ff0000" stroke-width="1.9"/>
<line x1="281.3" y1="403.79" x2="283.40000000000003" y2="403.79" stroke="#ff0000" stroke-width="1.3"/>
<line x1="281.3" y1="385.12" x2="284.90000000000003" y2="385.12" stroke="#ff0000" stroke-width="1.9"/>
<line x1="281.3" y1="366.45000000000005" x2="283.40000000000003" y2="366.45000000000005" stroke="#ff0000" stroke-width="1.3"/>
<line x1="281.3" y1="347.78" x2="284.90000000000003" y2="347.78" stroke="#ff0000" stroke-width="1.9"/>
<line x1="281.3" y1="329.11" x2="283.40000000000003" y2="329.11" stroke="#ff0000" stroke-width="1.3"/>
<line x1="281.3" y1="310.44000000000005" x2="284.90000000000003" y2="310.44000000000005" stroke="#ff0000" stroke-width="1.9"/>
<line x1="281.3" y1="291.77" x2="283.40000000000003" y2="291.77" stroke="#ff0000" stroke-width="1.3"/>
<line x1="281.3" y1="273.1" x2="284.90000000000003" y2="273.1" stroke="#ff0000" stroke-width="1.9"/>
<text x="51.7" y="477.8" font-size="11.6" fill="#000" text-anchor="middle" font-weight="normal" >400</text>
<text x="128.2" y="477.8" font-size="11.6" fill="#000" text-anchor="middle" font-weight="normal" >600</text>
<text x="204.8" y="477.8" font-size="11.6" fill="#000" text-anchor="middle" font-weight="normal" >800</text>
<text x="281.3" y="477.8" font-size="11.6" fill="#000" text-anchor="middle" font-weight="normal" >1000</text>
<text x="42.8" y="463.7" font-size="11.6" fill="#000" text-anchor="end" font-weight="normal" >1.75</text>
<text x="42.8" y="426.4" font-size="11.6" fill="#000" text-anchor="end" font-weight="normal" >1.80</text>
<text x="42.8" y="389.0" font-size="11.6" fill="#000" text-anchor="end" font-weight="normal" >1.85</text>
<text x="42.8" y="351.7" font-size="11.6" fill="#000" text-anchor="end" font-weight="normal" >1.90</text>
<text x="42.8" y="314.3" font-size="11.6" fill="#000" text-anchor="end" font-weight="normal" >1.95</text>
<text x="42.8" y="277.0" font-size="11.6" fill="#000" text-anchor="end" font-weight="normal" >2.00</text>
<text x="290.5" y="463.7" font-size="11.6" fill="#ff0000" text-anchor="start" font-weight="normal" >0.0</text>
<text x="290.5" y="426.4" font-size="11.6" fill="#ff0000" text-anchor="start" font-weight="normal" >0.2</text>
<text x="290.5" y="389.0" font-size="11.6" fill="#ff0000" text-anchor="start" font-weight="normal" >0.4</text>
<text x="290.5" y="351.7" font-size="11.6" fill="#ff0000" text-anchor="start" font-weight="normal" >0.6</text>
<text x="290.5" y="314.3" font-size="11.6" fill="#ff0000" text-anchor="start" font-weight="normal" >0.8</text>
<text x="290.5" y="277.0" font-size="11.6" fill="#ff0000" text-anchor="start" font-weight="normal" >1.0</text>
<text x="9.5" y="366" font-size="11.65" fill="#000" text-anchor="middle" font-weight="normal" transform="rotate(-90 9.5 366)" >Refractive index, n</text>
<text x="324.1" y="365.9" font-size="11.65" fill="#ff0000" text-anchor="middle" font-weight="normal" transform="rotate(-90 324.1 365.9)" >Extinction coefficient, k</text>
<text x="166.7" y="495.6" font-size="11.65" fill="#000" text-anchor="middle" font-weight="normal" >Wavelength (nm)</text>
<line x1="135.5" y1="282.7" x2="163.9" y2="282.7" stroke="#000" stroke-width="2.6"/>
<line x1="135.5" y1="296.5" x2="163.9" y2="296.5" stroke="#ff0000" stroke-width="2.6"/>
<text x="167.5" y="286.3" font-size="11.8" fill="#000" text-anchor="start" font-weight="normal" >Refractive index</text>
<text x="167.5" y="300.2" font-size="11.8" fill="#ff0000" text-anchor="start" font-weight="normal" >Extinction coefficient</text>
<text x="-0.3" y="267.5" font-size="16" fill="#000" text-anchor="start" font-weight="bold" >c</text>
<g fill="none" stroke="#000" stroke-width="1.0"><circle cx="401.50" cy="288.50" r="1.5"/><circle cx="402.53" cy="289.98" r="1.5"/><circle cx="403.57" cy="291.36" r="1.5"/><circle cx="404.60" cy="292.62" r="1.5"/><circle cx="405.64" cy="293.76" r="1.5"/><circle cx="406.67" cy="294.98" r="1.5"/><circle cx="407.70" cy="296.11" r="1.5"/><circle cx="408.74" cy="296.81" r="1.5"/><circle cx="409.77" cy="296.88" r="1.5"/><circle cx="410.81" cy="296.76" r="1.5"/><circle cx="411.84" cy="296.54" r="1.5"/><circle cx="412.87" cy="295.57" r="1.5"/><circle cx="413.91" cy="293.66" r="1.5"/><circle cx="414.94" cy="291.81" r="1.5"/><circle cx="415.97" cy="289.71" r="1.5"/><circle cx="417.01" cy="287.22" r="1.5"/><circle cx="418.04" cy="283.75" r="1.5"/><circle cx="419.08" cy="281.52" r="1.5"/><circle cx="420.11" cy="280.13" r="1.5"/><circle cx="421.14" cy="279.30" r="1.5"/><circle cx="422.18" cy="279.23" r="1.5"/><circle cx="423.21" cy="279.38" r="1.5"/><circle cx="424.25" cy="279.63" r="1.5"/><circle cx="425.28" cy="279.95" r="1.5"/><circle cx="426.31" cy="280.28" r="1.5"/><circle cx="427.35" cy="280.61" r="1.5"/><circle cx="428.38" cy="280.98" r="1.5"/><circle cx="429.42" cy="281.41" r="1.5"/><circle cx="430.45" cy="281.87" r="1.5"/><circle cx="431.48" cy="282.34" r="1.5"/><circle cx="432.52" cy="282.80" r="1.5"/><circle cx="433.55" cy="283.22" r="1.5"/><circle cx="434.59" cy="283.62" r="1.5"/><circle cx="435.62" cy="284.00" r="1.5"/><circle cx="436.65" cy="284.37" r="1.5"/><circle cx="437.69" cy="284.75" r="1.5"/><circle cx="438.72" cy="285.14" r="1.5"/><circle cx="439.75" cy="285.55" r="1.5"/><circle cx="440.79" cy="286.00" r="1.5"/><circle cx="441.82" cy="286.50" r="1.5"/><circle cx="442.86" cy="287.06" r="1.5"/><circle cx="443.89" cy="287.71" r="1.5"/><circle cx="444.92" cy="288.44" r="1.5"/><circle cx="445.96" cy="289.25" r="1.5"/><circle cx="446.99" cy="290.11" r="1.5"/><circle cx="448.03" cy="291.00" r="1.5"/><circle cx="449.06" cy="291.92" r="1.5"/><circle cx="450.09" cy="292.83" r="1.5"/><circle cx="451.13" cy="293.74" r="1.5"/><circle cx="452.16" cy="294.63" r="1.5"/><circle cx="453.20" cy="295.59" r="1.5"/><circle cx="454.23" cy="296.65" r="1.5"/><circle cx="455.26" cy="297.73" r="1.5"/><circle cx="456.30" cy="298.77" r="1.5"/><circle cx="457.33" cy="299.71" r="1.5"/><circle cx="458.37" cy="300.49" r="1.5"/><circle cx="459.40" cy="301.06" r="1.5"/><circle cx="460.43" cy="301.47" r="1.5"/><circle cx="461.47" cy="301.85" r="1.5"/><circle cx="462.50" cy="302.18" r="1.5"/><circle cx="463.53" cy="302.43" r="1.5"/><circle cx="464.57" cy="302.57" r="1.5"/><circle cx="465.60" cy="302.59" r="1.5"/><circle cx="466.64" cy="302.50" r="1.5"/><circle cx="467.67" cy="302.32" r="1.5"/><circle cx="468.70" cy="302.07" r="1.5"/><circle cx="469.74" cy="301.77" r="1.5"/><circle cx="470.77" cy="301.42" r="1.5"/><circle cx="471.81" cy="301.06" r="1.5"/><circle cx="472.84" cy="300.70" r="1.5"/><circle cx="473.87" cy="300.36" r="1.5"/><circle cx="474.91" cy="300.04" r="1.5"/><circle cx="475.94" cy="299.71" r="1.5"/><circle cx="476.98" cy="299.34" r="1.5"/><circle cx="478.01" cy="298.95" r="1.5"/><circle cx="479.04" cy="298.55" r="1.5"/><circle cx="480.08" cy="298.15" r="1.5"/><circle cx="481.11" cy="297.75" r="1.5"/><circle cx="482.15" cy="297.38" r="1.5"/><circle cx="483.18" cy="297.03" r="1.5"/><circle cx="484.21" cy="296.73" r="1.5"/><circle cx="485.25" cy="296.47" r="1.5"/><circle cx="486.28" cy="296.27" r="1.5"/><circle cx="487.31" cy="296.09" r="1.5"/><circle cx="488.35" cy="295.92" r="1.5"/><circle cx="489.38" cy="295.76" r="1.5"/><circle cx="490.42" cy="295.60" r="1.5"/><circle cx="491.45" cy="295.45" r="1.5"/><circle cx="492.48" cy="295.32" r="1.5"/><circle cx="493.52" cy="295.21" r="1.5"/><circle cx="494.55" cy="295.12" r="1.5"/><circle cx="495.59" cy="295.05" r="1.5"/><circle cx="496.62" cy="295.01" r="1.5"/><circle cx="497.65" cy="295.00" r="1.5"/><circle cx="498.69" cy="295.03" r="1.5"/><circle cx="499.72" cy="295.09" r="1.5"/><circle cx="500.76" cy="295.19" r="1.5"/><circle cx="501.79" cy="295.31" r="1.5"/><circle cx="502.82" cy="295.47" r="1.5"/><circle cx="503.86" cy="295.64" r="1.5"/><circle cx="504.89" cy="295.84" r="1.5"/><circle cx="505.93" cy="296.06" r="1.5"/><circle cx="506.96" cy="296.29" r="1.5"/><circle cx="507.99" cy="296.61" r="1.5"/><circle cx="509.03" cy="297.10" r="1.5"/><circle cx="510.06" cy="297.73" r="1.5"/><circle cx="511.09" cy="298.46" r="1.5"/><circle cx="512.13" cy="299.28" r="1.5"/><circle cx="513.16" cy="300.15" r="1.5"/><circle cx="514.20" cy="301.05" r="1.5"/><circle cx="515.23" cy="301.95" r="1.5"/><circle cx="516.26" cy="302.81" r="1.5"/><circle cx="517.30" cy="303.63" r="1.5"/><circle cx="518.33" cy="304.43" r="1.5"/><circle cx="519.37" cy="305.27" r="1.5"/><circle cx="520.40" cy="306.17" r="1.5"/><circle cx="521.43" cy="307.18" r="1.5"/><circle cx="522.47" cy="308.34" r="1.5"/><circle cx="523.50" cy="309.76" r="1.5"/><circle cx="524.54" cy="311.54" r="1.5"/><circle cx="525.57" cy="313.59" r="1.5"/><circle cx="526.60" cy="315.82" r="1.5"/><circle cx="527.64" cy="318.14" r="1.5"/><circle cx="528.67" cy="320.46" r="1.5"/><circle cx="529.71" cy="322.69" r="1.5"/><circle cx="530.74" cy="324.76" r="1.5"/><circle cx="531.77" cy="326.77" r="1.5"/><circle cx="532.81" cy="328.77" r="1.5"/><circle cx="533.84" cy="330.79" r="1.5"/><circle cx="534.87" cy="332.86" r="1.5"/><circle cx="535.91" cy="335.02" r="1.5"/><circle cx="536.94" cy="337.33" r="1.5"/><circle cx="537.98" cy="339.77" r="1.5"/><circle cx="539.01" cy="342.27" r="1.5"/><circle cx="540.04" cy="344.76" r="1.5"/><circle cx="541.08" cy="347.15" r="1.5"/><circle cx="542.11" cy="349.44" r="1.5"/><circle cx="543.15" cy="351.85" r="1.5"/><circle cx="544.18" cy="354.28" r="1.5"/><circle cx="545.21" cy="356.52" r="1.5"/><circle cx="546.25" cy="358.38" r="1.5"/><circle cx="547.28" cy="359.68" r="1.5"/><circle cx="548.32" cy="360.60" r="1.5"/><circle cx="549.35" cy="361.45" r="1.5"/><circle cx="550.38" cy="362.21" r="1.5"/><circle cx="551.42" cy="362.82" r="1.5"/><circle cx="552.45" cy="363.26" r="1.5"/><circle cx="553.49" cy="363.48" r="1.5"/><circle cx="554.52" cy="363.45" r="1.5"/><circle cx="555.55" cy="363.18" r="1.5"/><circle cx="556.59" cy="362.72" r="1.5"/><circle cx="557.62" cy="362.11" r="1.5"/><circle cx="558.65" cy="361.41" r="1.5"/><circle cx="559.69" cy="360.65" r="1.5"/><circle cx="560.72" cy="359.90" r="1.5"/><circle cx="561.76" cy="359.19" r="1.5"/><circle cx="562.79" cy="358.57" r="1.5"/><circle cx="563.82" cy="357.91" r="1.5"/><circle cx="564.86" cy="357.20" r="1.5"/><circle cx="565.89" cy="356.46" r="1.5"/><circle cx="566.93" cy="355.73" r="1.5"/><circle cx="567.96" cy="355.03" r="1.5"/><circle cx="568.99" cy="354.38" r="1.5"/><circle cx="570.03" cy="353.82" r="1.5"/><circle cx="571.06" cy="353.37" r="1.5"/><circle cx="572.10" cy="353.05" r="1.5"/><circle cx="573.13" cy="352.78" r="1.5"/><circle cx="574.16" cy="352.54" r="1.5"/><circle cx="575.20" cy="352.33" r="1.5"/><circle cx="576.23" cy="352.18" r="1.5"/><circle cx="577.27" cy="352.11" r="1.5"/><circle cx="578.30" cy="352.12" r="1.5"/><circle cx="579.33" cy="352.21" r="1.5"/><circle cx="580.37" cy="352.36" r="1.5"/><circle cx="581.40" cy="352.57" r="1.5"/><circle cx="582.43" cy="352.81" r="1.5"/><circle cx="583.47" cy="353.07" r="1.5"/><circle cx="584.50" cy="353.35" r="1.5"/><circle cx="585.54" cy="353.62" r="1.5"/><circle cx="586.57" cy="353.88" r="1.5"/><circle cx="587.60" cy="354.12" r="1.5"/><circle cx="588.64" cy="354.42" r="1.5"/><circle cx="589.67" cy="354.76" r="1.5"/><circle cx="590.71" cy="355.10" r="1.5"/><circle cx="591.74" cy="355.42" r="1.5"/><circle cx="592.77" cy="355.68" r="1.5"/><circle cx="593.81" cy="355.85" r="1.5"/><circle cx="594.84" cy="355.90" r="1.5"/><circle cx="595.88" cy="355.73" r="1.5"/><circle cx="596.91" cy="355.35" r="1.5"/><circle cx="597.94" cy="354.77" r="1.5"/><circle cx="598.98" cy="354.05" r="1.5"/><circle cx="600.01" cy="353.22" r="1.5"/><circle cx="601.05" cy="352.32" r="1.5"/><circle cx="602.08" cy="351.40" r="1.5"/><circle cx="603.11" cy="350.37" r="1.5"/><circle cx="604.15" cy="349.06" r="1.5"/><circle cx="605.18" cy="347.52" r="1.5"/><circle cx="606.21" cy="345.80" r="1.5"/><circle cx="607.25" cy="343.97" r="1.5"/><circle cx="608.28" cy="342.07" r="1.5"/><circle cx="609.32" cy="339.87" r="1.5"/><circle cx="610.35" cy="337.41" r="1.5"/><circle cx="611.38" cy="334.83" r="1.5"/><circle cx="612.42" cy="332.26" r="1.5"/><circle cx="613.45" cy="329.84" r="1.5"/><circle cx="614.49" cy="327.65" r="1.5"/><circle cx="615.52" cy="325.56" r="1.5"/><circle cx="616.55" cy="323.53" r="1.5"/><circle cx="617.59" cy="321.54" r="1.5"/><circle cx="618.62" cy="319.53" r="1.5"/><circle cx="619.66" cy="317.48" r="1.5"/><circle cx="620.69" cy="315.31" r="1.5"/><circle cx="621.72" cy="313.07" r="1.5"/><circle cx="622.76" cy="310.87" r="1.5"/><circle cx="623.79" cy="308.82" r="1.5"/><circle cx="624.83" cy="307.02" r="1.5"/><circle cx="625.86" cy="305.49" r="1.5"/><circle cx="626.89" cy="304.02" r="1.5"/><circle cx="627.93" cy="302.67" r="1.5"/><circle cx="628.96" cy="301.47" r="1.5"/><circle cx="629.99" cy="300.49" r="1.5"/><circle cx="631.03" cy="299.76" r="1.5"/><circle cx="632.06" cy="299.18" r="1.5"/><circle cx="633.10" cy="298.67" r="1.5"/><circle cx="634.13" cy="298.24" r="1.5"/><circle cx="635.16" cy="297.87" r="1.5"/><circle cx="636.20" cy="297.58" r="1.5"/><circle cx="637.23" cy="297.33" r="1.5"/><circle cx="638.27" cy="297.14" r="1.5"/><circle cx="639.30" cy="297.00" r="1.5"/></g>
<g fill="none" stroke="#ff0000" stroke-width="1.0"><circle cx="401.60" cy="458.10" r="1.5"/><circle cx="402.63" cy="457.51" r="1.5"/><circle cx="403.67" cy="456.92" r="1.5"/><circle cx="404.70" cy="456.33" r="1.5"/><circle cx="405.73" cy="455.74" r="1.5"/><circle cx="406.77" cy="455.16" r="1.5"/><circle cx="407.80" cy="454.58" r="1.5"/><circle cx="408.83" cy="454.01" r="1.5"/><circle cx="409.87" cy="453.47" r="1.5"/><circle cx="410.90" cy="452.95" r="1.5"/><circle cx="411.93" cy="452.44" r="1.5"/><circle cx="412.97" cy="451.92" r="1.5"/><circle cx="414.00" cy="451.37" r="1.5"/><circle cx="415.04" cy="450.78" r="1.5"/><circle cx="416.07" cy="450.12" r="1.5"/><circle cx="417.10" cy="449.37" r="1.5"/><circle cx="418.14" cy="448.49" r="1.5"/><circle cx="419.17" cy="447.47" r="1.5"/><circle cx="420.20" cy="446.36" r="1.5"/><circle cx="421.24" cy="445.16" r="1.5"/><circle cx="422.27" cy="443.91" r="1.5"/><circle cx="423.30" cy="442.64" r="1.5"/><circle cx="424.34" cy="441.37" r="1.5"/><circle cx="425.37" cy="440.14" r="1.5"/><circle cx="426.40" cy="438.90" r="1.5"/><circle cx="427.44" cy="437.63" r="1.5"/><circle cx="428.47" cy="436.33" r="1.5"/><circle cx="429.50" cy="435.02" r="1.5"/><circle cx="430.54" cy="433.70" r="1.5"/><circle cx="431.57" cy="432.39" r="1.5"/><circle cx="432.60" cy="431.09" r="1.5"/><circle cx="433.64" cy="429.82" r="1.5"/><circle cx="434.67" cy="428.56" r="1.5"/><circle cx="435.70" cy="427.32" r="1.5"/><circle cx="436.74" cy="426.08" r="1.5"/><circle cx="437.77" cy="424.84" r="1.5"/><circle cx="438.81" cy="423.60" r="1.5"/><circle cx="439.84" cy="422.35" r="1.5"/><circle cx="440.87" cy="421.09" r="1.5"/><circle cx="441.91" cy="419.82" r="1.5"/><circle cx="442.94" cy="418.52" r="1.5"/><circle cx="443.97" cy="417.19" r="1.5"/><circle cx="445.01" cy="415.83" r="1.5"/><circle cx="446.04" cy="414.46" r="1.5"/><circle cx="447.07" cy="413.08" r="1.5"/><circle cx="448.11" cy="411.71" r="1.5"/><circle cx="449.14" cy="410.36" r="1.5"/><circle cx="450.17" cy="409.03" r="1.5"/><circle cx="451.21" cy="407.74" r="1.5"/><circle cx="452.24" cy="406.50" r="1.5"/><circle cx="453.27" cy="405.29" r="1.5"/><circle cx="454.31" cy="404.12" r="1.5"/><circle cx="455.34" cy="402.97" r="1.5"/><circle cx="456.37" cy="401.84" r="1.5"/><circle cx="457.41" cy="400.72" r="1.5"/><circle cx="458.44" cy="399.61" r="1.5"/><circle cx="459.47" cy="398.49" r="1.5"/><circle cx="460.51" cy="397.38" r="1.5"/><circle cx="461.54" cy="396.24" r="1.5"/><circle cx="462.58" cy="395.11" r="1.5"/><circle cx="463.61" cy="393.98" r="1.5"/><circle cx="464.64" cy="392.85" r="1.5"/><circle cx="465.68" cy="391.72" r="1.5"/><circle cx="466.71" cy="390.59" r="1.5"/><circle cx="467.74" cy="389.46" r="1.5"/><circle cx="468.78" cy="388.33" r="1.5"/><circle cx="469.81" cy="387.20" r="1.5"/><circle cx="470.84" cy="386.06" r="1.5"/><circle cx="471.88" cy="384.92" r="1.5"/><circle cx="472.91" cy="383.76" r="1.5"/><circle cx="473.94" cy="382.60" r="1.5"/><circle cx="474.98" cy="381.44" r="1.5"/><circle cx="476.01" cy="380.28" r="1.5"/><circle cx="477.04" cy="379.13" r="1.5"/><circle cx="478.08" cy="377.99" r="1.5"/><circle cx="479.11" cy="376.87" r="1.5"/><circle cx="480.14" cy="375.77" r="1.5"/><circle cx="481.18" cy="374.69" r="1.5"/><circle cx="482.21" cy="373.64" r="1.5"/><circle cx="483.24" cy="372.61" r="1.5"/><circle cx="484.28" cy="371.59" r="1.5"/><circle cx="485.31" cy="370.58" r="1.5"/><circle cx="486.35" cy="369.58" r="1.5"/><circle cx="487.38" cy="368.57" r="1.5"/><circle cx="488.41" cy="367.57" r="1.5"/><circle cx="489.45" cy="366.55" r="1.5"/><circle cx="490.48" cy="365.52" r="1.5"/><circle cx="491.51" cy="364.47" r="1.5"/><circle cx="492.55" cy="363.40" r="1.5"/><circle cx="493.58" cy="362.33" r="1.5"/><circle cx="494.61" cy="361.26" r="1.5"/><circle cx="495.65" cy="360.21" r="1.5"/><circle cx="496.68" cy="359.17" r="1.5"/><circle cx="497.71" cy="358.16" r="1.5"/><circle cx="498.75" cy="357.19" r="1.5"/><circle cx="499.78" cy="356.26" r="1.5"/><circle cx="500.81" cy="355.38" r="1.5"/><circle cx="501.85" cy="354.52" r="1.5"/><circle cx="502.88" cy="353.69" r="1.5"/><circle cx="503.91" cy="352.88" r="1.5"/><circle cx="504.95" cy="352.08" r="1.5"/><circle cx="505.98" cy="351.28" r="1.5"/><circle cx="507.01" cy="350.48" r="1.5"/><circle cx="508.05" cy="349.68" r="1.5"/><circle cx="509.08" cy="348.85" r="1.5"/><circle cx="510.12" cy="348.02" r="1.5"/><circle cx="511.15" cy="347.19" r="1.5"/><circle cx="512.18" cy="346.35" r="1.5"/><circle cx="513.22" cy="345.51" r="1.5"/><circle cx="514.25" cy="344.68" r="1.5"/><circle cx="515.28" cy="343.85" r="1.5"/><circle cx="516.32" cy="343.02" r="1.5"/><circle cx="517.35" cy="342.21" r="1.5"/><circle cx="518.38" cy="341.41" r="1.5"/><circle cx="519.42" cy="340.63" r="1.5"/><circle cx="520.45" cy="339.85" r="1.5"/><circle cx="521.48" cy="339.09" r="1.5"/><circle cx="522.52" cy="338.33" r="1.5"/><circle cx="523.55" cy="337.58" r="1.5"/><circle cx="524.58" cy="336.84" r="1.5"/><circle cx="525.62" cy="336.09" r="1.5"/><circle cx="526.65" cy="335.32" r="1.5"/><circle cx="527.68" cy="334.55" r="1.5"/><circle cx="528.72" cy="333.78" r="1.5"/><circle cx="529.75" cy="333.03" r="1.5"/><circle cx="530.78" cy="332.30" r="1.5"/><circle cx="531.82" cy="331.61" r="1.5"/><circle cx="532.85" cy="330.96" r="1.5"/><circle cx="533.89" cy="330.36" r="1.5"/><circle cx="534.92" cy="329.81" r="1.5"/><circle cx="535.95" cy="329.27" r="1.5"/><circle cx="536.99" cy="328.75" r="1.5"/><circle cx="538.02" cy="328.25" r="1.5"/><circle cx="539.05" cy="327.77" r="1.5"/><circle cx="540.09" cy="327.33" r="1.5"/><circle cx="541.12" cy="326.91" r="1.5"/><circle cx="542.15" cy="326.53" r="1.5"/><circle cx="543.19" cy="326.19" r="1.5"/><circle cx="544.22" cy="325.90" r="1.5"/><circle cx="545.25" cy="325.64" r="1.5"/><circle cx="546.29" cy="325.41" r="1.5"/><circle cx="547.32" cy="325.20" r="1.5"/><circle cx="548.35" cy="325.00" r="1.5"/><circle cx="549.39" cy="324.80" r="1.5"/><circle cx="550.42" cy="324.60" r="1.5"/><circle cx="551.45" cy="324.38" r="1.5"/><circle cx="552.49" cy="324.13" r="1.5"/><circle cx="553.52" cy="323.86" r="1.5"/><circle cx="554.55" cy="323.55" r="1.5"/><circle cx="555.59" cy="323.23" r="1.5"/><circle cx="556.62" cy="322.89" r="1.5"/><circle cx="557.66" cy="322.53" r="1.5"/><circle cx="558.69" cy="322.16" r="1.5"/><circle cx="559.72" cy="321.79" r="1.5"/><circle cx="560.76" cy="321.41" r="1.5"/><circle cx="561.79" cy="321.02" r="1.5"/><circle cx="562.82" cy="320.64" r="1.5"/><circle cx="563.86" cy="320.26" r="1.5"/><circle cx="564.89" cy="319.86" r="1.5"/><circle cx="565.92" cy="319.45" r="1.5"/><circle cx="566.96" cy="319.04" r="1.5"/><circle cx="567.99" cy="318.62" r="1.5"/><circle cx="569.02" cy="318.20" r="1.5"/><circle cx="570.06" cy="317.78" r="1.5"/><circle cx="571.09" cy="317.37" r="1.5"/><circle cx="572.12" cy="316.95" r="1.5"/><circle cx="573.16" cy="316.53" r="1.5"/><circle cx="574.19" cy="316.11" r="1.5"/><circle cx="575.22" cy="315.68" r="1.5"/><circle cx="576.26" cy="315.25" r="1.5"/><circle cx="577.29" cy="314.82" r="1.5"/><circle cx="578.32" cy="314.39" r="1.5"/><circle cx="579.36" cy="313.98" r="1.5"/><circle cx="580.39" cy="313.58" r="1.5"/><circle cx="581.43" cy="313.19" r="1.5"/><circle cx="582.46" cy="312.81" r="1.5"/><circle cx="583.49" cy="312.43" r="1.5"/><circle cx="584.53" cy="312.04" r="1.5"/><circle cx="585.56" cy="311.67" r="1.5"/><circle cx="586.59" cy="311.31" r="1.5"/><circle cx="587.63" cy="310.96" r="1.5"/><circle cx="588.66" cy="310.63" r="1.5"/><circle cx="589.69" cy="310.32" r="1.5"/><circle cx="590.73" cy="310.04" r="1.5"/><circle cx="591.76" cy="309.79" r="1.5"/><circle cx="592.79" cy="309.57" r="1.5"/><circle cx="593.83" cy="309.36" r="1.5"/><circle cx="594.86" cy="309.17" r="1.5"/><circle cx="595.89" cy="308.98" r="1.5"/><circle cx="596.93" cy="308.79" r="1.5"/><circle cx="597.96" cy="308.60" r="1.5"/><circle cx="598.99" cy="308.40" r="1.5"/><circle cx="600.03" cy="308.18" r="1.5"/><circle cx="601.06" cy="307.95" r="1.5"/><circle cx="602.09" cy="307.72" r="1.5"/><circle cx="603.13" cy="307.48" r="1.5"/><circle cx="604.16" cy="307.23" r="1.5"/><circle cx="605.20" cy="306.98" r="1.5"/><circle cx="606.23" cy="306.71" r="1.5"/><circle cx="607.26" cy="306.42" r="1.5"/><circle cx="608.30" cy="306.12" r="1.5"/><circle cx="609.33" cy="305.79" r="1.5"/><circle cx="610.36" cy="305.44" r="1.5"/><circle cx="611.40" cy="305.03" r="1.5"/><circle cx="612.43" cy="304.58" r="1.5"/><circle cx="613.46" cy="304.09" r="1.5"/><circle cx="614.50" cy="303.57" r="1.5"/><circle cx="615.53" cy="303.02" r="1.5"/><circle cx="616.56" cy="302.46" r="1.5"/><circle cx="617.60" cy="301.89" r="1.5"/><circle cx="618.63" cy="301.32" r="1.5"/><circle cx="619.66" cy="300.76" r="1.5"/><circle cx="620.70" cy="300.16" r="1.5"/><circle cx="621.73" cy="299.54" r="1.5"/><circle cx="622.76" cy="298.89" r="1.5"/><circle cx="623.80" cy="298.24" r="1.5"/><circle cx="624.83" cy="297.58" r="1.5"/><circle cx="625.86" cy="296.93" r="1.5"/><circle cx="626.90" cy="296.31" r="1.5"/><circle cx="627.93" cy="295.72" r="1.5"/><circle cx="628.97" cy="295.17" r="1.5"/><circle cx="630.00" cy="294.65" r="1.5"/><circle cx="631.03" cy="294.16" r="1.5"/><circle cx="632.07" cy="293.69" r="1.5"/><circle cx="633.10" cy="293.24" r="1.5"/><circle cx="634.13" cy="292.79" r="1.5"/><circle cx="635.17" cy="292.35" r="1.5"/><circle cx="636.20" cy="291.91" r="1.5"/><circle cx="637.23" cy="291.47" r="1.5"/><circle cx="638.27" cy="291.03" r="1.5"/><circle cx="639.30" cy="290.60" r="1.5"/></g>
<line x1="399.9" y1="267.8" x2="639.4" y2="267.8" stroke="#000" stroke-width="2.2"/>
<line x1="399.9" y1="459.7" x2="639.4" y2="459.7" stroke="#000" stroke-width="2.2"/>
<line x1="401" y1="266.7" x2="401" y2="460.8" stroke="#000" stroke-width="2.2"/>
<line x1="639.4" y1="266.7" x2="639.4" y2="460.8" stroke="#ff0000" stroke-width="2.2"/>
<line x1="401.0" y1="459.7" x2="401.0" y2="463.3" stroke="#000" stroke-width="1.9"/>
<line x1="426.9130434782609" y1="459.7" x2="426.9130434782609" y2="461.8" stroke="#000" stroke-width="1.3"/>
<line x1="452.82608695652175" y1="459.7" x2="452.82608695652175" y2="463.3" stroke="#000" stroke-width="1.9"/>
<line x1="478.7391304347826" y1="459.7" x2="478.7391304347826" y2="461.8" stroke="#000" stroke-width="1.3"/>
<line x1="504.6521739130435" y1="459.7" x2="504.6521739130435" y2="463.3" stroke="#000" stroke-width="1.9"/>
<line x1="530.5652173913043" y1="459.7" x2="530.5652173913043" y2="461.8" stroke="#000" stroke-width="1.3"/>
<line x1="556.4782608695652" y1="459.7" x2="556.4782608695652" y2="463.3" stroke="#000" stroke-width="1.9"/>
<line x1="582.3913043478261" y1="459.7" x2="582.3913043478261" y2="461.8" stroke="#000" stroke-width="1.3"/>
<line x1="608.304347826087" y1="459.7" x2="608.304347826087" y2="463.3" stroke="#000" stroke-width="1.9"/>
<line x1="634.2173913043478" y1="459.7" x2="634.2173913043478" y2="461.8" stroke="#000" stroke-width="1.3"/>
<line x1="397.4" y1="459.7" x2="401" y2="459.7" stroke="#000" stroke-width="1.9"/>
<line x1="398.9" y1="450.105" x2="401" y2="450.105" stroke="#000" stroke-width="1.3"/>
<line x1="397.4" y1="440.51" x2="401" y2="440.51" stroke="#000" stroke-width="1.9"/>
<line x1="398.9" y1="430.91499999999996" x2="401" y2="430.91499999999996" stroke="#000" stroke-width="1.3"/>
<line x1="397.4" y1="421.32" x2="401" y2="421.32" stroke="#000" stroke-width="1.9"/>
<line x1="398.9" y1="411.725" x2="401" y2="411.725" stroke="#000" stroke-width="1.3"/>
<line x1="397.4" y1="402.13" x2="401" y2="402.13" stroke="#000" stroke-width="1.9"/>
<line x1="398.9" y1="392.53499999999997" x2="401" y2="392.53499999999997" stroke="#000" stroke-width="1.3"/>
<line x1="397.4" y1="382.94" x2="401" y2="382.94" stroke="#000" stroke-width="1.9"/>
<line x1="398.9" y1="373.345" x2="401" y2="373.345" stroke="#000" stroke-width="1.3"/>
<line x1="397.4" y1="363.75" x2="401" y2="363.75" stroke="#000" stroke-width="1.9"/>
<line x1="398.9" y1="354.155" x2="401" y2="354.155" stroke="#000" stroke-width="1.3"/>
<line x1="397.4" y1="344.56" x2="401" y2="344.56" stroke="#000" stroke-width="1.9"/>
<line x1="398.9" y1="334.96500000000003" x2="401" y2="334.96500000000003" stroke="#000" stroke-width="1.3"/>
<line x1="397.4" y1="325.37" x2="401" y2="325.37" stroke="#000" stroke-width="1.9"/>
<line x1="398.9" y1="315.775" x2="401" y2="315.775" stroke="#000" stroke-width="1.3"/>
<line x1="397.4" y1="306.18" x2="401" y2="306.18" stroke="#000" stroke-width="1.9"/>
<line x1="398.9" y1="296.585" x2="401" y2="296.585" stroke="#000" stroke-width="1.3"/>
<line x1="397.4" y1="286.99" x2="401" y2="286.99" stroke="#000" stroke-width="1.9"/>
<line x1="398.9" y1="277.395" x2="401" y2="277.395" stroke="#000" stroke-width="1.3"/>
<line x1="397.4" y1="267.8" x2="401" y2="267.8" stroke="#000" stroke-width="1.9"/>
<line x1="639.4" y1="459.7" x2="643.0" y2="459.7" stroke="#ff0000" stroke-width="1.9"/>
<line x1="639.4" y1="450.105" x2="641.5" y2="450.105" stroke="#ff0000" stroke-width="1.3"/>
<line x1="639.4" y1="440.51" x2="643.0" y2="440.51" stroke="#ff0000" stroke-width="1.9"/>
<line x1="639.4" y1="430.91499999999996" x2="641.5" y2="430.91499999999996" stroke="#ff0000" stroke-width="1.3"/>
<line x1="639.4" y1="421.32" x2="643.0" y2="421.32" stroke="#ff0000" stroke-width="1.9"/>
<line x1="639.4" y1="411.725" x2="641.5" y2="411.725" stroke="#ff0000" stroke-width="1.3"/>
<line x1="639.4" y1="402.13" x2="643.0" y2="402.13" stroke="#ff0000" stroke-width="1.9"/>
<line x1="639.4" y1="392.53499999999997" x2="641.5" y2="392.53499999999997" stroke="#ff0000" stroke-width="1.3"/>
<line x1="639.4" y1="382.94" x2="643.0" y2="382.94" stroke="#ff0000" stroke-width="1.9"/>
<line x1="639.4" y1="373.345" x2="641.5" y2="373.345" stroke="#ff0000" stroke-width="1.3"/>
<line x1="639.4" y1="363.75" x2="643.0" y2="363.75" stroke="#ff0000" stroke-width="1.9"/>
<line x1="639.4" y1="354.155" x2="641.5" y2="354.155" stroke="#ff0000" stroke-width="1.3"/>
<line x1="639.4" y1="344.56" x2="643.0" y2="344.56" stroke="#ff0000" stroke-width="1.9"/>
<line x1="639.4" y1="334.96500000000003" x2="641.5" y2="334.96500000000003" stroke="#ff0000" stroke-width="1.3"/>
<line x1="639.4" y1="325.37" x2="643.0" y2="325.37" stroke="#ff0000" stroke-width="1.9"/>
<line x1="639.4" y1="315.775" x2="641.5" y2="315.775" stroke="#ff0000" stroke-width="1.3"/>
<line x1="639.4" y1="306.18" x2="643.0" y2="306.18" stroke="#ff0000" stroke-width="1.9"/>
<line x1="639.4" y1="296.585" x2="641.5" y2="296.585" stroke="#ff0000" stroke-width="1.3"/>
<line x1="639.4" y1="286.99" x2="643.0" y2="286.99" stroke="#ff0000" stroke-width="1.9"/>
<line x1="639.4" y1="277.395" x2="641.5" y2="277.395" stroke="#ff0000" stroke-width="1.3"/>
<line x1="639.4" y1="267.8" x2="643.0" y2="267.8" stroke="#ff0000" stroke-width="1.9"/>
<text x="401.0" y="478.2" font-size="11.6" fill="#000" text-anchor="middle" font-weight="normal" >150</text>
<text x="452.8" y="478.2" font-size="11.6" fill="#000" text-anchor="middle" font-weight="normal" >200</text>
<text x="504.7" y="478.2" font-size="11.6" fill="#000" text-anchor="middle" font-weight="normal" >250</text>
<text x="556.5" y="478.2" font-size="11.6" fill="#000" text-anchor="middle" font-weight="normal" >300</text>
<text x="608.3" y="478.2" font-size="11.6" fill="#000" text-anchor="middle" font-weight="normal" >350</text>
<text x="392.1" y="463.6" font-size="11.6" fill="#000" text-anchor="end" font-weight="normal" >0.0</text>
<text x="392.1" y="444.4" font-size="11.6" fill="#000" text-anchor="end" font-weight="normal" >0.1</text>
<text x="392.1" y="425.2" font-size="11.6" fill="#000" text-anchor="end" font-weight="normal" >0.2</text>
<text x="392.1" y="406.0" font-size="11.6" fill="#000" text-anchor="end" font-weight="normal" >0.3</text>
<text x="392.1" y="386.8" font-size="11.6" fill="#000" text-anchor="end" font-weight="normal" >0.4</text>
<text x="392.1" y="367.6" font-size="11.6" fill="#000" text-anchor="end" font-weight="normal" >0.5</text>
<text x="392.1" y="348.5" font-size="11.6" fill="#000" text-anchor="end" font-weight="normal" >0.6</text>
<text x="392.1" y="329.3" font-size="11.6" fill="#000" text-anchor="end" font-weight="normal" >0.7</text>
<text x="392.1" y="310.1" font-size="11.6" fill="#000" text-anchor="end" font-weight="normal" >0.8</text>
<text x="392.1" y="290.9" font-size="11.6" fill="#000" text-anchor="end" font-weight="normal" >0.9</text>
<text x="392.1" y="271.7" font-size="11.6" fill="#000" text-anchor="end" font-weight="normal" >1.0</text>
<text x="648.5" y="463.6" font-size="11.6" fill="#ff0000" text-anchor="start" font-weight="normal" >0.0</text>
<text x="648.5" y="444.4" font-size="11.6" fill="#ff0000" text-anchor="start" font-weight="normal" >0.2</text>
<text x="648.5" y="425.2" font-size="11.6" fill="#ff0000" text-anchor="start" font-weight="normal" >0.4</text>
<text x="648.5" y="406.0" font-size="11.6" fill="#ff0000" text-anchor="start" font-weight="normal" >0.6</text>
<text x="648.5" y="386.8" font-size="11.6" fill="#ff0000" text-anchor="start" font-weight="normal" >0.8</text>
<text x="648.5" y="367.6" font-size="11.6" fill="#ff0000" text-anchor="start" font-weight="normal" >1.0</text>
<text x="648.5" y="348.5" font-size="11.6" fill="#ff0000" text-anchor="start" font-weight="normal" >1.2</text>
<text x="648.5" y="329.3" font-size="11.6" fill="#ff0000" text-anchor="start" font-weight="normal" >1.4</text>
<text x="648.5" y="310.1" font-size="11.6" fill="#ff0000" text-anchor="start" font-weight="normal" >1.6</text>
<text x="648.5" y="290.9" font-size="11.6" fill="#ff0000" text-anchor="start" font-weight="normal" >1.8</text>
<text x="648.5" y="271.7" font-size="11.6" fill="#ff0000" text-anchor="start" font-weight="normal" >2.0</text>
<text x="365.8" y="364" font-size="11.65" fill="#000" text-anchor="middle" font-weight="normal" transform="rotate(-90 365.8 364)" >Transmittance</text>
<text x="682.4" y="363.8" font-size="11.65" fill="#ff0000" text-anchor="middle" font-weight="normal" transform="rotate(-90 682.4 363.8)" >Phase (&#960;)</text>
<text x="520.2" y="495.6" font-size="11.65" fill="#000" text-anchor="middle" font-weight="normal" >Diameter (nm)</text>
<circle cx="549.6" cy="275.1" r="3.3" fill="none" stroke="#000" stroke-width="2"/>
<circle cx="549.6" cy="290.5" r="3.3" fill="none" stroke="#ff0000" stroke-width="2"/>
<text x="559.2" y="278.6" font-size="9.8" fill="#000" text-anchor="start" font-weight="normal" >Transmittance</text>
<text x="559.2" y="294.1" font-size="9.8" fill="#ff0000" text-anchor="start" font-weight="normal" >Phase</text>
<text x="355.3" y="267.5" font-size="16" fill="#000" text-anchor="start" font-weight="bold" >d</text>
<clipPath id="clipe"><rect x="51.4" y="534.3" width="237.79999999999998" height="190.60000000000002"/></clipPath>
<g clip-path="url(#clipe)">
<path d="M52.00,574.36 L52.50,577.33 L53.00,580.16 L53.50,582.85 L54.00,585.42 L54.50,587.87 L55.00,590.21 L55.50,592.45 L56.00,594.59 L56.50,596.64 L57.00,598.60 L57.50,600.48 L58.00,602.29 L58.50,604.02 L59.00,605.69 L59.50,607.29 L60.00,608.84 L60.50,610.33 L61.00,611.76 L61.50,613.15 L62.00,614.49 L62.50,615.78 L63.00,617.03 L63.50,618.24 L64.00,619.42 L64.50,620.56 L65.00,621.67 L65.50,622.74 L66.00,623.79 L66.50,624.81 L67.00,625.80 L67.50,626.76 L68.00,627.70 L68.50,628.62 L69.00,629.52 L69.50,630.40 L70.00,631.25 L70.50,632.09 L71.00,632.91 L71.50,633.72 L72.00,634.50 L72.50,635.28 L73.00,636.04 L73.50,636.78 L74.00,637.51 L74.50,638.23 L75.00,638.93 L75.50,639.63 L76.00,640.31 L76.50,640.98 L77.00,641.65 L77.50,642.30 L78.00,642.94 L78.50,643.57 L79.00,644.20 L79.50,644.81 L80.00,645.42 L80.50,646.02 L81.00,646.61 L81.50,647.20 L82.00,647.77 L82.50,648.34 L83.00,648.91 L83.50,649.46 L84.00,650.01 L84.50,650.56 L85.00,651.09 L85.50,651.63 L86.00,652.15 L86.50,652.67 L87.00,653.19 L87.50,653.70 L88.00,654.20 L88.50,654.70 L89.00,655.19 L89.50,655.68 L90.00,656.17 L90.50,656.65 L91.00,657.12 L91.50,657.59 L92.00,658.06 L92.50,658.52 L93.00,658.98 L93.50,659.43 L94.00,659.88 L94.50,660.32 L95.00,660.76 L95.50,661.20 L96.00,661.63 L96.50,662.06 L97.00,662.49 L97.50,662.91 L98.00,663.32 L98.50,663.74 L99.00,664.15 L99.50,664.56 L100.00,664.96 L100.50,665.36 L101.00,665.76 L101.50,666.15 L102.00,666.54 L102.50,666.92 L103.00,667.31 L103.50,667.69 L104.00,668.06 L104.50,668.44 L105.00,668.81 L105.50,669.17 L106.00,669.54 L106.50,669.90 L107.00,670.26 L107.50,670.61 L108.00,670.96 L108.50,671.31 L109.00,671.66 L109.50,672.00 L110.00,672.34 L110.50,672.68 L111.00,673.02 L111.50,673.35 L112.00,673.68 L112.50,674.01 L113.00,674.33 L113.50,674.65 L114.00,674.97 L114.50,675.29 L115.00,675.60 L115.50,675.91 L116.00,676.22 L116.50,676.53 L117.00,676.83 L117.50,677.13 L118.00,677.43 L118.50,677.72 L119.00,678.02 L119.50,678.31 L120.00,678.60 L120.50,678.89 L121.00,679.17 L121.50,679.45 L122.00,679.73 L122.50,680.01 L123.00,680.28 L123.50,680.56 L124.00,680.83 L124.50,681.10 L125.00,681.36 L125.50,681.63 L126.00,681.89 L126.50,682.15 L127.00,682.41 L127.50,682.66 L128.00,682.92 L128.50,683.17 L129.00,683.42 L129.50,683.67 L130.00,683.91 L130.50,684.16 L131.00,684.40 L131.50,684.64 L132.00,684.88 L132.50,685.11 L133.00,685.35 L133.50,685.58 L134.00,685.81 L134.50,686.04 L135.00,686.26 L135.50,686.49 L136.00,686.71 L136.50,686.93 L137.00,687.15 L137.50,687.37 L138.00,687.58 L138.50,687.80 L139.00,688.01 L139.50,688.22 L140.00,688.43 L140.50,688.64 L141.00,688.84 L141.50,689.05 L142.00,689.25 L142.50,689.45 L143.00,689.65 L143.50,689.84 L144.00,690.04 L144.50,690.23 L145.00,690.43 L145.50,690.62 L146.00,690.81 L146.50,691.00 L147.00,691.18 L147.50,691.37 L148.00,691.55 L148.50,691.73 L149.00,691.91 L149.50,692.09 L150.00,692.27 L150.50,692.45 L151.00,692.62 L151.50,692.79 L152.00,692.97 L152.50,693.14 L153.00,693.31 L153.50,693.47 L154.00,693.64 L154.50,693.81 L155.00,693.97 L155.50,694.13 L156.00,694.29 L156.50,694.45 L157.00,694.61 L157.50,694.77 L158.00,694.92 L158.50,695.08 L159.00,695.23 L159.50,695.38 L160.00,695.54 L160.50,695.69 L161.00,695.83 L161.50,695.98 L162.00,696.13 L162.50,696.27 L163.00,696.42 L163.50,696.56 L164.00,696.70 L164.50,696.84 L165.00,696.98 L165.50,697.12 L166.00,697.26 L166.50,697.39 L167.00,697.53 L167.50,697.66 L168.00,697.79 L168.50,697.92 L169.00,698.06 L169.50,698.19 L170.00,698.31 L170.50,698.44 L171.00,698.57 L171.50,698.69 L172.00,698.82 L172.50,698.94 L173.00,699.06 L173.50,699.18 L174.00,699.30 L174.50,699.42 L175.00,699.54 L175.50,699.66 L176.00,699.78 L176.50,699.89 L177.00,700.01 L177.50,700.12 L178.00,700.23 L178.50,700.35 L179.00,700.46 L179.50,700.57 L180.00,700.68 L180.50,700.78 L181.00,700.89 L181.50,701.00 L182.00,701.10 L182.50,701.21 L183.00,701.31 L183.50,701.42 L184.00,701.52 L184.50,701.62 L185.00,701.72 L185.50,701.82 L186.00,701.92 L186.50,702.02 L187.00,702.12 L187.50,702.21 L188.00,702.31 L188.50,702.40 L189.00,702.50 L189.50,702.59 L190.00,702.68 L190.50,702.78 L191.00,702.87 L191.50,702.96 L192.00,703.05 L192.50,703.14 L193.00,703.23 L193.50,703.31 L194.00,703.40 L194.50,703.49 L195.00,703.57 L195.50,703.66 L196.00,703.74 L196.50,703.83 L197.00,703.91 L197.50,703.99 L198.00,704.07 L198.50,704.15 L199.00,704.23 L199.50,704.31 L200.00,704.39 L200.50,704.47 L201.00,704.55 L201.50,704.63 L202.00,704.70 L202.50,704.78 L203.00,704.85 L203.50,704.93 L204.00,705.00 L204.50,705.08 L205.00,705.15 L205.50,705.22 L206.00,705.29 L206.50,705.36 L207.00,705.43 L207.50,705.50 L208.00,705.57 L208.50,705.64 L209.00,705.71 L209.50,705.78 L210.00,705.85 L210.50,705.91 L211.00,705.98 L211.50,706.04 L212.00,706.11 L212.50,706.17 L213.00,706.24 L213.50,706.30 L214.00,706.36 L214.50,706.43 L215.00,706.49 L215.50,706.55 L216.00,706.61 L216.50,706.67 L217.00,706.73 L217.50,706.79 L218.00,706.85 L218.50,706.91 L219.00,706.97 L219.50,707.02 L220.00,707.08 L220.50,707.14 L221.00,707.19 L221.50,707.25 L222.00,707.30 L222.50,707.36 L223.00,707.41 L223.50,707.47 L224.00,707.52 L224.50,707.57 L225.00,707.63 L225.50,707.68 L226.00,707.73 L226.50,707.78 L227.00,707.83 L227.50,707.88 L228.00,707.93 L228.50,707.98 L229.00,708.03 L229.50,708.08 L230.00,708.13 L230.50,708.18 L231.00,708.23 L231.50,708.27 L232.00,708.32 L232.50,708.37 L233.00,708.41 L233.50,708.46 L234.00,708.51 L234.50,708.55 L235.00,708.60 L235.50,708.64 L236.00,708.68 L236.50,708.73 L237.00,708.77 L237.50,708.81 L238.00,708.86 L238.50,708.90 L239.00,708.94 L239.50,708.98 L240.00,709.02 L240.50,709.07 L241.00,709.11 L241.50,709.15 L242.00,709.19 L242.50,709.23 L243.00,709.27 L243.50,709.31 L244.00,709.34 L244.50,709.38 L245.00,709.42 L245.50,709.46 L246.00,709.50 L246.50,709.53 L247.00,709.57 L247.50,709.61 L248.00,709.64 L248.50,709.68 L249.00,709.71 L249.50,709.75 L250.00,709.78 L250.50,709.82 L251.00,709.85 L251.50,709.89 L252.00,709.92 L252.50,709.96 L253.00,709.99 L253.50,710.02 L254.00,710.06 L254.50,710.09 L255.00,710.12 L255.50,710.15 L256.00,710.19 L256.50,710.22 L257.00,710.25 L257.50,710.28 L258.00,710.31 L258.50,710.34 L259.00,710.37 L259.50,710.40 L260.00,710.43 L260.50,710.46 L261.00,710.49 L261.50,710.52 L262.00,710.55 L262.50,710.58 L263.00,710.61 L263.50,710.63 L264.00,710.66 L264.50,710.69 L265.00,710.72 L265.50,710.74 L266.00,710.77 L266.50,710.80 L267.00,710.82 L267.50,710.85 L268.00,710.88 L268.50,710.90 L269.00,710.93 L269.50,710.96 L270.00,710.98 L270.50,711.01 L271.00,711.03 L271.50,711.06 L272.00,711.08 L272.50,711.10 L273.00,711.13 L273.50,711.15 L274.00,711.18 L274.50,711.20 L275.00,711.22 L275.50,711.25 L276.00,711.27 L276.50,711.29 L277.00,711.32 L277.50,711.34 L278.00,711.36 L278.50,711.38 L279.00,711.40 L279.50,711.43 L280.00,711.45 L280.50,711.47 L281.00,711.49 L281.50,711.51 L282.00,711.53 L282.50,711.55 L283.00,711.57 L283.50,711.59 L284.00,711.61 L284.50,711.63 L285.00,711.65 L285.50,711.67 L286.00,711.69 L286.50,711.71 L287.00,711.73 L287.50,711.75 L288.00,711.77 L288.50,711.79 L289.00,711.81 L289.50,711.83" fill="none" stroke="#000" stroke-width="4.0"/>
<path d="M52.00,719.20 L52.50,719.31 L53.00,719.43 L53.50,719.54 L54.00,719.66 L54.50,719.77 L55.00,719.88 L55.50,719.99 L56.00,720.10 L56.50,720.21 L57.00,720.32 L57.50,720.43 L58.00,720.54 L58.50,720.65 L59.00,720.75 L59.50,720.86 L60.00,720.96 L60.50,721.07 L61.00,721.17 L61.50,721.28 L62.00,721.39 L62.50,721.49 L63.00,721.60 L63.50,721.71 L64.00,721.81 L64.50,721.92 L65.00,722.02 L65.50,722.13 L66.00,722.23 L66.50,722.33 L67.00,722.43 L67.50,722.53 L68.00,722.62 L68.50,722.71 L69.00,722.80 L69.50,722.89 L70.00,722.98 L70.50,723.06 L71.00,723.14 L71.50,723.21 L72.00,723.29 L72.50,723.36 L73.00,723.44 L73.50,723.51 L74.00,723.58 L74.50,723.65 L75.00,723.72 L75.50,723.78 L76.00,723.85 L76.50,723.91 L77.00,723.98 L77.50,724.04 L78.00,724.10 L78.50,724.16 L79.00,724.21 L79.50,724.27 L80.00,724.32 L80.50,724.37 L81.00,724.42 L81.50,724.47 L82.00,724.52 L82.50,724.56 L83.00,724.60 L83.50,724.64 L84.00,724.68 L84.50,724.72 L85.00,724.76 L85.50,724.80 L86.00,724.84 L86.50,724.88 L87.00,724.91 L87.50,724.95 L88.00,724.98 L88.50,725.02 L89.00,725.05 L89.50,725.08 L90.00,725.11 L90.50,725.14 L91.00,725.17 L91.50,725.19 L92.00,725.22 L92.50,725.24 L93.00,725.25 L93.50,725.27 L94.00,725.28 L94.50,725.30 L95.00,725.31 L95.50,725.31 L96.00,725.32 L96.50,725.33 L97.00,725.34 L97.50,725.35 L98.00,725.36 L98.50,725.36 L99.00,725.37 L99.50,725.38 L100.00,725.39 L100.50,725.39 L101.00,725.40 L101.50,725.41 L102.00,725.42 L102.50,725.42 L103.00,725.43 L103.50,725.44 L104.00,725.44 L104.50,725.45 L105.00,725.46 L105.50,725.46 L106.00,725.47 L106.50,725.47 L107.00,725.48 L107.50,725.49 L108.00,725.49 L108.50,725.50 L109.00,725.50 L109.50,725.51 L110.00,725.51 L110.50,725.52 L111.00,725.52 L111.50,725.53 L112.00,725.53 L112.50,725.53 L113.00,725.54 L113.50,725.54 L114.00,725.55 L114.50,725.55 L115.00,725.55 L115.50,725.56 L116.00,725.56 L116.50,725.56 L117.00,725.57 L117.50,725.57 L118.00,725.57 L118.50,725.58 L119.00,725.58 L119.50,725.58 L120.00,725.58 L120.50,725.58 L121.00,725.59 L121.50,725.59 L122.00,725.59 L122.50,725.59 L123.00,725.59 L123.50,725.59 L124.00,725.60 L124.50,725.60 L125.00,725.60 L125.50,725.60 L126.00,725.60 L126.50,725.60 L127.00,725.60 L127.50,725.60 L128.00,725.60 L128.50,725.60 L129.00,725.60 L129.50,725.60 L130.00,725.60 L130.50,725.60 L131.00,725.60 L131.50,725.60 L132.00,725.60 L132.50,725.60 L133.00,725.60 L133.50,725.60 L134.00,725.60 L134.50,725.60 L135.00,725.60 L135.50,725.60 L136.00,725.60 L136.50,725.60 L137.00,725.60 L137.50,725.60 L138.00,725.60 L138.50,725.60 L139.00,725.60 L139.50,725.60 L140.00,725.60 L140.50,725.60 L141.00,725.60 L141.50,725.60 L142.00,725.60 L142.50,725.60 L143.00,725.60 L143.50,725.60 L144.00,725.60 L144.50,725.60 L145.00,725.60 L145.50,725.60 L146.00,725.60 L146.50,725.60 L147.00,725.60 L147.50,725.60 L148.00,725.60 L148.50,725.60 L149.00,725.60 L149.50,725.60 L150.00,725.60 L150.50,725.60 L151.00,725.60 L151.50,725.60 L152.00,725.60 L152.50,725.60 L153.00,725.60 L153.50,725.60 L154.00,725.60 L154.50,725.60 L155.00,725.60 L155.50,725.60 L156.00,725.60 L156.50,725.60 L157.00,725.60 L157.50,725.60 L158.00,725.60 L158.50,725.60 L159.00,725.60 L159.50,725.60 L160.00,725.60 L160.50,725.60 L161.00,725.60 L161.50,725.60 L162.00,725.60 L162.50,725.60 L163.00,725.60 L163.50,725.60 L164.00,725.60 L164.50,725.60 L165.00,725.60 L165.50,725.60 L166.00,725.60 L166.50,725.60 L167.00,725.60 L167.50,725.60 L168.00,725.60 L168.50,725.60 L169.00,725.60 L169.50,725.60 L170.00,725.60 L170.50,725.60 L171.00,725.60 L171.50,725.60 L172.00,725.60 L172.50,725.60 L173.00,725.60 L173.50,725.60 L174.00,725.60 L174.50,725.60 L175.00,725.60 L175.50,725.60 L176.00,725.60 L176.50,725.60 L177.00,725.60 L177.50,725.60 L178.00,725.60 L178.50,725.60 L179.00,725.60 L179.50,725.60 L180.00,725.60 L180.50,725.60 L181.00,725.60 L181.50,725.60 L182.00,725.60 L182.50,725.60 L183.00,725.60 L183.50,725.60 L184.00,725.60 L184.50,725.60 L185.00,725.60 L185.50,725.60 L186.00,725.60 L186.50,725.60 L187.00,725.60 L187.50,725.60 L188.00,725.60 L188.50,725.60 L189.00,725.60 L189.50,725.60 L190.00,725.60 L190.50,725.60 L191.00,725.60 L191.50,725.60 L192.00,725.60 L192.50,725.60 L193.00,725.60 L193.50,725.60 L194.00,725.60 L194.50,725.60 L195.00,725.60 L195.50,725.60 L196.00,725.60 L196.50,725.60 L197.00,725.60 L197.50,725.60 L198.00,725.60 L198.50,725.60 L199.00,725.60 L199.50,725.60 L200.00,725.60 L200.50,725.60 L201.00,725.60 L201.50,725.60 L202.00,725.60 L202.50,725.60 L203.00,725.60 L203.50,725.60 L204.00,725.60 L204.50,725.60 L205.00,725.60 L205.50,725.60 L206.00,725.60 L206.50,725.60 L207.00,725.60 L207.50,725.60 L208.00,725.60 L208.50,725.60 L209.00,725.60 L209.50,725.60 L210.00,725.60 L210.50,725.60 L211.00,725.60 L211.50,725.60 L212.00,725.60 L212.50,725.60 L213.00,725.60 L213.50,725.60 L214.00,725.60 L214.50,725.60 L215.00,725.60 L215.50,725.60 L216.00,725.60 L216.50,725.60 L217.00,725.60 L217.50,725.60 L218.00,725.60 L218.50,725.60 L219.00,725.60 L219.50,725.60 L220.00,725.60 L220.50,725.60 L221.00,725.60 L221.50,725.60 L222.00,725.60 L222.50,725.60 L223.00,725.60 L223.50,725.60 L224.00,725.60 L224.50,725.60 L225.00,725.60 L225.50,725.60 L226.00,725.60 L226.50,725.60 L227.00,725.60 L227.50,725.60 L228.00,725.60 L228.50,725.60 L229.00,725.60 L229.50,725.60 L230.00,725.60 L230.50,725.60 L231.00,725.60 L231.50,725.60 L232.00,725.60 L232.50,725.60 L233.00,725.60 L233.50,725.60 L234.00,725.60 L234.50,725.60 L235.00,725.60 L235.50,725.60 L236.00,725.60 L236.50,725.60 L237.00,725.60 L237.50,725.60 L238.00,725.60 L238.50,725.60 L239.00,725.60 L239.50,725.60 L240.00,725.60 L240.50,725.60 L241.00,725.60 L241.50,725.60 L242.00,725.60 L242.50,725.60 L243.00,725.60 L243.50,725.60 L244.00,725.60 L244.50,725.60 L245.00,725.60 L245.50,725.60 L246.00,725.60 L246.50,725.60 L247.00,725.60 L247.50,725.60 L248.00,725.60 L248.50,725.60 L249.00,725.60 L249.50,725.60 L250.00,725.60 L250.50,725.60 L251.00,725.60 L251.50,725.60 L252.00,725.60 L252.50,725.60 L253.00,725.60 L253.50,725.60 L254.00,725.60 L254.50,725.60 L255.00,725.60 L255.50,725.60 L256.00,725.60 L256.50,725.60 L257.00,725.60 L257.50,725.60 L258.00,725.60 L258.50,725.60 L259.00,725.60 L259.50,725.60 L260.00,725.60 L260.50,725.60 L261.00,725.60 L261.50,725.60 L262.00,725.60 L262.50,725.60 L263.00,725.60 L263.50,725.60 L264.00,725.60 L264.50,725.60 L265.00,725.60 L265.50,725.60 L266.00,725.60 L266.50,725.60 L267.00,725.60 L267.50,725.60 L268.00,725.60 L268.50,725.60 L269.00,725.60 L269.50,725.60 L270.00,725.60 L270.50,725.60 L271.00,725.60 L271.50,725.60 L272.00,725.60 L272.50,725.60 L273.00,725.60 L273.50,725.60 L274.00,725.60 L274.50,725.60 L275.00,725.60 L275.50,725.60 L276.00,725.60 L276.50,725.60 L277.00,725.60 L277.50,725.60 L278.00,725.60 L278.50,725.60 L279.00,725.60 L279.50,725.60 L280.00,725.60 L280.50,725.60 L281.00,725.60 L281.50,725.60 L282.00,725.60 L282.50,725.60 L283.00,725.60 L283.50,725.60 L284.00,725.60 L284.50,725.60 L285.00,725.60 L285.50,725.60 L286.00,725.60 L286.50,725.60 L287.00,725.60 L287.50,725.60 L288.00,725.60 L288.50,725.60 L289.00,725.60 L289.50,725.60 L289.60,725.60" fill="none" stroke="#ff0000" stroke-width="4.6" stroke-linejoin="round" stroke-linecap="butt" />
</g>
<line x1="50.3" y1="534.3" x2="289.2" y2="534.3" stroke="#000" stroke-width="2.2"/>
<line x1="50.3" y1="724.9" x2="289.2" y2="724.9" stroke="#000" stroke-width="2.2"/>
<line x1="51.4" y1="533.1999999999999" x2="51.4" y2="726.0" stroke="#000" stroke-width="2.2"/>
<line x1="289.2" y1="533.1999999999999" x2="289.2" y2="726.0" stroke="#ff0000" stroke-width="2.2"/>
<line x1="51.4" y1="724.9" x2="51.4" y2="728.5" stroke="#000" stroke-width="1.9"/>
<line x1="91.03333333333333" y1="724.9" x2="91.03333333333333" y2="727.0" stroke="#000" stroke-width="1.3"/>
<line x1="130.66666666666666" y1="724.9" x2="130.66666666666666" y2="728.5" stroke="#000" stroke-width="1.9"/>
<line x1="170.29999999999998" y1="724.9" x2="170.29999999999998" y2="727.0" stroke="#000" stroke-width="1.3"/>
<line x1="209.9333333333333" y1="724.9" x2="209.9333333333333" y2="728.5" stroke="#000" stroke-width="1.9"/>
<line x1="249.56666666666666" y1="724.9" x2="249.56666666666666" y2="727.0" stroke="#000" stroke-width="1.3"/>
<line x1="289.2" y1="724.9" x2="289.2" y2="728.5" stroke="#000" stroke-width="1.9"/>
<line x1="47.8" y1="724.9" x2="51.4" y2="724.9" stroke="#000" stroke-width="1.9"/>
<line x1="49.3" y1="709.0166666666667" x2="51.4" y2="709.0166666666667" stroke="#000" stroke-width="1.3"/>
<line x1="47.8" y1="693.1333333333333" x2="51.4" y2="693.1333333333333" stroke="#000" stroke-width="1.9"/>
<line x1="49.3" y1="677.25" x2="51.4" y2="677.25" stroke="#000" stroke-width="1.3"/>
<line x1="47.8" y1="661.3666666666666" x2="51.4" y2="661.3666666666666" stroke="#000" stroke-width="1.9"/>
<line x1="49.3" y1="645.4833333333333" x2="51.4" y2="645.4833333333333" stroke="#000" stroke-width="1.3"/>
<line x1="47.8" y1="629.6" x2="51.4" y2="629.6" stroke="#000" stroke-width="1.9"/>
<line x1="49.3" y1="613.7166666666667" x2="51.4" y2="613.7166666666667" stroke="#000" stroke-width="1.3"/>
<line x1="47.8" y1="597.8333333333331" x2="51.4" y2="597.8333333333331" stroke="#000" stroke-width="1.9"/>
<line x1="49.3" y1="581.9499999999999" x2="51.4" y2="581.9499999999999" stroke="#000" stroke-width="1.3"/>
<line x1="47.8" y1="566.0666666666666" x2="51.4" y2="566.0666666666666" stroke="#000" stroke-width="1.9"/>
<line x1="49.3" y1="550.1833333333334" x2="51.4" y2="550.1833333333334" stroke="#000" stroke-width="1.3"/>
<line x1="47.8" y1="534.2999999999997" x2="51.4" y2="534.2999999999997" stroke="#000" stroke-width="1.9"/>
<line x1="289.2" y1="724.9" x2="292.8" y2="724.9" stroke="#ff0000" stroke-width="1.9"/>
<line x1="289.2" y1="705.8399999999999" x2="291.3" y2="705.8399999999999" stroke="#ff0000" stroke-width="1.3"/>
<line x1="289.2" y1="686.78" x2="292.8" y2="686.78" stroke="#ff0000" stroke-width="1.9"/>
<line x1="289.2" y1="667.7199999999999" x2="291.3" y2="667.7199999999999" stroke="#ff0000" stroke-width="1.3"/>
<line x1="289.2" y1="648.66" x2="292.8" y2="648.66" stroke="#ff0000" stroke-width="1.9"/>
<line x1="289.2" y1="629.5999999999999" x2="291.3" y2="629.5999999999999" stroke="#ff0000" stroke-width="1.3"/>
<line x1="289.2" y1="610.54" x2="292.8" y2="610.54" stroke="#ff0000" stroke-width="1.9"/>
<line x1="289.2" y1="591.48" x2="291.3" y2="591.48" stroke="#ff0000" stroke-width="1.3"/>
<line x1="289.2" y1="572.42" x2="292.8" y2="572.42" stroke="#ff0000" stroke-width="1.9"/>
<line x1="289.2" y1="553.3599999999999" x2="291.3" y2="553.3599999999999" stroke="#ff0000" stroke-width="1.3"/>
<line x1="289.2" y1="534.3" x2="292.8" y2="534.3" stroke="#ff0000" stroke-width="1.9"/>
<text x="51.4" y="742.9" font-size="11.6" fill="#000" text-anchor="middle" font-weight="normal" >400</text>
<text x="130.7" y="742.9" font-size="11.6" fill="#000" text-anchor="middle" font-weight="normal" >600</text>
<text x="209.9" y="742.9" font-size="11.6" fill="#000" text-anchor="middle" font-weight="normal" >800</text>
<text x="289.2" y="742.9" font-size="11.6" fill="#000" text-anchor="middle" font-weight="normal" >1000</text>
<text x="42.9" y="728.8" font-size="11.6" fill="#000" text-anchor="end" font-weight="normal" >1.90</text>
<text x="42.9" y="697.0" font-size="11.6" fill="#000" text-anchor="end" font-weight="normal" >1.95</text>
<text x="42.9" y="665.3" font-size="11.6" fill="#000" text-anchor="end" font-weight="normal" >2.00</text>
<text x="42.9" y="633.5" font-size="11.6" fill="#000" text-anchor="end" font-weight="normal" >2.05</text>
<text x="42.9" y="601.7" font-size="11.6" fill="#000" text-anchor="end" font-weight="normal" >2.10</text>
<text x="42.9" y="570.0" font-size="11.6" fill="#000" text-anchor="end" font-weight="normal" >2.15</text>
<text x="42.9" y="538.2" font-size="11.6" fill="#000" text-anchor="end" font-weight="normal" >2.20</text>
<text x="299" y="728.8" font-size="11.6" fill="#ff0000" text-anchor="start" font-weight="normal" >0.0</text>
<text x="299" y="690.7" font-size="11.6" fill="#ff0000" text-anchor="start" font-weight="normal" >0.2</text>
<text x="299" y="652.6" font-size="11.6" fill="#ff0000" text-anchor="start" font-weight="normal" >0.4</text>
<text x="299" y="614.4" font-size="11.6" fill="#ff0000" text-anchor="start" font-weight="normal" >0.6</text>
<text x="299" y="576.3" font-size="11.6" fill="#ff0000" text-anchor="start" font-weight="normal" >0.8</text>
<text x="299" y="538.2" font-size="11.6" fill="#ff0000" text-anchor="start" font-weight="normal" >1.0</text>
<text x="9.5" y="629.2" font-size="11.65" fill="#000" text-anchor="middle" font-weight="normal" transform="rotate(-90 9.5 629.2)" >Refractive index, n</text>
<text x="332.9" y="629.4" font-size="11.65" fill="#ff0000" text-anchor="middle" font-weight="normal" transform="rotate(-90 332.9 629.4)" >Extinction coefficient, k</text>
<text x="170.5" y="761.5" font-size="11.65" fill="#000" text-anchor="middle" font-weight="normal" >Wavelength (nm)</text>
<line x1="140.6" y1="540.2" x2="168.4" y2="540.2" stroke="#000" stroke-width="2.6"/>
<line x1="140.6" y1="555.1" x2="168.4" y2="555.1" stroke="#ff0000" stroke-width="2.6"/>
<text x="172" y="543.8" font-size="10" fill="#000" text-anchor="start" font-weight="normal" >Refractive index</text>
<text x="172" y="558.7" font-size="10" fill="#ff0000" text-anchor="start" font-weight="normal" >Extinction coefficient</text>
<text x="-0.5" y="532.5" font-size="16" fill="#000" text-anchor="start" font-weight="bold" >e</text>
<g fill="none" stroke="#000" stroke-width="1.0"><circle cx="401.60" cy="598.00" r="1.5"/><circle cx="402.63" cy="598.16" r="1.5"/><circle cx="403.67" cy="598.29" r="1.5"/><circle cx="404.70" cy="598.39" r="1.5"/><circle cx="405.73" cy="598.47" r="1.5"/><circle cx="406.77" cy="598.52" r="1.5"/><circle cx="407.80" cy="598.56" r="1.5"/><circle cx="408.83" cy="598.58" r="1.5"/><circle cx="409.87" cy="598.59" r="1.5"/><circle cx="410.90" cy="598.60" r="1.5"/><circle cx="411.93" cy="598.60" r="1.5"/><circle cx="412.97" cy="597.37" r="1.5"/><circle cx="414.00" cy="596.10" r="1.5"/><circle cx="415.04" cy="596.10" r="1.5"/><circle cx="416.07" cy="596.10" r="1.5"/><circle cx="417.10" cy="596.10" r="1.5"/><circle cx="418.14" cy="596.10" r="1.5"/><circle cx="419.17" cy="596.10" r="1.5"/><circle cx="420.20" cy="596.10" r="1.5"/><circle cx="421.24" cy="596.10" r="1.5"/><circle cx="422.27" cy="596.10" r="1.5"/><circle cx="423.30" cy="596.10" r="1.5"/><circle cx="424.34" cy="596.20" r="1.5"/><circle cx="425.37" cy="596.55" r="1.5"/><circle cx="426.40" cy="597.09" r="1.5"/><circle cx="427.44" cy="597.76" r="1.5"/><circle cx="428.47" cy="598.49" r="1.5"/><circle cx="429.50" cy="599.21" r="1.5"/><circle cx="430.54" cy="600.01" r="1.5"/><circle cx="431.57" cy="600.99" r="1.5"/><circle cx="432.60" cy="602.24" r="1.5"/><circle cx="433.64" cy="604.04" r="1.5"/><circle cx="434.67" cy="606.91" r="1.5"/><circle cx="435.70" cy="610.11" r="1.5"/><circle cx="436.74" cy="613.53" r="1.5"/><circle cx="437.77" cy="617.20" r="1.5"/><circle cx="438.81" cy="620.15" r="1.5"/><circle cx="439.84" cy="622.44" r="1.5"/><circle cx="440.87" cy="624.42" r="1.5"/><circle cx="441.91" cy="625.96" r="1.5"/><circle cx="442.94" cy="627.01" r="1.5"/><circle cx="443.97" cy="627.88" r="1.5"/><circle cx="445.01" cy="628.37" r="1.5"/><circle cx="446.04" cy="627.43" r="1.5"/><circle cx="447.07" cy="623.92" r="1.5"/><circle cx="448.11" cy="619.87" r="1.5"/><circle cx="449.14" cy="615.52" r="1.5"/><circle cx="450.17" cy="611.83" r="1.5"/><circle cx="451.21" cy="609.24" r="1.5"/><circle cx="452.24" cy="607.30" r="1.5"/><circle cx="453.27" cy="606.37" r="1.5"/><circle cx="454.31" cy="605.81" r="1.5"/><circle cx="455.34" cy="605.38" r="1.5"/><circle cx="456.37" cy="605.03" r="1.5"/><circle cx="457.41" cy="604.75" r="1.5"/><circle cx="458.44" cy="604.52" r="1.5"/><circle cx="459.47" cy="604.31" r="1.5"/><circle cx="460.51" cy="604.10" r="1.5"/><circle cx="461.54" cy="603.91" r="1.5"/><circle cx="462.58" cy="603.74" r="1.5"/><circle cx="463.61" cy="603.58" r="1.5"/><circle cx="464.64" cy="603.45" r="1.5"/><circle cx="465.68" cy="603.33" r="1.5"/><circle cx="466.71" cy="603.23" r="1.5"/><circle cx="467.74" cy="603.16" r="1.5"/><circle cx="468.78" cy="603.10" r="1.5"/><circle cx="469.81" cy="603.06" r="1.5"/><circle cx="470.84" cy="603.03" r="1.5"/><circle cx="471.88" cy="602.99" r="1.5"/><circle cx="472.91" cy="602.94" r="1.5"/><circle cx="473.94" cy="602.87" r="1.5"/><circle cx="474.98" cy="602.74" r="1.5"/><circle cx="476.01" cy="602.11" r="1.5"/><circle cx="477.04" cy="601.22" r="1.5"/><circle cx="478.08" cy="600.58" r="1.5"/><circle cx="479.11" cy="600.73" r="1.5"/><circle cx="480.14" cy="601.78" r="1.5"/><circle cx="481.18" cy="603.03" r="1.5"/><circle cx="482.21" cy="603.69" r="1.5"/><circle cx="483.24" cy="603.42" r="1.5"/><circle cx="484.28" cy="602.64" r="1.5"/><circle cx="485.31" cy="601.64" r="1.5"/><circle cx="486.35" cy="600.68" r="1.5"/><circle cx="487.38" cy="600.03" r="1.5"/><circle cx="488.41" cy="599.92" r="1.5"/><circle cx="489.45" cy="600.11" r="1.5"/><circle cx="490.48" cy="600.46" r="1.5"/><circle cx="491.51" cy="600.89" r="1.5"/><circle cx="492.55" cy="601.35" r="1.5"/><circle cx="493.58" cy="601.76" r="1.5"/><circle cx="494.61" cy="602.14" r="1.5"/><circle cx="495.65" cy="602.55" r="1.5"/><circle cx="496.68" cy="602.98" r="1.5"/><circle cx="497.71" cy="603.38" r="1.5"/><circle cx="498.75" cy="603.72" r="1.5"/><circle cx="499.78" cy="603.96" r="1.5"/><circle cx="500.81" cy="604.12" r="1.5"/><circle cx="501.85" cy="604.25" r="1.5"/><circle cx="502.88" cy="604.36" r="1.5"/><circle cx="503.91" cy="604.45" r="1.5"/><circle cx="504.95" cy="604.53" r="1.5"/><circle cx="505.98" cy="604.61" r="1.5"/><circle cx="507.01" cy="604.68" r="1.5"/><circle cx="508.05" cy="604.75" r="1.5"/><circle cx="509.08" cy="604.82" r="1.5"/><circle cx="510.12" cy="604.90" r="1.5"/><circle cx="511.15" cy="604.99" r="1.5"/><circle cx="512.18" cy="605.09" r="1.5"/><circle cx="513.22" cy="605.21" r="1.5"/><circle cx="514.25" cy="605.36" r="1.5"/><circle cx="515.28" cy="605.53" r="1.5"/><circle cx="516.32" cy="605.70" r="1.5"/><circle cx="517.35" cy="605.86" r="1.5"/><circle cx="518.38" cy="605.98" r="1.5"/><circle cx="519.42" cy="606.07" r="1.5"/><circle cx="520.45" cy="606.10" r="1.5"/><circle cx="521.48" cy="606.07" r="1.5"/><circle cx="522.52" cy="605.99" r="1.5"/><circle cx="523.55" cy="605.87" r="1.5"/><circle cx="524.58" cy="605.73" r="1.5"/><circle cx="525.62" cy="605.56" r="1.5"/><circle cx="526.65" cy="605.40" r="1.5"/><circle cx="527.68" cy="605.23" r="1.5"/><circle cx="528.72" cy="605.08" r="1.5"/><circle cx="529.75" cy="604.91" r="1.5"/><circle cx="530.78" cy="604.71" r="1.5"/><circle cx="531.82" cy="604.50" r="1.5"/><circle cx="532.85" cy="604.31" r="1.5"/><circle cx="533.89" cy="604.14" r="1.5"/><circle cx="534.92" cy="604.03" r="1.5"/><circle cx="535.95" cy="604.03" r="1.5"/><circle cx="536.99" cy="605.23" r="1.5"/><circle cx="538.02" cy="607.01" r="1.5"/><circle cx="539.05" cy="607.74" r="1.5"/><circle cx="540.09" cy="607.87" r="1.5"/><circle cx="541.12" cy="607.97" r="1.5"/><circle cx="542.15" cy="608.05" r="1.5"/><circle cx="543.19" cy="608.11" r="1.5"/><circle cx="544.22" cy="608.16" r="1.5"/><circle cx="545.25" cy="608.20" r="1.5"/><circle cx="546.29" cy="608.23" r="1.5"/><circle cx="547.32" cy="608.27" r="1.5"/><circle cx="548.35" cy="608.31" r="1.5"/><circle cx="549.39" cy="608.37" r="1.5"/><circle cx="550.42" cy="608.44" r="1.5"/><circle cx="551.45" cy="608.54" r="1.5"/><circle cx="552.49" cy="608.65" r="1.5"/><circle cx="553.52" cy="608.79" r="1.5"/><circle cx="554.55" cy="608.95" r="1.5"/><circle cx="555.59" cy="609.12" r="1.5"/><circle cx="556.62" cy="609.30" r="1.5"/><circle cx="557.66" cy="609.49" r="1.5"/><circle cx="558.69" cy="609.68" r="1.5"/><circle cx="559.72" cy="609.88" r="1.5"/><circle cx="560.76" cy="610.05" r="1.5"/><circle cx="561.79" cy="610.23" r="1.5"/><circle cx="562.82" cy="610.43" r="1.5"/><circle cx="563.86" cy="610.68" r="1.5"/><circle cx="564.89" cy="611.01" r="1.5"/><circle cx="565.92" cy="611.59" r="1.5"/><circle cx="566.96" cy="613.09" r="1.5"/><circle cx="567.99" cy="614.88" r="1.5"/><circle cx="569.02" cy="616.13" r="1.5"/><circle cx="570.06" cy="616.28" r="1.5"/><circle cx="571.09" cy="616.17" r="1.5"/><circle cx="572.12" cy="616.02" r="1.5"/><circle cx="573.16" cy="615.91" r="1.5"/><circle cx="574.19" cy="615.96" r="1.5"/><circle cx="575.22" cy="616.35" r="1.5"/><circle cx="576.26" cy="617.02" r="1.5"/><circle cx="577.29" cy="617.90" r="1.5"/><circle cx="578.32" cy="618.93" r="1.5"/><circle cx="579.36" cy="620.03" r="1.5"/><circle cx="580.39" cy="621.13" r="1.5"/><circle cx="581.43" cy="622.15" r="1.5"/><circle cx="582.46" cy="623.08" r="1.5"/><circle cx="583.49" cy="624.02" r="1.5"/><circle cx="584.53" cy="624.99" r="1.5"/><circle cx="585.56" cy="625.99" r="1.5"/><circle cx="586.59" cy="627.02" r="1.5"/><circle cx="587.63" cy="628.09" r="1.5"/><circle cx="588.66" cy="629.20" r="1.5"/><circle cx="589.69" cy="630.36" r="1.5"/><circle cx="590.73" cy="631.59" r="1.5"/><circle cx="591.76" cy="632.90" r="1.5"/><circle cx="592.79" cy="634.29" r="1.5"/><circle cx="593.83" cy="635.72" r="1.5"/><circle cx="594.86" cy="637.18" r="1.5"/><circle cx="595.89" cy="638.65" r="1.5"/><circle cx="596.93" cy="640.25" r="1.5"/><circle cx="597.96" cy="642.02" r="1.5"/><circle cx="598.99" cy="643.65" r="1.5"/><circle cx="600.03" cy="644.84" r="1.5"/><circle cx="601.06" cy="645.62" r="1.5"/><circle cx="602.09" cy="646.31" r="1.5"/><circle cx="603.13" cy="646.91" r="1.5"/><circle cx="604.16" cy="647.44" r="1.5"/><circle cx="605.20" cy="647.91" r="1.5"/><circle cx="606.23" cy="648.31" r="1.5"/><circle cx="607.26" cy="648.68" r="1.5"/><circle cx="608.30" cy="649.00" r="1.5"/><circle cx="609.33" cy="649.29" r="1.5"/><circle cx="610.36" cy="649.55" r="1.5"/><circle cx="611.40" cy="649.79" r="1.5"/><circle cx="612.43" cy="650.01" r="1.5"/><circle cx="613.46" cy="650.21" r="1.5"/><circle cx="614.50" cy="650.40" r="1.5"/><circle cx="615.53" cy="650.58" r="1.5"/><circle cx="616.56" cy="650.76" r="1.5"/><circle cx="617.60" cy="650.94" r="1.5"/><circle cx="618.63" cy="651.12" r="1.5"/><circle cx="619.66" cy="651.27" r="1.5"/><circle cx="620.70" cy="651.38" r="1.5"/><circle cx="621.73" cy="651.49" r="1.5"/><circle cx="622.76" cy="651.63" r="1.5"/><circle cx="623.80" cy="651.84" r="1.5"/><circle cx="624.83" cy="652.18" r="1.5"/><circle cx="625.86" cy="653.88" r="1.5"/><circle cx="626.90" cy="655.20" r="1.5"/><circle cx="627.93" cy="655.63" r="1.5"/><circle cx="628.97" cy="655.93" r="1.5"/><circle cx="630.00" cy="656.15" r="1.5"/><circle cx="631.03" cy="656.36" r="1.5"/><circle cx="632.07" cy="656.62" r="1.5"/><circle cx="633.10" cy="656.91" r="1.5"/><circle cx="634.13" cy="657.19" r="1.5"/><circle cx="635.17" cy="657.48" r="1.5"/><circle cx="636.20" cy="657.76" r="1.5"/><circle cx="637.23" cy="658.04" r="1.5"/><circle cx="638.27" cy="658.32" r="1.5"/><circle cx="639.30" cy="658.60" r="1.5"/></g>
<g fill="none" stroke="#ff0000" stroke-width="1.0"><circle cx="401.60" cy="724.00" r="1.5"/><circle cx="402.63" cy="723.71" r="1.5"/><circle cx="403.67" cy="723.39" r="1.5"/><circle cx="404.70" cy="723.05" r="1.5"/><circle cx="405.73" cy="722.68" r="1.5"/><circle cx="406.77" cy="722.30" r="1.5"/><circle cx="407.80" cy="721.91" r="1.5"/><circle cx="408.83" cy="721.49" r="1.5"/><circle cx="409.87" cy="721.07" r="1.5"/><circle cx="410.90" cy="720.62" r="1.5"/><circle cx="411.93" cy="720.13" r="1.5"/><circle cx="412.97" cy="719.60" r="1.5"/><circle cx="414.00" cy="719.05" r="1.5"/><circle cx="415.04" cy="718.49" r="1.5"/><circle cx="416.07" cy="717.93" r="1.5"/><circle cx="417.10" cy="717.40" r="1.5"/><circle cx="418.14" cy="716.90" r="1.5"/><circle cx="419.17" cy="716.42" r="1.5"/><circle cx="420.20" cy="715.95" r="1.5"/><circle cx="421.24" cy="715.49" r="1.5"/><circle cx="422.27" cy="715.04" r="1.5"/><circle cx="423.30" cy="714.58" r="1.5"/><circle cx="424.34" cy="714.12" r="1.5"/><circle cx="425.37" cy="713.64" r="1.5"/><circle cx="426.40" cy="713.15" r="1.5"/><circle cx="427.44" cy="712.63" r="1.5"/><circle cx="428.47" cy="712.08" r="1.5"/><circle cx="429.50" cy="711.52" r="1.5"/><circle cx="430.54" cy="710.95" r="1.5"/><circle cx="431.57" cy="710.39" r="1.5"/><circle cx="432.60" cy="709.84" r="1.5"/><circle cx="433.64" cy="709.32" r="1.5"/><circle cx="434.67" cy="708.84" r="1.5"/><circle cx="435.70" cy="708.40" r="1.5"/><circle cx="436.74" cy="707.97" r="1.5"/><circle cx="437.77" cy="707.58" r="1.5"/><circle cx="438.81" cy="707.25" r="1.5"/><circle cx="439.84" cy="706.97" r="1.5"/><circle cx="440.87" cy="706.72" r="1.5"/><circle cx="441.91" cy="706.60" r="1.5"/><circle cx="442.94" cy="706.64" r="1.5"/><circle cx="443.97" cy="706.76" r="1.5"/><circle cx="445.01" cy="706.90" r="1.5"/><circle cx="446.04" cy="707.16" r="1.5"/><circle cx="447.07" cy="707.39" r="1.5"/><circle cx="448.11" cy="707.16" r="1.5"/><circle cx="449.14" cy="706.46" r="1.5"/><circle cx="450.17" cy="705.64" r="1.5"/><circle cx="451.21" cy="704.57" r="1.5"/><circle cx="452.24" cy="703.45" r="1.5"/><circle cx="453.27" cy="702.48" r="1.5"/><circle cx="454.31" cy="701.56" r="1.5"/><circle cx="455.34" cy="700.67" r="1.5"/><circle cx="456.37" cy="699.79" r="1.5"/><circle cx="457.41" cy="698.93" r="1.5"/><circle cx="458.44" cy="698.08" r="1.5"/><circle cx="459.47" cy="697.23" r="1.5"/><circle cx="460.51" cy="696.37" r="1.5"/><circle cx="461.54" cy="695.49" r="1.5"/><circle cx="462.58" cy="694.62" r="1.5"/><circle cx="463.61" cy="693.75" r="1.5"/><circle cx="464.64" cy="692.89" r="1.5"/><circle cx="465.68" cy="692.02" r="1.5"/><circle cx="466.71" cy="691.15" r="1.5"/><circle cx="467.74" cy="690.26" r="1.5"/><circle cx="468.78" cy="689.37" r="1.5"/><circle cx="469.81" cy="688.46" r="1.5"/><circle cx="470.84" cy="687.53" r="1.5"/><circle cx="471.88" cy="686.59" r="1.5"/><circle cx="472.91" cy="685.65" r="1.5"/><circle cx="473.94" cy="684.68" r="1.5"/><circle cx="474.98" cy="683.71" r="1.5"/><circle cx="476.01" cy="682.73" r="1.5"/><circle cx="477.04" cy="681.73" r="1.5"/><circle cx="478.08" cy="680.72" r="1.5"/><circle cx="479.11" cy="679.69" r="1.5"/><circle cx="480.14" cy="678.64" r="1.5"/><circle cx="481.18" cy="677.57" r="1.5"/><circle cx="482.21" cy="676.49" r="1.5"/><circle cx="483.24" cy="675.39" r="1.5"/><circle cx="484.28" cy="674.29" r="1.5"/><circle cx="485.31" cy="673.17" r="1.5"/><circle cx="486.35" cy="672.06" r="1.5"/><circle cx="487.38" cy="670.94" r="1.5"/><circle cx="488.41" cy="669.82" r="1.5"/><circle cx="489.45" cy="668.69" r="1.5"/><circle cx="490.48" cy="667.56" r="1.5"/><circle cx="491.51" cy="666.42" r="1.5"/><circle cx="492.55" cy="665.27" r="1.5"/><circle cx="493.58" cy="664.12" r="1.5"/><circle cx="494.61" cy="662.98" r="1.5"/><circle cx="495.65" cy="661.83" r="1.5"/><circle cx="496.68" cy="660.69" r="1.5"/><circle cx="497.71" cy="659.54" r="1.5"/><circle cx="498.75" cy="658.39" r="1.5"/><circle cx="499.78" cy="657.23" r="1.5"/><circle cx="500.81" cy="656.07" r="1.5"/><circle cx="501.85" cy="654.92" r="1.5"/><circle cx="502.88" cy="653.78" r="1.5"/><circle cx="503.91" cy="652.66" r="1.5"/><circle cx="504.95" cy="651.56" r="1.5"/><circle cx="505.98" cy="650.49" r="1.5"/><circle cx="507.01" cy="649.44" r="1.5"/><circle cx="508.05" cy="648.41" r="1.5"/><circle cx="509.08" cy="647.39" r="1.5"/><circle cx="510.12" cy="646.38" r="1.5"/><circle cx="511.15" cy="645.36" r="1.5"/><circle cx="512.18" cy="644.34" r="1.5"/><circle cx="513.22" cy="643.30" r="1.5"/><circle cx="514.25" cy="642.24" r="1.5"/><circle cx="515.28" cy="641.15" r="1.5"/><circle cx="516.32" cy="640.04" r="1.5"/><circle cx="517.35" cy="638.93" r="1.5"/><circle cx="518.38" cy="637.82" r="1.5"/><circle cx="519.42" cy="636.72" r="1.5"/><circle cx="520.45" cy="635.65" r="1.5"/><circle cx="521.48" cy="634.59" r="1.5"/><circle cx="522.52" cy="633.54" r="1.5"/><circle cx="523.55" cy="632.49" r="1.5"/><circle cx="524.58" cy="631.46" r="1.5"/><circle cx="525.62" cy="630.43" r="1.5"/><circle cx="526.65" cy="629.40" r="1.5"/><circle cx="527.68" cy="628.39" r="1.5"/><circle cx="528.72" cy="627.39" r="1.5"/><circle cx="529.75" cy="626.40" r="1.5"/><circle cx="530.78" cy="625.42" r="1.5"/><circle cx="531.82" cy="624.45" r="1.5"/><circle cx="532.85" cy="623.49" r="1.5"/><circle cx="533.89" cy="622.54" r="1.5"/><circle cx="534.92" cy="621.60" r="1.5"/><circle cx="535.95" cy="620.67" r="1.5"/><circle cx="536.99" cy="619.75" r="1.5"/><circle cx="538.02" cy="618.83" r="1.5"/><circle cx="539.05" cy="617.92" r="1.5"/><circle cx="540.09" cy="617.01" r="1.5"/><circle cx="541.12" cy="616.11" r="1.5"/><circle cx="542.15" cy="615.21" r="1.5"/><circle cx="543.19" cy="614.31" r="1.5"/><circle cx="544.22" cy="613.42" r="1.5"/><circle cx="545.25" cy="612.54" r="1.5"/><circle cx="546.29" cy="611.66" r="1.5"/><circle cx="547.32" cy="610.79" r="1.5"/><circle cx="548.35" cy="609.93" r="1.5"/><circle cx="549.39" cy="609.08" r="1.5"/><circle cx="550.42" cy="608.24" r="1.5"/><circle cx="551.45" cy="607.42" r="1.5"/><circle cx="552.49" cy="606.61" r="1.5"/><circle cx="553.52" cy="605.80" r="1.5"/><circle cx="554.55" cy="605.01" r="1.5"/><circle cx="555.59" cy="604.23" r="1.5"/><circle cx="556.62" cy="603.45" r="1.5"/><circle cx="557.66" cy="602.68" r="1.5"/><circle cx="558.69" cy="601.91" r="1.5"/><circle cx="559.72" cy="601.15" r="1.5"/><circle cx="560.76" cy="600.40" r="1.5"/><circle cx="561.79" cy="599.64" r="1.5"/><circle cx="562.82" cy="598.88" r="1.5"/><circle cx="563.86" cy="598.12" r="1.5"/><circle cx="564.89" cy="597.35" r="1.5"/><circle cx="565.92" cy="596.60" r="1.5"/><circle cx="566.96" cy="595.85" r="1.5"/><circle cx="567.99" cy="595.12" r="1.5"/><circle cx="569.02" cy="594.40" r="1.5"/><circle cx="570.06" cy="593.71" r="1.5"/><circle cx="571.09" cy="593.05" r="1.5"/><circle cx="572.12" cy="592.42" r="1.5"/><circle cx="573.16" cy="591.82" r="1.5"/><circle cx="574.19" cy="591.24" r="1.5"/><circle cx="575.22" cy="590.67" r="1.5"/><circle cx="576.26" cy="590.12" r="1.5"/><circle cx="577.29" cy="589.58" r="1.5"/><circle cx="578.32" cy="589.05" r="1.5"/><circle cx="579.36" cy="588.52" r="1.5"/><circle cx="580.39" cy="587.98" r="1.5"/><circle cx="581.43" cy="587.44" r="1.5"/><circle cx="582.46" cy="586.90" r="1.5"/><circle cx="583.49" cy="586.35" r="1.5"/><circle cx="584.53" cy="585.81" r="1.5"/><circle cx="585.56" cy="585.26" r="1.5"/><circle cx="586.59" cy="584.72" r="1.5"/><circle cx="587.63" cy="584.18" r="1.5"/><circle cx="588.66" cy="583.65" r="1.5"/><circle cx="589.69" cy="583.13" r="1.5"/><circle cx="590.73" cy="582.61" r="1.5"/><circle cx="591.76" cy="582.11" r="1.5"/><circle cx="592.79" cy="581.63" r="1.5"/><circle cx="593.83" cy="581.15" r="1.5"/><circle cx="594.86" cy="580.68" r="1.5"/><circle cx="595.89" cy="580.21" r="1.5"/><circle cx="596.93" cy="579.76" r="1.5"/><circle cx="597.96" cy="579.31" r="1.5"/><circle cx="598.99" cy="578.86" r="1.5"/><circle cx="600.03" cy="578.42" r="1.5"/><circle cx="601.06" cy="577.98" r="1.5"/><circle cx="602.09" cy="577.54" r="1.5"/><circle cx="603.13" cy="577.11" r="1.5"/><circle cx="604.16" cy="576.69" r="1.5"/><circle cx="605.20" cy="576.27" r="1.5"/><circle cx="606.23" cy="575.85" r="1.5"/><circle cx="607.26" cy="575.44" r="1.5"/><circle cx="608.30" cy="575.03" r="1.5"/><circle cx="609.33" cy="574.62" r="1.5"/><circle cx="610.36" cy="574.21" r="1.5"/><circle cx="611.40" cy="573.80" r="1.5"/><circle cx="612.43" cy="573.39" r="1.5"/><circle cx="613.46" cy="572.97" r="1.5"/><circle cx="614.50" cy="572.55" r="1.5"/><circle cx="615.53" cy="572.13" r="1.5"/><circle cx="616.56" cy="571.71" r="1.5"/><circle cx="617.60" cy="571.28" r="1.5"/><circle cx="618.63" cy="570.87" r="1.5"/><circle cx="619.66" cy="570.45" r="1.5"/><circle cx="620.70" cy="570.04" r="1.5"/><circle cx="621.73" cy="569.63" r="1.5"/><circle cx="622.76" cy="569.24" r="1.5"/><circle cx="623.80" cy="568.84" r="1.5"/><circle cx="624.83" cy="568.44" r="1.5"/><circle cx="625.86" cy="568.04" r="1.5"/><circle cx="626.90" cy="567.64" r="1.5"/><circle cx="627.93" cy="567.25" r="1.5"/><circle cx="628.97" cy="566.86" r="1.5"/><circle cx="630.00" cy="566.50" r="1.5"/><circle cx="631.03" cy="566.15" r="1.5"/><circle cx="632.07" cy="565.82" r="1.5"/><circle cx="633.10" cy="565.51" r="1.5"/><circle cx="634.13" cy="565.23" r="1.5"/><circle cx="635.17" cy="564.95" r="1.5"/><circle cx="636.20" cy="564.69" r="1.5"/><circle cx="637.23" cy="564.45" r="1.5"/><circle cx="638.27" cy="564.22" r="1.5"/><circle cx="639.30" cy="564.00" r="1.5"/></g>
<line x1="399.9" y1="533.9" x2="638.9" y2="533.9" stroke="#000" stroke-width="2.2"/>
<line x1="399.9" y1="725.2" x2="638.9" y2="725.2" stroke="#000" stroke-width="2.2"/>
<line x1="401" y1="532.8" x2="401" y2="726.3000000000001" stroke="#000" stroke-width="2.2"/>
<line x1="638.9" y1="532.8" x2="638.9" y2="726.3000000000001" stroke="#ff0000" stroke-width="2.2"/>
<line x1="401.0" y1="725.2" x2="401.0" y2="728.8000000000001" stroke="#000" stroke-width="1.9"/>
<line x1="426.85869565217394" y1="725.2" x2="426.85869565217394" y2="727.3000000000001" stroke="#000" stroke-width="1.3"/>
<line x1="452.7173913043478" y1="725.2" x2="452.7173913043478" y2="728.8000000000001" stroke="#000" stroke-width="1.9"/>
<line x1="478.57608695652175" y1="725.2" x2="478.57608695652175" y2="727.3000000000001" stroke="#000" stroke-width="1.3"/>
<line x1="504.4347826086956" y1="725.2" x2="504.4347826086956" y2="728.8000000000001" stroke="#000" stroke-width="1.9"/>
<line x1="530.2934782608695" y1="725.2" x2="530.2934782608695" y2="727.3000000000001" stroke="#000" stroke-width="1.3"/>
<line x1="556.1521739130435" y1="725.2" x2="556.1521739130435" y2="728.8000000000001" stroke="#000" stroke-width="1.9"/>
<line x1="582.0108695652174" y1="725.2" x2="582.0108695652174" y2="727.3000000000001" stroke="#000" stroke-width="1.3"/>
<line x1="607.8695652173913" y1="725.2" x2="607.8695652173913" y2="728.8000000000001" stroke="#000" stroke-width="1.9"/>
<line x1="633.7282608695652" y1="725.2" x2="633.7282608695652" y2="727.3000000000001" stroke="#000" stroke-width="1.3"/>
<line x1="397.4" y1="725.2" x2="401" y2="725.2" stroke="#000" stroke-width="1.9"/>
<line x1="398.9" y1="715.635" x2="401" y2="715.635" stroke="#000" stroke-width="1.3"/>
<line x1="397.4" y1="706.07" x2="401" y2="706.07" stroke="#000" stroke-width="1.9"/>
<line x1="398.9" y1="696.505" x2="401" y2="696.505" stroke="#000" stroke-width="1.3"/>
<line x1="397.4" y1="686.94" x2="401" y2="686.94" stroke="#000" stroke-width="1.9"/>
<line x1="398.9" y1="677.375" x2="401" y2="677.375" stroke="#000" stroke-width="1.3"/>
<line x1="397.4" y1="667.8100000000001" x2="401" y2="667.8100000000001" stroke="#000" stroke-width="1.9"/>
<line x1="398.9" y1="658.245" x2="401" y2="658.245" stroke="#000" stroke-width="1.3"/>
<line x1="397.4" y1="648.6800000000001" x2="401" y2="648.6800000000001" stroke="#000" stroke-width="1.9"/>
<line x1="398.9" y1="639.115" x2="401" y2="639.115" stroke="#000" stroke-width="1.3"/>
<line x1="397.4" y1="629.55" x2="401" y2="629.55" stroke="#000" stroke-width="1.9"/>
<line x1="398.9" y1="619.985" x2="401" y2="619.985" stroke="#000" stroke-width="1.3"/>
<line x1="397.4" y1="610.42" x2="401" y2="610.42" stroke="#000" stroke-width="1.9"/>
<line x1="398.9" y1="600.855" x2="401" y2="600.855" stroke="#000" stroke-width="1.3"/>
<line x1="397.4" y1="591.29" x2="401" y2="591.29" stroke="#000" stroke-width="1.9"/>
<line x1="398.9" y1="581.725" x2="401" y2="581.725" stroke="#000" stroke-width="1.3"/>
<line x1="397.4" y1="572.16" x2="401" y2="572.16" stroke="#000" stroke-width="1.9"/>
<line x1="398.9" y1="562.595" x2="401" y2="562.595" stroke="#000" stroke-width="1.3"/>
<line x1="397.4" y1="553.03" x2="401" y2="553.03" stroke="#000" stroke-width="1.9"/>
<line x1="398.9" y1="543.4649999999999" x2="401" y2="543.4649999999999" stroke="#000" stroke-width="1.3"/>
<line x1="397.4" y1="533.9" x2="401" y2="533.9" stroke="#000" stroke-width="1.9"/>
<line x1="638.9" y1="725.2" x2="642.5" y2="725.2" stroke="#ff0000" stroke-width="1.9"/>
<line x1="638.9" y1="715.635" x2="641.0" y2="715.635" stroke="#ff0000" stroke-width="1.3"/>
<line x1="638.9" y1="706.07" x2="642.5" y2="706.07" stroke="#ff0000" stroke-width="1.9"/>
<line x1="638.9" y1="696.505" x2="641.0" y2="696.505" stroke="#ff0000" stroke-width="1.3"/>
<line x1="638.9" y1="686.94" x2="642.5" y2="686.94" stroke="#ff0000" stroke-width="1.9"/>
<line x1="638.9" y1="677.375" x2="641.0" y2="677.375" stroke="#ff0000" stroke-width="1.3"/>
<line x1="638.9" y1="667.8100000000001" x2="642.5" y2="667.8100000000001" stroke="#ff0000" stroke-width="1.9"/>
<line x1="638.9" y1="658.245" x2="641.0" y2="658.245" stroke="#ff0000" stroke-width="1.3"/>
<line x1="638.9" y1="648.6800000000001" x2="642.5" y2="648.6800000000001" stroke="#ff0000" stroke-width="1.9"/>
<line x1="638.9" y1="639.115" x2="641.0" y2="639.115" stroke="#ff0000" stroke-width="1.3"/>
<line x1="638.9" y1="629.55" x2="642.5" y2="629.55" stroke="#ff0000" stroke-width="1.9"/>
<line x1="638.9" y1="619.985" x2="641.0" y2="619.985" stroke="#ff0000" stroke-width="1.3"/>
<line x1="638.9" y1="610.42" x2="642.5" y2="610.42" stroke="#ff0000" stroke-width="1.9"/>
<line x1="638.9" y1="600.855" x2="641.0" y2="600.855" stroke="#ff0000" stroke-width="1.3"/>
<line x1="638.9" y1="591.29" x2="642.5" y2="591.29" stroke="#ff0000" stroke-width="1.9"/>
<line x1="638.9" y1="581.725" x2="641.0" y2="581.725" stroke="#ff0000" stroke-width="1.3"/>
<line x1="638.9" y1="572.16" x2="642.5" y2="572.16" stroke="#ff0000" stroke-width="1.9"/>
<line x1="638.9" y1="562.595" x2="641.0" y2="562.595" stroke="#ff0000" stroke-width="1.3"/>
<line x1="638.9" y1="553.03" x2="642.5" y2="553.03" stroke="#ff0000" stroke-width="1.9"/>
<line x1="638.9" y1="543.4649999999999" x2="641.0" y2="543.4649999999999" stroke="#ff0000" stroke-width="1.3"/>
<line x1="638.9" y1="533.9" x2="642.5" y2="533.9" stroke="#ff0000" stroke-width="1.9"/>
<text x="401.0" y="743.7" font-size="11.6" fill="#000" text-anchor="middle" font-weight="normal" >150</text>
<text x="452.7" y="743.7" font-size="11.6" fill="#000" text-anchor="middle" font-weight="normal" >200</text>
<text x="504.4" y="743.7" font-size="11.6" fill="#000" text-anchor="middle" font-weight="normal" >250</text>
<text x="556.2" y="743.7" font-size="11.6" fill="#000" text-anchor="middle" font-weight="normal" >300</text>
<text x="607.9" y="743.7" font-size="11.6" fill="#000" text-anchor="middle" font-weight="normal" >350</text>
<text x="392.1" y="729.1" font-size="11.6" fill="#000" text-anchor="end" font-weight="normal" >0.0</text>
<text x="392.1" y="710.0" font-size="11.6" fill="#000" text-anchor="end" font-weight="normal" >0.1</text>
<text x="392.1" y="690.8" font-size="11.6" fill="#000" text-anchor="end" font-weight="normal" >0.2</text>
<text x="392.1" y="671.7" font-size="11.6" fill="#000" text-anchor="end" font-weight="normal" >0.3</text>
<text x="392.1" y="652.6" font-size="11.6" fill="#000" text-anchor="end" font-weight="normal" >0.4</text>
<text x="392.1" y="633.4" font-size="11.6" fill="#000" text-anchor="end" font-weight="normal" >0.5</text>
<text x="392.1" y="614.3" font-size="11.6" fill="#000" text-anchor="end" font-weight="normal" >0.6</text>
<text x="392.1" y="595.2" font-size="11.6" fill="#000" text-anchor="end" font-weight="normal" >0.7</text>
<text x="392.1" y="576.1" font-size="11.6" fill="#000" text-anchor="end" font-weight="normal" >0.8</text>
<text x="392.1" y="556.9" font-size="11.6" fill="#000" text-anchor="end" font-weight="normal" >0.9</text>
<text x="392.1" y="537.8" font-size="11.6" fill="#000" text-anchor="end" font-weight="normal" >1.0</text>
<text x="648.5" y="729.1" font-size="11.6" fill="#ff0000" text-anchor="start" font-weight="normal" >0.0</text>
<text x="648.5" y="710.0" font-size="11.6" fill="#ff0000" text-anchor="start" font-weight="normal" >0.2</text>
<text x="648.5" y="690.8" font-size="11.6" fill="#ff0000" text-anchor="start" font-weight="normal" >0.4</text>
<text x="648.5" y="671.7" font-size="11.6" fill="#ff0000" text-anchor="start" font-weight="normal" >0.6</text>
<text x="648.5" y="652.6" font-size="11.6" fill="#ff0000" text-anchor="start" font-weight="normal" >0.8</text>
<text x="648.5" y="633.4" font-size="11.6" fill="#ff0000" text-anchor="start" font-weight="normal" >1.0</text>
<text x="648.5" y="614.3" font-size="11.6" fill="#ff0000" text-anchor="start" font-weight="normal" >1.2</text>
<text x="648.5" y="595.2" font-size="11.6" fill="#ff0000" text-anchor="start" font-weight="normal" >1.4</text>
<text x="648.5" y="576.1" font-size="11.6" fill="#ff0000" text-anchor="start" font-weight="normal" >1.6</text>
<text x="648.5" y="556.9" font-size="11.6" fill="#ff0000" text-anchor="start" font-weight="normal" >1.8</text>
<text x="648.5" y="537.8" font-size="11.6" fill="#ff0000" text-anchor="start" font-weight="normal" >2.0</text>
<text x="365.8" y="629.5" font-size="11.65" fill="#000" text-anchor="middle" font-weight="normal" transform="rotate(-90 365.8 629.5)" >Transmittance</text>
<text x="682.4" y="629" font-size="11.65" fill="#ff0000" text-anchor="middle" font-weight="normal" transform="rotate(-90 682.4 629)" >Phase (&#960;)</text>
<text x="520" y="761.4" font-size="11.65" fill="#000" text-anchor="middle" font-weight="normal" >Diameter (nm)</text>
<circle cx="563.9" cy="542.5" r="3.3" fill="none" stroke="#000" stroke-width="2"/>
<circle cx="563.9" cy="557.6" r="3.3" fill="none" stroke="#ff0000" stroke-width="2"/>
<text x="572.7" y="545.8" font-size="9.8" fill="#000" text-anchor="start" font-weight="normal" >Transmittance</text>
<text x="572.7" y="560.9" font-size="9.8" fill="#ff0000" text-anchor="start" font-weight="normal" >Phase</text>
<text x="356" y="533.2" font-size="16" fill="#000" text-anchor="start" font-weight="bold" >f</text>
</svg></body></html>
